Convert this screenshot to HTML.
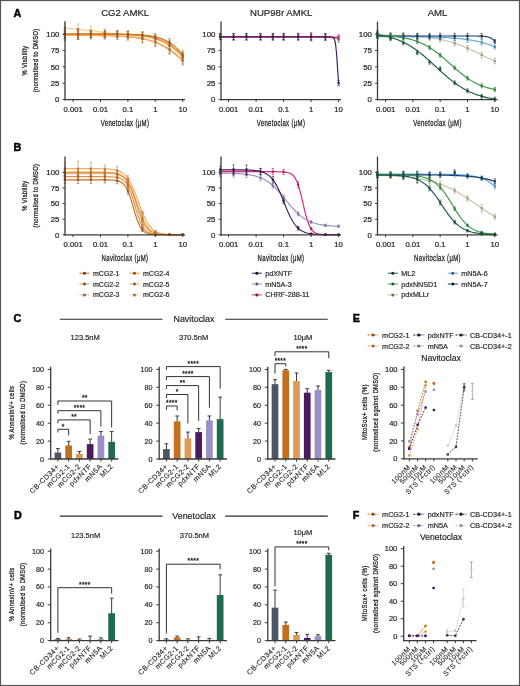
<!DOCTYPE html>
<html><head><meta charset="utf-8"><style>
html,body{margin:0;padding:0;background:#fff;}
svg{display:block;font-family:"Liberation Sans", sans-serif;will-change:transform;}
</style></head><body>
<svg width="520" height="686" viewBox="0 0 520 686">
<rect x="0.5" y="0.5" width="519" height="685" fill="#fff" stroke="#555" stroke-width="1.2"/>
<text x="13.60" y="17.00" font-size="10.8" text-anchor="start" font-weight="bold" fill="#000"  stroke="#000" stroke-width="0.45">A</text>
<text x="13.60" y="151.00" font-size="10.8" text-anchor="start" font-weight="bold" fill="#000"  stroke="#000" stroke-width="0.45">B</text>
<text x="13.60" y="322.30" font-size="10.8" text-anchor="start" font-weight="bold" fill="#000"  stroke="#000" stroke-width="0.45">C</text>
<text x="13.90" y="519.30" font-size="10.8" text-anchor="start" font-weight="bold" fill="#000"  stroke="#000" stroke-width="0.45">D</text>
<text x="352.80" y="322.30" font-size="10.8" text-anchor="start" font-weight="bold" fill="#000"  stroke="#000" stroke-width="0.45">E</text>
<text x="352.80" y="519.00" font-size="10.8" text-anchor="start" font-weight="bold" fill="#000"  stroke="#000" stroke-width="0.45">F</text>
<text x="125.20" y="16.30" font-size="9.6" text-anchor="middle" font-weight="normal" fill="#231f20" stroke="#231f20" stroke-width="0.18" >CG2 AMKL</text>
<text x="281.20" y="16.30" font-size="9.6" text-anchor="middle" font-weight="normal" fill="#231f20" stroke="#231f20" stroke-width="0.18" >NUP98r AMKL</text>
<text x="437.50" y="16.30" font-size="9.6" text-anchor="middle" font-weight="normal" fill="#231f20" stroke="#231f20" stroke-width="0.18" >AML</text>
<path d="M64.88,28.01 L65.86,28.09 L66.84,28.17 L67.83,28.25 L68.81,28.33 L69.79,28.42 L70.77,28.51 L71.75,28.60 L72.73,28.69 L73.72,28.78 L74.70,28.88 L75.68,28.98 L76.66,29.08 L77.64,29.18 L78.63,29.29 L79.61,29.40 L80.59,29.50 L81.57,29.62 L82.55,29.73 L83.53,29.84 L84.52,29.96 L85.50,30.08 L86.48,30.19 L87.46,30.31 L88.44,30.43 L89.43,30.56 L90.41,30.68 L91.39,30.80 L92.37,30.93 L93.35,31.05 L94.34,31.18 L95.32,31.30 L96.30,31.43 L97.28,31.56 L98.26,31.68 L99.24,31.81 L100.23,31.94 L101.21,32.07 L102.19,32.19 L103.17,32.32 L104.15,32.45 L105.14,32.57 L106.12,32.70 L107.10,32.82 L108.08,32.95 L109.06,33.07 L110.04,33.20 L111.03,33.32 L112.01,33.45 L112.99,33.57 L113.97,33.70 L114.95,33.82 L115.94,33.95 L116.92,34.07 L117.90,34.20 L118.88,34.33 L119.86,34.46 L120.84,34.58 L121.83,34.71 L122.81,34.85 L123.79,34.98 L124.77,35.11 L125.75,35.25 L126.74,35.39 L127.72,35.53 L128.70,35.68 L129.68,35.83 L130.66,35.98 L131.64,36.14 L132.63,36.30 L133.61,36.46 L134.59,36.63 L135.57,36.81 L136.55,36.99 L137.54,37.18 L138.52,37.37 L139.50,37.57 L140.48,37.78 L141.46,38.00 L142.44,38.23 L143.43,38.46 L144.41,38.71 L145.39,38.96 L146.37,39.23 L147.35,39.51 L148.34,39.80 L149.32,40.10 L150.30,40.41 L151.28,40.74 L152.26,41.09 L153.25,41.45 L154.23,41.82 L155.21,42.21 L156.19,42.62 L157.17,43.04 L158.15,43.49 L159.14,43.95 L160.12,44.43 L161.10,44.93 L162.08,45.44 L163.06,45.98 L164.05,46.54 L165.03,47.12 L166.01,47.72 L166.99,48.35 L167.97,48.99 L168.95,49.66 L169.94,50.34 L170.92,51.05 L171.90,51.78 L172.88,52.53 L173.86,53.30 L174.85,54.08 L175.83,54.89 L176.81,55.72 L177.79,56.56 L178.77,57.42 L179.75,58.30 L180.74,59.19 L181.72,60.09 L182.70,61.01" stroke="#f2d092" stroke-width="1.15" fill="none" />
<path d="M64.88,35.35 L65.86,35.35 L66.84,35.35 L67.83,35.35 L68.81,35.36 L69.79,35.36 L70.77,35.36 L71.75,35.36 L72.73,35.37 L73.72,35.37 L74.70,35.37 L75.68,35.38 L76.66,35.38 L77.64,35.39 L78.63,35.39 L79.61,35.40 L80.59,35.40 L81.57,35.41 L82.55,35.41 L83.53,35.42 L84.52,35.42 L85.50,35.43 L86.48,35.44 L87.46,35.45 L88.44,35.46 L89.43,35.46 L90.41,35.47 L91.39,35.48 L92.37,35.49 L93.35,35.50 L94.34,35.52 L95.32,35.53 L96.30,35.54 L97.28,35.56 L98.26,35.57 L99.24,35.59 L100.23,35.60 L101.21,35.62 L102.19,35.64 L103.17,35.66 L104.15,35.68 L105.14,35.70 L106.12,35.73 L107.10,35.75 L108.08,35.78 L109.06,35.81 L110.04,35.84 L111.03,35.87 L112.01,35.90 L112.99,35.94 L113.97,35.98 L114.95,36.02 L115.94,36.06 L116.92,36.10 L117.90,36.15 L118.88,36.20 L119.86,36.26 L120.84,36.31 L121.83,36.37 L122.81,36.44 L123.79,36.51 L124.77,36.58 L125.75,36.65 L126.74,36.73 L127.72,36.82 L128.70,36.91 L129.68,37.00 L130.66,37.10 L131.64,37.21 L132.63,37.32 L133.61,37.44 L134.59,37.57 L135.57,37.70 L136.55,37.84 L137.54,37.99 L138.52,38.15 L139.50,38.31 L140.48,38.49 L141.46,38.67 L142.44,38.87 L143.43,39.07 L144.41,39.29 L145.39,39.51 L146.37,39.75 L147.35,40.00 L148.34,40.27 L149.32,40.55 L150.30,40.84 L151.28,41.15 L152.26,41.47 L153.25,41.81 L154.23,42.17 L155.21,42.54 L156.19,42.93 L157.17,43.34 L158.15,43.76 L159.14,44.21 L160.12,44.67 L161.10,45.16 L162.08,45.67 L163.06,46.19 L164.05,46.74 L165.03,47.31 L166.01,47.90 L166.99,48.51 L167.97,49.15 L168.95,49.80 L169.94,50.48 L170.92,51.18 L171.90,51.90 L172.88,52.64 L173.86,53.40 L174.85,54.18 L175.83,54.99 L176.81,55.81 L177.79,56.64 L178.77,57.50 L179.75,58.37 L180.74,59.26 L181.72,60.16 L182.70,61.07" stroke="#e4b48c" stroke-width="1.15" fill="none" />
<path d="M64.88,35.34 L65.86,35.35 L66.84,35.35 L67.83,35.35 L68.81,35.35 L69.79,35.35 L70.77,35.36 L71.75,35.36 L72.73,35.36 L73.72,35.37 L74.70,35.37 L75.68,35.37 L76.66,35.38 L77.64,35.38 L78.63,35.38 L79.61,35.39 L80.59,35.39 L81.57,35.40 L82.55,35.40 L83.53,35.41 L84.52,35.42 L85.50,35.42 L86.48,35.43 L87.46,35.44 L88.44,35.44 L89.43,35.45 L90.41,35.46 L91.39,35.47 L92.37,35.48 L93.35,35.49 L94.34,35.50 L95.32,35.51 L96.30,35.52 L97.28,35.54 L98.26,35.55 L99.24,35.56 L100.23,35.58 L101.21,35.59 L102.19,35.61 L103.17,35.63 L104.15,35.65 L105.14,35.67 L106.12,35.69 L107.10,35.71 L108.08,35.74 L109.06,35.77 L110.04,35.79 L111.03,35.82 L112.01,35.85 L112.99,35.89 L113.97,35.92 L114.95,35.96 L115.94,36.00 L116.92,36.04 L117.90,36.08 L118.88,36.13 L119.86,36.18 L120.84,36.23 L121.83,36.29 L122.81,36.34 L123.79,36.41 L124.77,36.47 L125.75,36.54 L126.74,36.62 L127.72,36.69 L128.70,36.78 L129.68,36.86 L130.66,36.96 L131.64,37.05 L132.63,37.16 L133.61,37.27 L134.59,37.38 L135.57,37.51 L136.55,37.63 L137.54,37.77 L138.52,37.92 L139.50,38.07 L140.48,38.23 L141.46,38.40 L142.44,38.58 L143.43,38.77 L144.41,38.97 L145.39,39.18 L146.37,39.40 L147.35,39.63 L148.34,39.88 L149.32,40.14 L150.30,40.41 L151.28,40.69 L152.26,40.99 L153.25,41.31 L154.23,41.64 L155.21,41.99 L156.19,42.35 L157.17,42.73 L158.15,43.13 L159.14,43.55 L160.12,43.99 L161.10,44.44 L162.08,44.92 L163.06,45.41 L164.05,45.93 L165.03,46.46 L166.01,47.02 L166.99,47.60 L167.97,48.20 L168.95,48.83 L169.94,49.47 L170.92,50.14 L171.90,50.83 L172.88,51.54 L173.86,52.27 L174.85,53.02 L175.83,53.79 L176.81,54.59 L177.79,55.40 L178.77,56.23 L179.75,57.07 L180.74,57.94 L181.72,58.81 L182.70,59.71" stroke="#f4ac5c" stroke-width="1.15" fill="none" />
<path d="M64.88,34.01 L65.86,34.01 L66.84,34.01 L67.83,34.01 L68.81,34.01 L69.79,34.01 L70.77,34.01 L71.75,34.02 L72.73,34.02 L73.72,34.02 L74.70,34.02 L75.68,34.02 L76.66,34.02 L77.64,34.02 L78.63,34.02 L79.61,34.03 L80.59,34.03 L81.57,34.03 L82.55,34.03 L83.53,34.03 L84.52,34.04 L85.50,34.04 L86.48,34.04 L87.46,34.05 L88.44,34.05 L89.43,34.05 L90.41,34.06 L91.39,34.06 L92.37,34.06 L93.35,34.07 L94.34,34.07 L95.32,34.08 L96.30,34.08 L97.28,34.09 L98.26,34.10 L99.24,34.10 L100.23,34.11 L101.21,34.12 L102.19,34.13 L103.17,34.14 L104.15,34.14 L105.14,34.16 L106.12,34.17 L107.10,34.18 L108.08,34.19 L109.06,34.20 L110.04,34.22 L111.03,34.23 L112.01,34.25 L112.99,34.27 L113.97,34.29 L114.95,34.31 L115.94,34.33 L116.92,34.35 L117.90,34.38 L118.88,34.40 L119.86,34.43 L120.84,34.46 L121.83,34.49 L122.81,34.53 L123.79,34.57 L124.77,34.61 L125.75,34.65 L126.74,34.69 L127.72,34.74 L128.70,34.79 L129.68,34.85 L130.66,34.91 L131.64,34.97 L132.63,35.04 L133.61,35.11 L134.59,35.19 L135.57,35.27 L136.55,35.36 L137.54,35.46 L138.52,35.56 L139.50,35.66 L140.48,35.78 L141.46,35.90 L142.44,36.03 L143.43,36.17 L144.41,36.32 L145.39,36.48 L146.37,36.65 L147.35,36.83 L148.34,37.02 L149.32,37.22 L150.30,37.44 L151.28,37.67 L152.26,37.91 L153.25,38.17 L154.23,38.45 L155.21,38.74 L156.19,39.05 L157.17,39.38 L158.15,39.73 L159.14,40.09 L160.12,40.48 L161.10,40.89 L162.08,41.33 L163.06,41.79 L164.05,42.27 L165.03,42.78 L166.01,43.31 L166.99,43.87 L167.97,44.46 L168.95,45.07 L169.94,45.72 L170.92,46.39 L171.90,47.10 L172.88,47.83 L173.86,48.59 L174.85,49.38 L175.83,50.20 L176.81,51.05 L177.79,51.93 L178.77,52.84 L179.75,53.77 L180.74,54.73 L181.72,55.71 L182.70,56.72" stroke="#dc9050" stroke-width="1.15" fill="none" />
<path d="M64.88,34.00 L65.86,34.00 L66.84,34.01 L67.83,34.01 L68.81,34.01 L69.79,34.01 L70.77,34.01 L71.75,34.01 L72.73,34.01 L73.72,34.01 L74.70,34.01 L75.68,34.01 L76.66,34.01 L77.64,34.01 L78.63,34.01 L79.61,34.01 L80.59,34.02 L81.57,34.02 L82.55,34.02 L83.53,34.02 L84.52,34.02 L85.50,34.02 L86.48,34.02 L87.46,34.03 L88.44,34.03 L89.43,34.03 L90.41,34.03 L91.39,34.03 L92.37,34.04 L93.35,34.04 L94.34,34.04 L95.32,34.05 L96.30,34.05 L97.28,34.05 L98.26,34.06 L99.24,34.06 L100.23,34.07 L101.21,34.07 L102.19,34.08 L103.17,34.08 L104.15,34.09 L105.14,34.10 L106.12,34.10 L107.10,34.11 L108.08,34.12 L109.06,34.13 L110.04,34.14 L111.03,34.15 L112.01,34.16 L112.99,34.18 L113.97,34.19 L114.95,34.20 L115.94,34.22 L116.92,34.24 L117.90,34.25 L118.88,34.27 L119.86,34.30 L120.84,34.32 L121.83,34.34 L122.81,34.37 L123.79,34.40 L124.77,34.43 L125.75,34.46 L126.74,34.50 L127.72,34.53 L128.70,34.57 L129.68,34.62 L130.66,34.66 L131.64,34.72 L132.63,34.77 L133.61,34.83 L134.59,34.89 L135.57,34.96 L136.55,35.03 L137.54,35.11 L138.52,35.19 L139.50,35.28 L140.48,35.38 L141.46,35.49 L142.44,35.60 L143.43,35.72 L144.41,35.85 L145.39,35.98 L146.37,36.13 L147.35,36.29 L148.34,36.46 L149.32,36.64 L150.30,36.84 L151.28,37.05 L152.26,37.27 L153.25,37.51 L154.23,37.76 L155.21,38.03 L156.19,38.32 L157.17,38.63 L158.15,38.96 L159.14,39.32 L160.12,39.69 L161.10,40.09 L162.08,40.51 L163.06,40.96 L164.05,41.44 L165.03,41.94 L166.01,42.47 L166.99,43.04 L167.97,43.63 L168.95,44.26 L169.94,44.92 L170.92,45.61 L171.90,46.33 L172.88,47.10 L173.86,47.89 L174.85,48.72 L175.83,49.59 L176.81,50.49 L177.79,51.42 L178.77,52.39 L179.75,53.38 L180.74,54.41 L181.72,55.47 L182.70,56.56" stroke="#f0902a" stroke-width="1.15" fill="none" />
<path d="M64.88,34.00 L65.86,34.00 L66.84,34.00 L67.83,34.00 L68.81,34.00 L69.79,34.00 L70.77,34.00 L71.75,34.00 L72.73,34.00 L73.72,34.00 L74.70,34.00 L75.68,34.00 L76.66,34.00 L77.64,34.00 L78.63,34.00 L79.61,34.01 L80.59,34.01 L81.57,34.01 L82.55,34.01 L83.53,34.01 L84.52,34.01 L85.50,34.01 L86.48,34.01 L87.46,34.01 L88.44,34.01 L89.43,34.01 L90.41,34.01 L91.39,34.01 L92.37,34.02 L93.35,34.02 L94.34,34.02 L95.32,34.02 L96.30,34.02 L97.28,34.02 L98.26,34.02 L99.24,34.03 L100.23,34.03 L101.21,34.03 L102.19,34.03 L103.17,34.04 L104.15,34.04 L105.14,34.04 L106.12,34.05 L107.10,34.05 L108.08,34.06 L109.06,34.06 L110.04,34.07 L111.03,34.07 L112.01,34.08 L112.99,34.09 L113.97,34.09 L114.95,34.10 L115.94,34.11 L116.92,34.12 L117.90,34.13 L118.88,34.14 L119.86,34.15 L120.84,34.17 L121.83,34.18 L122.81,34.20 L123.79,34.21 L124.77,34.23 L125.75,34.25 L126.74,34.27 L127.72,34.30 L128.70,34.32 L129.68,34.35 L130.66,34.38 L131.64,34.41 L132.63,34.44 L133.61,34.48 L134.59,34.52 L135.57,34.57 L136.55,34.62 L137.54,34.67 L138.52,34.73 L139.50,34.79 L140.48,34.85 L141.46,34.93 L142.44,35.01 L143.43,35.09 L144.41,35.18 L145.39,35.28 L146.37,35.39 L147.35,35.51 L148.34,35.63 L149.32,35.77 L150.30,35.92 L151.28,36.08 L152.26,36.25 L153.25,36.44 L154.23,36.64 L155.21,36.86 L156.19,37.09 L157.17,37.34 L158.15,37.61 L159.14,37.91 L160.12,38.22 L161.10,38.56 L162.08,38.92 L163.06,39.31 L164.05,39.73 L165.03,40.17 L166.01,40.65 L166.99,41.16 L167.97,41.70 L168.95,42.28 L169.94,42.90 L170.92,43.55 L171.90,44.25 L172.88,44.98 L173.86,45.75 L174.85,46.57 L175.83,47.43 L176.81,48.33 L177.79,49.28 L178.77,50.27 L179.75,51.30 L180.74,52.37 L181.72,53.48 L182.70,54.63" stroke="#c8701e" stroke-width="1.15" fill="none" />
<line x1="64.88" y1="21.45" x2="64.88" y2="34.57" stroke="#c1a674" stroke-width="0.8" stroke-opacity="0.75"/>
<line x1="63.68" y1="21.45" x2="66.08" y2="21.45" stroke="#c1a674" stroke-width="0.8" stroke-opacity="0.75"/>
<line x1="63.68" y1="34.57" x2="66.08" y2="34.57" stroke="#c1a674" stroke-width="0.8" stroke-opacity="0.75"/>
<rect x="63.78" y="26.91" width="2.2" height="2.2" fill="#c1a674"/>
<line x1="78.03" y1="23.98" x2="78.03" y2="34.47" stroke="#c1a674" stroke-width="0.8" stroke-opacity="0.75"/>
<line x1="76.83" y1="23.98" x2="79.23" y2="23.98" stroke="#c1a674" stroke-width="0.8" stroke-opacity="0.75"/>
<line x1="76.83" y1="34.47" x2="79.23" y2="34.47" stroke="#c1a674" stroke-width="0.8" stroke-opacity="0.75"/>
<rect x="76.93" y="28.12" width="2.2" height="2.2" fill="#c1a674"/>
<line x1="90.91" y1="26.15" x2="90.91" y2="35.33" stroke="#c1a674" stroke-width="0.8" stroke-opacity="0.75"/>
<line x1="89.71" y1="26.15" x2="92.11" y2="26.15" stroke="#c1a674" stroke-width="0.8" stroke-opacity="0.75"/>
<line x1="89.71" y1="35.33" x2="92.11" y2="35.33" stroke="#c1a674" stroke-width="0.8" stroke-opacity="0.75"/>
<rect x="89.81" y="29.64" width="2.2" height="2.2" fill="#c1a674"/>
<line x1="104.88" y1="28.60" x2="104.88" y2="36.48" stroke="#c1a674" stroke-width="0.8" stroke-opacity="0.75"/>
<line x1="103.68" y1="28.60" x2="106.08" y2="28.60" stroke="#c1a674" stroke-width="0.8" stroke-opacity="0.75"/>
<line x1="103.68" y1="36.48" x2="106.08" y2="36.48" stroke="#c1a674" stroke-width="0.8" stroke-opacity="0.75"/>
<rect x="103.78" y="31.44" width="2.2" height="2.2" fill="#c1a674"/>
<line x1="117.21" y1="30.83" x2="117.21" y2="37.39" stroke="#c1a674" stroke-width="0.8" stroke-opacity="0.75"/>
<line x1="116.01" y1="30.83" x2="118.41" y2="30.83" stroke="#c1a674" stroke-width="0.8" stroke-opacity="0.75"/>
<line x1="116.01" y1="37.39" x2="118.41" y2="37.39" stroke="#c1a674" stroke-width="0.8" stroke-opacity="0.75"/>
<rect x="116.11" y="33.01" width="2.2" height="2.2" fill="#c1a674"/>
<line x1="127.90" y1="32.28" x2="127.90" y2="38.84" stroke="#c1a674" stroke-width="0.8" stroke-opacity="0.75"/>
<line x1="126.70" y1="32.28" x2="129.10" y2="32.28" stroke="#c1a674" stroke-width="0.8" stroke-opacity="0.75"/>
<line x1="126.70" y1="38.84" x2="129.10" y2="38.84" stroke="#c1a674" stroke-width="0.8" stroke-opacity="0.75"/>
<rect x="126.80" y="34.46" width="2.2" height="2.2" fill="#c1a674"/>
<line x1="142.42" y1="34.28" x2="142.42" y2="42.16" stroke="#c1a674" stroke-width="0.8" stroke-opacity="0.75"/>
<line x1="141.22" y1="34.28" x2="143.62" y2="34.28" stroke="#c1a674" stroke-width="0.8" stroke-opacity="0.75"/>
<line x1="141.22" y1="42.16" x2="143.62" y2="42.16" stroke="#c1a674" stroke-width="0.8" stroke-opacity="0.75"/>
<rect x="141.32" y="37.12" width="2.2" height="2.2" fill="#c1a674"/>
<line x1="155.30" y1="38.31" x2="155.30" y2="46.18" stroke="#c1a674" stroke-width="0.8" stroke-opacity="0.75"/>
<line x1="154.10" y1="38.31" x2="156.50" y2="38.31" stroke="#c1a674" stroke-width="0.8" stroke-opacity="0.75"/>
<line x1="154.10" y1="46.18" x2="156.50" y2="46.18" stroke="#c1a674" stroke-width="0.8" stroke-opacity="0.75"/>
<rect x="154.20" y="41.15" width="2.2" height="2.2" fill="#c1a674"/>
<line x1="169.55" y1="46.13" x2="169.55" y2="54.00" stroke="#c1a674" stroke-width="0.8" stroke-opacity="0.75"/>
<line x1="168.35" y1="46.13" x2="170.75" y2="46.13" stroke="#c1a674" stroke-width="0.8" stroke-opacity="0.75"/>
<line x1="168.35" y1="54.00" x2="170.75" y2="54.00" stroke="#c1a674" stroke-width="0.8" stroke-opacity="0.75"/>
<rect x="168.45" y="48.97" width="2.2" height="2.2" fill="#c1a674"/>
<line x1="182.70" y1="57.07" x2="182.70" y2="64.95" stroke="#c1a674" stroke-width="0.8" stroke-opacity="0.75"/>
<line x1="181.50" y1="57.07" x2="183.90" y2="57.07" stroke="#c1a674" stroke-width="0.8" stroke-opacity="0.75"/>
<line x1="181.50" y1="64.95" x2="183.90" y2="64.95" stroke="#c1a674" stroke-width="0.8" stroke-opacity="0.75"/>
<rect x="181.60" y="59.91" width="2.2" height="2.2" fill="#c1a674"/>
<line x1="64.88" y1="31.41" x2="64.88" y2="39.28" stroke="#b69070" stroke-width="0.8" stroke-opacity="0.75"/>
<line x1="63.68" y1="31.41" x2="66.08" y2="31.41" stroke="#b69070" stroke-width="0.8" stroke-opacity="0.75"/>
<line x1="63.68" y1="39.28" x2="66.08" y2="39.28" stroke="#b69070" stroke-width="0.8" stroke-opacity="0.75"/>
<rect x="63.78" y="34.25" width="2.2" height="2.2" fill="#b69070"/>
<line x1="78.03" y1="31.45" x2="78.03" y2="39.32" stroke="#b69070" stroke-width="0.8" stroke-opacity="0.75"/>
<line x1="76.83" y1="31.45" x2="79.23" y2="31.45" stroke="#b69070" stroke-width="0.8" stroke-opacity="0.75"/>
<line x1="76.83" y1="39.32" x2="79.23" y2="39.32" stroke="#b69070" stroke-width="0.8" stroke-opacity="0.75"/>
<rect x="76.93" y="34.29" width="2.2" height="2.2" fill="#b69070"/>
<line x1="90.91" y1="32.20" x2="90.91" y2="38.76" stroke="#b69070" stroke-width="0.8" stroke-opacity="0.75"/>
<line x1="89.71" y1="32.20" x2="92.11" y2="32.20" stroke="#b69070" stroke-width="0.8" stroke-opacity="0.75"/>
<line x1="89.71" y1="38.76" x2="92.11" y2="38.76" stroke="#b69070" stroke-width="0.8" stroke-opacity="0.75"/>
<rect x="89.81" y="34.38" width="2.2" height="2.2" fill="#b69070"/>
<line x1="104.88" y1="32.42" x2="104.88" y2="38.98" stroke="#b69070" stroke-width="0.8" stroke-opacity="0.75"/>
<line x1="103.68" y1="32.42" x2="106.08" y2="32.42" stroke="#b69070" stroke-width="0.8" stroke-opacity="0.75"/>
<line x1="103.68" y1="38.98" x2="106.08" y2="38.98" stroke="#b69070" stroke-width="0.8" stroke-opacity="0.75"/>
<rect x="103.78" y="34.60" width="2.2" height="2.2" fill="#b69070"/>
<line x1="117.21" y1="32.84" x2="117.21" y2="39.40" stroke="#b69070" stroke-width="0.8" stroke-opacity="0.75"/>
<line x1="116.01" y1="32.84" x2="118.41" y2="32.84" stroke="#b69070" stroke-width="0.8" stroke-opacity="0.75"/>
<line x1="116.01" y1="39.40" x2="118.41" y2="39.40" stroke="#b69070" stroke-width="0.8" stroke-opacity="0.75"/>
<rect x="116.11" y="35.02" width="2.2" height="2.2" fill="#b69070"/>
<line x1="127.90" y1="33.56" x2="127.90" y2="40.12" stroke="#b69070" stroke-width="0.8" stroke-opacity="0.75"/>
<line x1="126.70" y1="33.56" x2="129.10" y2="33.56" stroke="#b69070" stroke-width="0.8" stroke-opacity="0.75"/>
<line x1="126.70" y1="40.12" x2="129.10" y2="40.12" stroke="#b69070" stroke-width="0.8" stroke-opacity="0.75"/>
<rect x="126.80" y="35.74" width="2.2" height="2.2" fill="#b69070"/>
<line x1="142.42" y1="34.92" x2="142.42" y2="42.80" stroke="#b69070" stroke-width="0.8" stroke-opacity="0.75"/>
<line x1="141.22" y1="34.92" x2="143.62" y2="34.92" stroke="#b69070" stroke-width="0.8" stroke-opacity="0.75"/>
<line x1="141.22" y1="42.80" x2="143.62" y2="42.80" stroke="#b69070" stroke-width="0.8" stroke-opacity="0.75"/>
<rect x="141.32" y="37.76" width="2.2" height="2.2" fill="#b69070"/>
<line x1="155.30" y1="38.64" x2="155.30" y2="46.51" stroke="#b69070" stroke-width="0.8" stroke-opacity="0.75"/>
<line x1="154.10" y1="38.64" x2="156.50" y2="38.64" stroke="#b69070" stroke-width="0.8" stroke-opacity="0.75"/>
<line x1="154.10" y1="46.51" x2="156.50" y2="46.51" stroke="#b69070" stroke-width="0.8" stroke-opacity="0.75"/>
<rect x="154.20" y="41.47" width="2.2" height="2.2" fill="#b69070"/>
<line x1="169.55" y1="46.27" x2="169.55" y2="54.14" stroke="#b69070" stroke-width="0.8" stroke-opacity="0.75"/>
<line x1="168.35" y1="46.27" x2="170.75" y2="46.27" stroke="#b69070" stroke-width="0.8" stroke-opacity="0.75"/>
<line x1="168.35" y1="54.14" x2="170.75" y2="54.14" stroke="#b69070" stroke-width="0.8" stroke-opacity="0.75"/>
<rect x="168.45" y="49.11" width="2.2" height="2.2" fill="#b69070"/>
<line x1="182.70" y1="57.13" x2="182.70" y2="65.00" stroke="#b69070" stroke-width="0.8" stroke-opacity="0.75"/>
<line x1="181.50" y1="57.13" x2="183.90" y2="57.13" stroke="#b69070" stroke-width="0.8" stroke-opacity="0.75"/>
<line x1="181.50" y1="65.00" x2="183.90" y2="65.00" stroke="#b69070" stroke-width="0.8" stroke-opacity="0.75"/>
<rect x="181.60" y="59.97" width="2.2" height="2.2" fill="#b69070"/>
<line x1="64.88" y1="31.41" x2="64.88" y2="39.28" stroke="#c38949" stroke-width="0.8" stroke-opacity="0.75"/>
<line x1="63.68" y1="31.41" x2="66.08" y2="31.41" stroke="#c38949" stroke-width="0.8" stroke-opacity="0.75"/>
<line x1="63.68" y1="39.28" x2="66.08" y2="39.28" stroke="#c38949" stroke-width="0.8" stroke-opacity="0.75"/>
<rect x="63.78" y="34.24" width="2.2" height="2.2" fill="#c38949"/>
<line x1="78.03" y1="31.45" x2="78.03" y2="39.32" stroke="#c38949" stroke-width="0.8" stroke-opacity="0.75"/>
<line x1="76.83" y1="31.45" x2="79.23" y2="31.45" stroke="#c38949" stroke-width="0.8" stroke-opacity="0.75"/>
<line x1="76.83" y1="39.32" x2="79.23" y2="39.32" stroke="#c38949" stroke-width="0.8" stroke-opacity="0.75"/>
<rect x="76.93" y="34.28" width="2.2" height="2.2" fill="#c38949"/>
<line x1="90.91" y1="32.18" x2="90.91" y2="38.74" stroke="#c38949" stroke-width="0.8" stroke-opacity="0.75"/>
<line x1="89.71" y1="32.18" x2="92.11" y2="32.18" stroke="#c38949" stroke-width="0.8" stroke-opacity="0.75"/>
<line x1="89.71" y1="38.74" x2="92.11" y2="38.74" stroke="#c38949" stroke-width="0.8" stroke-opacity="0.75"/>
<rect x="89.81" y="34.36" width="2.2" height="2.2" fill="#c38949"/>
<line x1="104.88" y1="32.38" x2="104.88" y2="38.94" stroke="#c38949" stroke-width="0.8" stroke-opacity="0.75"/>
<line x1="103.68" y1="32.38" x2="106.08" y2="32.38" stroke="#c38949" stroke-width="0.8" stroke-opacity="0.75"/>
<line x1="103.68" y1="38.94" x2="106.08" y2="38.94" stroke="#c38949" stroke-width="0.8" stroke-opacity="0.75"/>
<rect x="103.78" y="34.56" width="2.2" height="2.2" fill="#c38949"/>
<line x1="117.21" y1="32.77" x2="117.21" y2="39.33" stroke="#c38949" stroke-width="0.8" stroke-opacity="0.75"/>
<line x1="116.01" y1="32.77" x2="118.41" y2="32.77" stroke="#c38949" stroke-width="0.8" stroke-opacity="0.75"/>
<line x1="116.01" y1="39.33" x2="118.41" y2="39.33" stroke="#c38949" stroke-width="0.8" stroke-opacity="0.75"/>
<rect x="116.11" y="34.95" width="2.2" height="2.2" fill="#c38949"/>
<line x1="127.90" y1="33.43" x2="127.90" y2="39.99" stroke="#c38949" stroke-width="0.8" stroke-opacity="0.75"/>
<line x1="126.70" y1="33.43" x2="129.10" y2="33.43" stroke="#c38949" stroke-width="0.8" stroke-opacity="0.75"/>
<line x1="126.70" y1="39.99" x2="129.10" y2="39.99" stroke="#c38949" stroke-width="0.8" stroke-opacity="0.75"/>
<rect x="126.80" y="35.61" width="2.2" height="2.2" fill="#c38949"/>
<line x1="142.42" y1="34.64" x2="142.42" y2="42.51" stroke="#c38949" stroke-width="0.8" stroke-opacity="0.75"/>
<line x1="141.22" y1="34.64" x2="143.62" y2="34.64" stroke="#c38949" stroke-width="0.8" stroke-opacity="0.75"/>
<line x1="141.22" y1="42.51" x2="143.62" y2="42.51" stroke="#c38949" stroke-width="0.8" stroke-opacity="0.75"/>
<rect x="141.32" y="37.47" width="2.2" height="2.2" fill="#c38949"/>
<line x1="155.30" y1="38.09" x2="155.30" y2="45.96" stroke="#c38949" stroke-width="0.8" stroke-opacity="0.75"/>
<line x1="154.10" y1="38.09" x2="156.50" y2="38.09" stroke="#c38949" stroke-width="0.8" stroke-opacity="0.75"/>
<line x1="154.10" y1="45.96" x2="156.50" y2="45.96" stroke="#c38949" stroke-width="0.8" stroke-opacity="0.75"/>
<rect x="154.20" y="40.92" width="2.2" height="2.2" fill="#c38949"/>
<line x1="169.55" y1="45.28" x2="169.55" y2="53.15" stroke="#c38949" stroke-width="0.8" stroke-opacity="0.75"/>
<line x1="168.35" y1="45.28" x2="170.75" y2="45.28" stroke="#c38949" stroke-width="0.8" stroke-opacity="0.75"/>
<line x1="168.35" y1="53.15" x2="170.75" y2="53.15" stroke="#c38949" stroke-width="0.8" stroke-opacity="0.75"/>
<rect x="168.45" y="48.11" width="2.2" height="2.2" fill="#c38949"/>
<line x1="182.70" y1="55.77" x2="182.70" y2="63.64" stroke="#c38949" stroke-width="0.8" stroke-opacity="0.75"/>
<line x1="181.50" y1="55.77" x2="183.90" y2="55.77" stroke="#c38949" stroke-width="0.8" stroke-opacity="0.75"/>
<line x1="181.50" y1="63.64" x2="183.90" y2="63.64" stroke="#c38949" stroke-width="0.8" stroke-opacity="0.75"/>
<rect x="181.60" y="58.61" width="2.2" height="2.2" fill="#c38949"/>
<line x1="64.88" y1="30.07" x2="64.88" y2="37.95" stroke="#b07340" stroke-width="0.8" stroke-opacity="0.75"/>
<line x1="63.68" y1="30.07" x2="66.08" y2="30.07" stroke="#b07340" stroke-width="0.8" stroke-opacity="0.75"/>
<line x1="63.68" y1="37.95" x2="66.08" y2="37.95" stroke="#b07340" stroke-width="0.8" stroke-opacity="0.75"/>
<rect x="63.78" y="32.91" width="2.2" height="2.2" fill="#b07340"/>
<line x1="78.03" y1="30.09" x2="78.03" y2="37.96" stroke="#b07340" stroke-width="0.8" stroke-opacity="0.75"/>
<line x1="76.83" y1="30.09" x2="79.23" y2="30.09" stroke="#b07340" stroke-width="0.8" stroke-opacity="0.75"/>
<line x1="76.83" y1="37.96" x2="79.23" y2="37.96" stroke="#b07340" stroke-width="0.8" stroke-opacity="0.75"/>
<rect x="76.93" y="32.92" width="2.2" height="2.2" fill="#b07340"/>
<line x1="90.91" y1="30.78" x2="90.91" y2="37.34" stroke="#b07340" stroke-width="0.8" stroke-opacity="0.75"/>
<line x1="89.71" y1="30.78" x2="92.11" y2="30.78" stroke="#b07340" stroke-width="0.8" stroke-opacity="0.75"/>
<line x1="89.71" y1="37.34" x2="92.11" y2="37.34" stroke="#b07340" stroke-width="0.8" stroke-opacity="0.75"/>
<rect x="89.81" y="32.96" width="2.2" height="2.2" fill="#b07340"/>
<line x1="104.88" y1="30.87" x2="104.88" y2="37.43" stroke="#b07340" stroke-width="0.8" stroke-opacity="0.75"/>
<line x1="103.68" y1="30.87" x2="106.08" y2="30.87" stroke="#b07340" stroke-width="0.8" stroke-opacity="0.75"/>
<line x1="103.68" y1="37.43" x2="106.08" y2="37.43" stroke="#b07340" stroke-width="0.8" stroke-opacity="0.75"/>
<rect x="103.78" y="33.05" width="2.2" height="2.2" fill="#b07340"/>
<line x1="117.21" y1="31.08" x2="117.21" y2="37.64" stroke="#b07340" stroke-width="0.8" stroke-opacity="0.75"/>
<line x1="116.01" y1="31.08" x2="118.41" y2="31.08" stroke="#b07340" stroke-width="0.8" stroke-opacity="0.75"/>
<line x1="116.01" y1="37.64" x2="118.41" y2="37.64" stroke="#b07340" stroke-width="0.8" stroke-opacity="0.75"/>
<rect x="116.11" y="33.26" width="2.2" height="2.2" fill="#b07340"/>
<line x1="127.90" y1="31.47" x2="127.90" y2="38.03" stroke="#b07340" stroke-width="0.8" stroke-opacity="0.75"/>
<line x1="126.70" y1="31.47" x2="129.10" y2="31.47" stroke="#b07340" stroke-width="0.8" stroke-opacity="0.75"/>
<line x1="126.70" y1="38.03" x2="129.10" y2="38.03" stroke="#b07340" stroke-width="0.8" stroke-opacity="0.75"/>
<rect x="126.80" y="33.65" width="2.2" height="2.2" fill="#b07340"/>
<line x1="142.42" y1="32.75" x2="142.42" y2="39.31" stroke="#b07340" stroke-width="0.8" stroke-opacity="0.75"/>
<line x1="141.22" y1="32.75" x2="143.62" y2="32.75" stroke="#b07340" stroke-width="0.8" stroke-opacity="0.75"/>
<line x1="141.22" y1="39.31" x2="143.62" y2="39.31" stroke="#b07340" stroke-width="0.8" stroke-opacity="0.75"/>
<rect x="141.32" y="34.93" width="2.2" height="2.2" fill="#b07340"/>
<line x1="155.30" y1="35.49" x2="155.30" y2="42.05" stroke="#b07340" stroke-width="0.8" stroke-opacity="0.75"/>
<line x1="154.10" y1="35.49" x2="156.50" y2="35.49" stroke="#b07340" stroke-width="0.8" stroke-opacity="0.75"/>
<line x1="154.10" y1="42.05" x2="156.50" y2="42.05" stroke="#b07340" stroke-width="0.8" stroke-opacity="0.75"/>
<rect x="154.20" y="37.67" width="2.2" height="2.2" fill="#b07340"/>
<line x1="169.55" y1="41.52" x2="169.55" y2="49.40" stroke="#b07340" stroke-width="0.8" stroke-opacity="0.75"/>
<line x1="168.35" y1="41.52" x2="170.75" y2="41.52" stroke="#b07340" stroke-width="0.8" stroke-opacity="0.75"/>
<line x1="168.35" y1="49.40" x2="170.75" y2="49.40" stroke="#b07340" stroke-width="0.8" stroke-opacity="0.75"/>
<rect x="168.45" y="44.36" width="2.2" height="2.2" fill="#b07340"/>
<line x1="182.70" y1="52.78" x2="182.70" y2="60.65" stroke="#b07340" stroke-width="0.8" stroke-opacity="0.75"/>
<line x1="181.50" y1="52.78" x2="183.90" y2="52.78" stroke="#b07340" stroke-width="0.8" stroke-opacity="0.75"/>
<line x1="181.50" y1="60.65" x2="183.90" y2="60.65" stroke="#b07340" stroke-width="0.8" stroke-opacity="0.75"/>
<rect x="181.60" y="55.62" width="2.2" height="2.2" fill="#b07340"/>
<line x1="64.88" y1="30.07" x2="64.88" y2="37.94" stroke="#c07321" stroke-width="0.8" stroke-opacity="0.75"/>
<line x1="63.68" y1="30.07" x2="66.08" y2="30.07" stroke="#c07321" stroke-width="0.8" stroke-opacity="0.75"/>
<line x1="63.68" y1="37.94" x2="66.08" y2="37.94" stroke="#c07321" stroke-width="0.8" stroke-opacity="0.75"/>
<rect x="63.78" y="32.90" width="2.2" height="2.2" fill="#c07321"/>
<line x1="78.03" y1="30.08" x2="78.03" y2="37.95" stroke="#c07321" stroke-width="0.8" stroke-opacity="0.75"/>
<line x1="76.83" y1="30.08" x2="79.23" y2="30.08" stroke="#c07321" stroke-width="0.8" stroke-opacity="0.75"/>
<line x1="76.83" y1="37.95" x2="79.23" y2="37.95" stroke="#c07321" stroke-width="0.8" stroke-opacity="0.75"/>
<rect x="76.93" y="32.91" width="2.2" height="2.2" fill="#c07321"/>
<line x1="90.91" y1="30.75" x2="90.91" y2="37.31" stroke="#c07321" stroke-width="0.8" stroke-opacity="0.75"/>
<line x1="89.71" y1="30.75" x2="92.11" y2="30.75" stroke="#c07321" stroke-width="0.8" stroke-opacity="0.75"/>
<line x1="89.71" y1="37.31" x2="92.11" y2="37.31" stroke="#c07321" stroke-width="0.8" stroke-opacity="0.75"/>
<rect x="89.81" y="32.93" width="2.2" height="2.2" fill="#c07321"/>
<line x1="104.88" y1="30.82" x2="104.88" y2="37.38" stroke="#c07321" stroke-width="0.8" stroke-opacity="0.75"/>
<line x1="103.68" y1="30.82" x2="106.08" y2="30.82" stroke="#c07321" stroke-width="0.8" stroke-opacity="0.75"/>
<line x1="103.68" y1="37.38" x2="106.08" y2="37.38" stroke="#c07321" stroke-width="0.8" stroke-opacity="0.75"/>
<rect x="103.78" y="33.00" width="2.2" height="2.2" fill="#c07321"/>
<line x1="117.21" y1="30.96" x2="117.21" y2="37.52" stroke="#c07321" stroke-width="0.8" stroke-opacity="0.75"/>
<line x1="116.01" y1="30.96" x2="118.41" y2="30.96" stroke="#c07321" stroke-width="0.8" stroke-opacity="0.75"/>
<line x1="116.01" y1="37.52" x2="118.41" y2="37.52" stroke="#c07321" stroke-width="0.8" stroke-opacity="0.75"/>
<rect x="116.11" y="33.14" width="2.2" height="2.2" fill="#c07321"/>
<line x1="127.90" y1="31.26" x2="127.90" y2="37.82" stroke="#c07321" stroke-width="0.8" stroke-opacity="0.75"/>
<line x1="126.70" y1="31.26" x2="129.10" y2="31.26" stroke="#c07321" stroke-width="0.8" stroke-opacity="0.75"/>
<line x1="126.70" y1="37.82" x2="129.10" y2="37.82" stroke="#c07321" stroke-width="0.8" stroke-opacity="0.75"/>
<rect x="126.80" y="33.44" width="2.2" height="2.2" fill="#c07321"/>
<line x1="142.42" y1="32.31" x2="142.42" y2="38.87" stroke="#c07321" stroke-width="0.8" stroke-opacity="0.75"/>
<line x1="141.22" y1="32.31" x2="143.62" y2="32.31" stroke="#c07321" stroke-width="0.8" stroke-opacity="0.75"/>
<line x1="141.22" y1="38.87" x2="143.62" y2="38.87" stroke="#c07321" stroke-width="0.8" stroke-opacity="0.75"/>
<rect x="141.32" y="34.49" width="2.2" height="2.2" fill="#c07321"/>
<line x1="155.30" y1="34.78" x2="155.30" y2="41.34" stroke="#c07321" stroke-width="0.8" stroke-opacity="0.75"/>
<line x1="154.10" y1="34.78" x2="156.50" y2="34.78" stroke="#c07321" stroke-width="0.8" stroke-opacity="0.75"/>
<line x1="154.10" y1="41.34" x2="156.50" y2="41.34" stroke="#c07321" stroke-width="0.8" stroke-opacity="0.75"/>
<rect x="154.20" y="36.96" width="2.2" height="2.2" fill="#c07321"/>
<line x1="169.55" y1="40.71" x2="169.55" y2="48.59" stroke="#c07321" stroke-width="0.8" stroke-opacity="0.75"/>
<line x1="168.35" y1="40.71" x2="170.75" y2="40.71" stroke="#c07321" stroke-width="0.8" stroke-opacity="0.75"/>
<line x1="168.35" y1="48.59" x2="170.75" y2="48.59" stroke="#c07321" stroke-width="0.8" stroke-opacity="0.75"/>
<rect x="168.45" y="43.55" width="2.2" height="2.2" fill="#c07321"/>
<line x1="182.70" y1="52.62" x2="182.70" y2="60.49" stroke="#c07321" stroke-width="0.8" stroke-opacity="0.75"/>
<line x1="181.50" y1="52.62" x2="183.90" y2="52.62" stroke="#c07321" stroke-width="0.8" stroke-opacity="0.75"/>
<line x1="181.50" y1="60.49" x2="183.90" y2="60.49" stroke="#c07321" stroke-width="0.8" stroke-opacity="0.75"/>
<rect x="181.60" y="55.46" width="2.2" height="2.2" fill="#c07321"/>
<line x1="64.88" y1="27.44" x2="64.88" y2="40.56" stroke="#a05918" stroke-width="0.8" stroke-opacity="0.75"/>
<line x1="63.68" y1="27.44" x2="66.08" y2="27.44" stroke="#a05918" stroke-width="0.8" stroke-opacity="0.75"/>
<line x1="63.68" y1="40.56" x2="66.08" y2="40.56" stroke="#a05918" stroke-width="0.8" stroke-opacity="0.75"/>
<rect x="63.78" y="32.90" width="2.2" height="2.2" fill="#a05918"/>
<line x1="78.03" y1="28.76" x2="78.03" y2="39.25" stroke="#a05918" stroke-width="0.8" stroke-opacity="0.75"/>
<line x1="76.83" y1="28.76" x2="79.23" y2="28.76" stroke="#a05918" stroke-width="0.8" stroke-opacity="0.75"/>
<line x1="76.83" y1="39.25" x2="79.23" y2="39.25" stroke="#a05918" stroke-width="0.8" stroke-opacity="0.75"/>
<rect x="76.93" y="32.90" width="2.2" height="2.2" fill="#a05918"/>
<line x1="90.91" y1="30.08" x2="90.91" y2="37.95" stroke="#a05918" stroke-width="0.8" stroke-opacity="0.75"/>
<line x1="89.71" y1="30.08" x2="92.11" y2="30.08" stroke="#a05918" stroke-width="0.8" stroke-opacity="0.75"/>
<line x1="89.71" y1="37.95" x2="92.11" y2="37.95" stroke="#a05918" stroke-width="0.8" stroke-opacity="0.75"/>
<rect x="89.81" y="32.91" width="2.2" height="2.2" fill="#a05918"/>
<line x1="104.88" y1="30.76" x2="104.88" y2="37.32" stroke="#a05918" stroke-width="0.8" stroke-opacity="0.75"/>
<line x1="103.68" y1="30.76" x2="106.08" y2="30.76" stroke="#a05918" stroke-width="0.8" stroke-opacity="0.75"/>
<line x1="103.68" y1="37.32" x2="106.08" y2="37.32" stroke="#a05918" stroke-width="0.8" stroke-opacity="0.75"/>
<rect x="103.78" y="32.94" width="2.2" height="2.2" fill="#a05918"/>
<line x1="117.21" y1="30.84" x2="117.21" y2="37.40" stroke="#a05918" stroke-width="0.8" stroke-opacity="0.75"/>
<line x1="116.01" y1="30.84" x2="118.41" y2="30.84" stroke="#a05918" stroke-width="0.8" stroke-opacity="0.75"/>
<line x1="116.01" y1="37.40" x2="118.41" y2="37.40" stroke="#a05918" stroke-width="0.8" stroke-opacity="0.75"/>
<rect x="116.11" y="33.02" width="2.2" height="2.2" fill="#a05918"/>
<line x1="127.90" y1="31.02" x2="127.90" y2="37.58" stroke="#a05918" stroke-width="0.8" stroke-opacity="0.75"/>
<line x1="126.70" y1="31.02" x2="129.10" y2="31.02" stroke="#a05918" stroke-width="0.8" stroke-opacity="0.75"/>
<line x1="126.70" y1="37.58" x2="129.10" y2="37.58" stroke="#a05918" stroke-width="0.8" stroke-opacity="0.75"/>
<rect x="126.80" y="33.20" width="2.2" height="2.2" fill="#a05918"/>
<line x1="142.42" y1="31.72" x2="142.42" y2="38.28" stroke="#a05918" stroke-width="0.8" stroke-opacity="0.75"/>
<line x1="141.22" y1="31.72" x2="143.62" y2="31.72" stroke="#a05918" stroke-width="0.8" stroke-opacity="0.75"/>
<line x1="141.22" y1="38.28" x2="143.62" y2="38.28" stroke="#a05918" stroke-width="0.8" stroke-opacity="0.75"/>
<rect x="141.32" y="33.90" width="2.2" height="2.2" fill="#a05918"/>
<line x1="155.30" y1="33.60" x2="155.30" y2="40.16" stroke="#a05918" stroke-width="0.8" stroke-opacity="0.75"/>
<line x1="154.10" y1="33.60" x2="156.50" y2="33.60" stroke="#a05918" stroke-width="0.8" stroke-opacity="0.75"/>
<line x1="154.10" y1="40.16" x2="156.50" y2="40.16" stroke="#a05918" stroke-width="0.8" stroke-opacity="0.75"/>
<rect x="154.20" y="35.78" width="2.2" height="2.2" fill="#a05918"/>
<line x1="169.55" y1="38.71" x2="169.55" y2="46.59" stroke="#a05918" stroke-width="0.8" stroke-opacity="0.75"/>
<line x1="168.35" y1="38.71" x2="170.75" y2="38.71" stroke="#a05918" stroke-width="0.8" stroke-opacity="0.75"/>
<line x1="168.35" y1="46.59" x2="170.75" y2="46.59" stroke="#a05918" stroke-width="0.8" stroke-opacity="0.75"/>
<rect x="168.45" y="41.55" width="2.2" height="2.2" fill="#a05918"/>
<line x1="182.70" y1="50.69" x2="182.70" y2="58.56" stroke="#a05918" stroke-width="0.8" stroke-opacity="0.75"/>
<line x1="181.50" y1="50.69" x2="183.90" y2="50.69" stroke="#a05918" stroke-width="0.8" stroke-opacity="0.75"/>
<line x1="181.50" y1="58.56" x2="183.90" y2="58.56" stroke="#a05918" stroke-width="0.8" stroke-opacity="0.75"/>
<rect x="181.60" y="53.53" width="2.2" height="2.2" fill="#a05918"/>
<line x1="65.00" y1="21.60" x2="65.00" y2="100.20" stroke="#3a3a3a" stroke-width="1.3" />
<line x1="64.40" y1="99.60" x2="185.00" y2="99.60" stroke="#3a3a3a" stroke-width="1.3" />
<line x1="62.60" y1="99.60" x2="65.00" y2="99.60" stroke="#3a3a3a" stroke-width="1" />
<text x="59.50" y="102.40" font-size="7.9" text-anchor="end" font-weight="normal" fill="#231f20" stroke="#231f20" stroke-width="0.22" >0</text>
<line x1="62.60" y1="83.20" x2="65.00" y2="83.20" stroke="#3a3a3a" stroke-width="1" />
<text x="59.50" y="86.00" font-size="7.9" text-anchor="end" font-weight="normal" fill="#231f20" stroke="#231f20" stroke-width="0.22" >25</text>
<line x1="62.60" y1="66.80" x2="65.00" y2="66.80" stroke="#3a3a3a" stroke-width="1" />
<text x="59.50" y="69.60" font-size="7.9" text-anchor="end" font-weight="normal" fill="#231f20" stroke="#231f20" stroke-width="0.22" >50</text>
<line x1="62.60" y1="50.40" x2="65.00" y2="50.40" stroke="#3a3a3a" stroke-width="1" />
<text x="59.50" y="53.20" font-size="7.9" text-anchor="end" font-weight="normal" fill="#231f20" stroke="#231f20" stroke-width="0.22" >75</text>
<line x1="62.60" y1="34.00" x2="65.00" y2="34.00" stroke="#3a3a3a" stroke-width="1" />
<text x="59.50" y="36.80" font-size="7.9" text-anchor="end" font-weight="normal" fill="#231f20" stroke="#231f20" stroke-width="0.22" >100</text>
<line x1="73.10" y1="99.60" x2="73.10" y2="102.00" stroke="#3a3a3a" stroke-width="1" />
<text x="73.10" y="111.80" font-size="7.7" text-anchor="middle" font-weight="normal" fill="#231f20" stroke="#231f20" stroke-width="0.22" >0.001</text>
<line x1="100.50" y1="99.60" x2="100.50" y2="102.00" stroke="#3a3a3a" stroke-width="1" />
<text x="100.50" y="111.80" font-size="7.7" text-anchor="middle" font-weight="normal" fill="#231f20" stroke="#231f20" stroke-width="0.22" >0.01</text>
<line x1="127.90" y1="99.60" x2="127.90" y2="102.00" stroke="#3a3a3a" stroke-width="1" />
<text x="127.90" y="111.80" font-size="7.7" text-anchor="middle" font-weight="normal" fill="#231f20" stroke="#231f20" stroke-width="0.22" >0.1</text>
<line x1="155.30" y1="99.60" x2="155.30" y2="102.00" stroke="#3a3a3a" stroke-width="1" />
<text x="155.30" y="111.80" font-size="7.7" text-anchor="middle" font-weight="normal" fill="#231f20" stroke="#231f20" stroke-width="0.22" >1</text>
<line x1="182.70" y1="99.60" x2="182.70" y2="102.00" stroke="#3a3a3a" stroke-width="1" />
<text x="182.70" y="111.80" font-size="7.7" text-anchor="middle" font-weight="normal" fill="#231f20" stroke="#231f20" stroke-width="0.22" >10</text>
<g transform="translate(124.80,125.90) rotate(0) scale(0.655,1)"><text x="0.25" y="0" font-size="9.2" text-anchor="middle" fill="#231f20" stroke="#231f20" stroke-width="0.3" letter-spacing="0.5">Venetoclax (μM)</text></g>
<path d="M220.35,36.62 L221.34,36.62 L222.32,36.62 L223.31,36.62 L224.29,36.62 L225.28,36.62 L226.26,36.62 L227.25,36.62 L228.23,36.62 L229.22,36.62 L230.20,36.62 L231.19,36.62 L232.17,36.62 L233.16,36.62 L234.15,36.62 L235.13,36.62 L236.12,36.62 L237.10,36.62 L238.09,36.62 L239.07,36.62 L240.06,36.62 L241.04,36.62 L242.03,36.62 L243.01,36.62 L244.00,36.62 L244.99,36.62 L245.97,36.62 L246.96,36.62 L247.94,36.62 L248.93,36.62 L249.91,36.62 L250.90,36.62 L251.88,36.62 L252.87,36.62 L253.85,36.62 L254.84,36.62 L255.82,36.62 L256.81,36.62 L257.80,36.62 L258.78,36.62 L259.77,36.62 L260.75,36.62 L261.74,36.62 L262.72,36.62 L263.71,36.62 L264.69,36.62 L265.68,36.62 L266.66,36.62 L267.65,36.62 L268.64,36.62 L269.62,36.62 L270.61,36.62 L271.59,36.62 L272.58,36.62 L273.56,36.62 L274.55,36.62 L275.53,36.63 L276.52,36.63 L277.50,36.63 L278.49,36.63 L279.48,36.63 L280.46,36.63 L281.45,36.63 L282.43,36.63 L283.42,36.63 L284.40,36.63 L285.39,36.63 L286.37,36.63 L287.36,36.63 L288.34,36.63 L289.33,36.63 L290.31,36.63 L291.30,36.63 L292.29,36.63 L293.27,36.63 L294.26,36.63 L295.24,36.64 L296.23,36.64 L297.21,36.64 L298.20,36.64 L299.18,36.64 L300.17,36.65 L301.15,36.65 L302.14,36.65 L303.12,36.66 L304.11,36.66 L305.10,36.67 L306.08,36.67 L307.07,36.68 L308.05,36.68 L309.04,36.69 L310.02,36.70 L311.01,36.71 L311.99,36.72 L312.98,36.74 L313.96,36.75 L314.95,36.77 L315.94,36.79 L316.92,36.81 L317.91,36.83 L318.89,36.86 L319.88,36.89 L320.86,36.92 L321.85,36.96 L322.83,37.01 L323.82,37.06 L324.80,37.11 L325.79,37.18 L326.77,37.25 L327.76,37.33 L328.75,37.42 L329.73,37.52 L330.72,37.64 L331.70,37.77 L332.69,37.92 L333.67,38.09 L334.66,38.28 L335.64,38.49 L336.63,38.72 L337.61,38.99 L338.60,39.29" stroke="#9a8ec6" stroke-width="1.15" fill="none" />
<path d="M220.35,36.82 L221.34,36.82 L222.32,36.82 L223.31,36.82 L224.29,36.82 L225.28,36.82 L226.26,36.82 L227.25,36.82 L228.23,36.82 L229.22,36.82 L230.20,36.82 L231.19,36.82 L232.17,36.82 L233.16,36.82 L234.15,36.82 L235.13,36.82 L236.12,36.82 L237.10,36.82 L238.09,36.82 L239.07,36.82 L240.06,36.82 L241.04,36.82 L242.03,36.82 L243.01,36.82 L244.00,36.82 L244.99,36.82 L245.97,36.82 L246.96,36.82 L247.94,36.82 L248.93,36.82 L249.91,36.82 L250.90,36.82 L251.88,36.82 L252.87,36.82 L253.85,36.82 L254.84,36.82 L255.82,36.82 L256.81,36.82 L257.80,36.82 L258.78,36.82 L259.77,36.82 L260.75,36.82 L261.74,36.82 L262.72,36.82 L263.71,36.82 L264.69,36.82 L265.68,36.82 L266.66,36.82 L267.65,36.82 L268.64,36.82 L269.62,36.82 L270.61,36.82 L271.59,36.82 L272.58,36.82 L273.56,36.82 L274.55,36.82 L275.53,36.82 L276.52,36.82 L277.50,36.82 L278.49,36.82 L279.48,36.83 L280.46,36.83 L281.45,36.83 L282.43,36.83 L283.42,36.83 L284.40,36.83 L285.39,36.83 L286.37,36.83 L287.36,36.83 L288.34,36.83 L289.33,36.83 L290.31,36.83 L291.30,36.83 L292.29,36.83 L293.27,36.83 L294.26,36.84 L295.24,36.84 L296.23,36.84 L297.21,36.84 L298.20,36.84 L299.18,36.84 L300.17,36.85 L301.15,36.85 L302.14,36.85 L303.12,36.85 L304.11,36.86 L305.10,36.86 L306.08,36.86 L307.07,36.87 L308.05,36.87 L309.04,36.87 L310.02,36.88 L311.01,36.88 L311.99,36.89 L312.98,36.89 L313.96,36.90 L314.95,36.91 L315.94,36.91 L316.92,36.92 L317.91,36.93 L318.89,36.94 L319.88,36.95 L320.86,36.96 L321.85,36.97 L322.83,36.99 L323.82,37.00 L324.80,37.02 L325.79,37.03 L326.77,37.05 L327.76,37.07 L328.75,37.09 L329.73,37.12 L330.72,37.14 L331.70,37.17 L332.69,37.20 L333.67,37.23 L334.66,37.27 L335.64,37.31 L336.63,37.35 L337.61,37.39 L338.60,37.44" stroke="#df2a7c" stroke-width="1.3" fill="none" />
<path d="M220.35,36.82 L221.34,36.82 L222.32,36.82 L223.31,36.82 L224.29,36.82 L225.28,36.82 L226.26,36.82 L227.25,36.82 L228.23,36.82 L229.22,36.82 L230.20,36.82 L231.19,36.82 L232.17,36.82 L233.16,36.82 L234.15,36.82 L235.13,36.82 L236.12,36.82 L237.10,36.82 L238.09,36.82 L239.07,36.82 L240.06,36.82 L241.04,36.82 L242.03,36.82 L243.01,36.82 L244.00,36.82 L244.99,36.82 L245.97,36.82 L246.96,36.82 L247.94,36.82 L248.93,36.82 L249.91,36.82 L250.90,36.82 L251.88,36.82 L252.87,36.82 L253.85,36.82 L254.84,36.82 L255.82,36.82 L256.81,36.82 L257.80,36.82 L258.78,36.82 L259.77,36.82 L260.75,36.82 L261.74,36.82 L262.72,36.82 L263.71,36.82 L264.69,36.82 L265.68,36.82 L266.66,36.82 L267.65,36.82 L268.64,36.82 L269.62,36.82 L270.61,36.82 L271.59,36.82 L272.58,36.82 L273.56,36.82 L274.55,36.82 L275.53,36.82 L276.52,36.82 L277.50,36.82 L278.49,36.82 L279.48,36.82 L280.46,36.82 L281.45,36.82 L282.43,36.82 L283.42,36.82 L284.40,36.82 L285.39,36.82 L286.37,36.82 L287.36,36.82 L288.34,36.82 L289.33,36.82 L290.31,36.82 L291.30,36.82 L292.29,36.82 L293.27,36.82 L294.26,36.82 L295.24,36.82 L296.23,36.82 L297.21,36.82 L298.20,36.82 L299.18,36.82 L300.17,36.82 L301.15,36.82 L302.14,36.82 L303.12,36.82 L304.11,36.82 L305.10,36.82 L306.08,36.82 L307.07,36.82 L308.05,36.82 L309.04,36.82 L310.02,36.82 L311.01,36.82 L311.99,36.82 L312.98,36.82 L313.96,36.82 L314.95,36.82 L315.94,36.82 L316.92,36.82 L317.91,36.82 L318.89,36.82 L319.88,36.82 L320.86,36.82 L321.85,36.82 L322.83,36.82 L323.82,36.82 L324.80,36.82 L325.79,36.82 L326.77,36.82 L327.76,36.82 L328.75,36.83 L329.73,36.84 L330.72,36.89 L331.70,36.99 L332.69,37.28 L333.67,38.05 L334.66,40.03 L335.64,44.77 L336.63,54.45 L337.61,68.99 L338.60,83.20" stroke="#3f1a5c" stroke-width="1.15" fill="none" />
<line x1="220.35" y1="33.34" x2="220.35" y2="39.90" stroke="#7b719e" stroke-width="0.8" stroke-opacity="0.75"/>
<line x1="219.15" y1="33.34" x2="221.55" y2="33.34" stroke="#7b719e" stroke-width="0.8" stroke-opacity="0.75"/>
<line x1="219.15" y1="39.90" x2="221.55" y2="39.90" stroke="#7b719e" stroke-width="0.8" stroke-opacity="0.75"/>
<rect x="219.25" y="35.52" width="2.2" height="2.2" fill="#7b719e"/>
<line x1="233.55" y1="33.34" x2="233.55" y2="39.90" stroke="#7b719e" stroke-width="0.8" stroke-opacity="0.75"/>
<line x1="232.35" y1="33.34" x2="234.75" y2="33.34" stroke="#7b719e" stroke-width="0.8" stroke-opacity="0.75"/>
<line x1="232.35" y1="39.90" x2="234.75" y2="39.90" stroke="#7b719e" stroke-width="0.8" stroke-opacity="0.75"/>
<rect x="232.45" y="35.52" width="2.2" height="2.2" fill="#7b719e"/>
<line x1="246.47" y1="33.34" x2="246.47" y2="39.90" stroke="#7b719e" stroke-width="0.8" stroke-opacity="0.75"/>
<line x1="245.28" y1="33.34" x2="247.67" y2="33.34" stroke="#7b719e" stroke-width="0.8" stroke-opacity="0.75"/>
<line x1="245.28" y1="39.90" x2="247.67" y2="39.90" stroke="#7b719e" stroke-width="0.8" stroke-opacity="0.75"/>
<rect x="245.38" y="35.52" width="2.2" height="2.2" fill="#7b719e"/>
<line x1="260.50" y1="33.34" x2="260.50" y2="39.90" stroke="#7b719e" stroke-width="0.8" stroke-opacity="0.75"/>
<line x1="259.30" y1="33.34" x2="261.70" y2="33.34" stroke="#7b719e" stroke-width="0.8" stroke-opacity="0.75"/>
<line x1="259.30" y1="39.90" x2="261.70" y2="39.90" stroke="#7b719e" stroke-width="0.8" stroke-opacity="0.75"/>
<rect x="259.40" y="35.52" width="2.2" height="2.2" fill="#7b719e"/>
<line x1="272.88" y1="33.34" x2="272.88" y2="39.90" stroke="#7b719e" stroke-width="0.8" stroke-opacity="0.75"/>
<line x1="271.68" y1="33.34" x2="274.07" y2="33.34" stroke="#7b719e" stroke-width="0.8" stroke-opacity="0.75"/>
<line x1="271.68" y1="39.90" x2="274.07" y2="39.90" stroke="#7b719e" stroke-width="0.8" stroke-opacity="0.75"/>
<rect x="271.77" y="35.52" width="2.2" height="2.2" fill="#7b719e"/>
<line x1="283.60" y1="33.35" x2="283.60" y2="39.91" stroke="#7b719e" stroke-width="0.8" stroke-opacity="0.75"/>
<line x1="282.40" y1="33.35" x2="284.80" y2="33.35" stroke="#7b719e" stroke-width="0.8" stroke-opacity="0.75"/>
<line x1="282.40" y1="39.91" x2="284.80" y2="39.91" stroke="#7b719e" stroke-width="0.8" stroke-opacity="0.75"/>
<rect x="282.50" y="35.53" width="2.2" height="2.2" fill="#7b719e"/>
<line x1="298.18" y1="33.36" x2="298.18" y2="39.92" stroke="#7b719e" stroke-width="0.8" stroke-opacity="0.75"/>
<line x1="296.98" y1="33.36" x2="299.38" y2="33.36" stroke="#7b719e" stroke-width="0.8" stroke-opacity="0.75"/>
<line x1="296.98" y1="39.92" x2="299.38" y2="39.92" stroke="#7b719e" stroke-width="0.8" stroke-opacity="0.75"/>
<rect x="297.07" y="35.54" width="2.2" height="2.2" fill="#7b719e"/>
<line x1="311.10" y1="33.43" x2="311.10" y2="39.99" stroke="#7b719e" stroke-width="0.8" stroke-opacity="0.75"/>
<line x1="309.90" y1="33.43" x2="312.30" y2="33.43" stroke="#7b719e" stroke-width="0.8" stroke-opacity="0.75"/>
<line x1="309.90" y1="39.99" x2="312.30" y2="39.99" stroke="#7b719e" stroke-width="0.8" stroke-opacity="0.75"/>
<rect x="310.00" y="35.61" width="2.2" height="2.2" fill="#7b719e"/>
<line x1="325.40" y1="33.87" x2="325.40" y2="40.43" stroke="#7b719e" stroke-width="0.8" stroke-opacity="0.75"/>
<line x1="324.20" y1="33.87" x2="326.60" y2="33.87" stroke="#7b719e" stroke-width="0.8" stroke-opacity="0.75"/>
<line x1="324.20" y1="40.43" x2="326.60" y2="40.43" stroke="#7b719e" stroke-width="0.8" stroke-opacity="0.75"/>
<rect x="324.30" y="36.05" width="2.2" height="2.2" fill="#7b719e"/>
<line x1="338.60" y1="36.01" x2="338.60" y2="42.57" stroke="#7b719e" stroke-width="0.8" stroke-opacity="0.75"/>
<line x1="337.40" y1="36.01" x2="339.80" y2="36.01" stroke="#7b719e" stroke-width="0.8" stroke-opacity="0.75"/>
<line x1="337.40" y1="42.57" x2="339.80" y2="42.57" stroke="#7b719e" stroke-width="0.8" stroke-opacity="0.75"/>
<rect x="337.50" y="38.19" width="2.2" height="2.2" fill="#7b719e"/>
<line x1="220.35" y1="34.20" x2="220.35" y2="39.44" stroke="#b22163" stroke-width="0.8" stroke-opacity="0.75"/>
<line x1="219.15" y1="34.20" x2="221.55" y2="34.20" stroke="#b22163" stroke-width="0.8" stroke-opacity="0.75"/>
<line x1="219.15" y1="39.44" x2="221.55" y2="39.44" stroke="#b22163" stroke-width="0.8" stroke-opacity="0.75"/>
<rect x="219.25" y="35.72" width="2.2" height="2.2" fill="#b22163"/>
<line x1="233.55" y1="34.20" x2="233.55" y2="39.44" stroke="#b22163" stroke-width="0.8" stroke-opacity="0.75"/>
<line x1="232.35" y1="34.20" x2="234.75" y2="34.20" stroke="#b22163" stroke-width="0.8" stroke-opacity="0.75"/>
<line x1="232.35" y1="39.44" x2="234.75" y2="39.44" stroke="#b22163" stroke-width="0.8" stroke-opacity="0.75"/>
<rect x="232.45" y="35.72" width="2.2" height="2.2" fill="#b22163"/>
<line x1="246.47" y1="34.20" x2="246.47" y2="39.45" stroke="#b22163" stroke-width="0.8" stroke-opacity="0.75"/>
<line x1="245.28" y1="34.20" x2="247.67" y2="34.20" stroke="#b22163" stroke-width="0.8" stroke-opacity="0.75"/>
<line x1="245.28" y1="39.45" x2="247.67" y2="39.45" stroke="#b22163" stroke-width="0.8" stroke-opacity="0.75"/>
<rect x="245.38" y="35.72" width="2.2" height="2.2" fill="#b22163"/>
<line x1="260.50" y1="34.20" x2="260.50" y2="39.45" stroke="#b22163" stroke-width="0.8" stroke-opacity="0.75"/>
<line x1="259.30" y1="34.20" x2="261.70" y2="34.20" stroke="#b22163" stroke-width="0.8" stroke-opacity="0.75"/>
<line x1="259.30" y1="39.45" x2="261.70" y2="39.45" stroke="#b22163" stroke-width="0.8" stroke-opacity="0.75"/>
<rect x="259.40" y="35.72" width="2.2" height="2.2" fill="#b22163"/>
<line x1="272.88" y1="34.20" x2="272.88" y2="39.45" stroke="#b22163" stroke-width="0.8" stroke-opacity="0.75"/>
<line x1="271.68" y1="34.20" x2="274.07" y2="34.20" stroke="#b22163" stroke-width="0.8" stroke-opacity="0.75"/>
<line x1="271.68" y1="39.45" x2="274.07" y2="39.45" stroke="#b22163" stroke-width="0.8" stroke-opacity="0.75"/>
<rect x="271.77" y="35.72" width="2.2" height="2.2" fill="#b22163"/>
<line x1="283.60" y1="34.20" x2="283.60" y2="39.45" stroke="#b22163" stroke-width="0.8" stroke-opacity="0.75"/>
<line x1="282.40" y1="34.20" x2="284.80" y2="34.20" stroke="#b22163" stroke-width="0.8" stroke-opacity="0.75"/>
<line x1="282.40" y1="39.45" x2="284.80" y2="39.45" stroke="#b22163" stroke-width="0.8" stroke-opacity="0.75"/>
<rect x="282.50" y="35.73" width="2.2" height="2.2" fill="#b22163"/>
<line x1="298.18" y1="34.22" x2="298.18" y2="39.47" stroke="#b22163" stroke-width="0.8" stroke-opacity="0.75"/>
<line x1="296.98" y1="34.22" x2="299.38" y2="34.22" stroke="#b22163" stroke-width="0.8" stroke-opacity="0.75"/>
<line x1="296.98" y1="39.47" x2="299.38" y2="39.47" stroke="#b22163" stroke-width="0.8" stroke-opacity="0.75"/>
<rect x="297.07" y="35.74" width="2.2" height="2.2" fill="#b22163"/>
<line x1="311.10" y1="34.26" x2="311.10" y2="39.51" stroke="#b22163" stroke-width="0.8" stroke-opacity="0.75"/>
<line x1="309.90" y1="34.26" x2="312.30" y2="34.26" stroke="#b22163" stroke-width="0.8" stroke-opacity="0.75"/>
<line x1="309.90" y1="39.51" x2="312.30" y2="39.51" stroke="#b22163" stroke-width="0.8" stroke-opacity="0.75"/>
<rect x="310.00" y="35.78" width="2.2" height="2.2" fill="#b22163"/>
<line x1="325.40" y1="34.40" x2="325.40" y2="39.65" stroke="#b22163" stroke-width="0.8" stroke-opacity="0.75"/>
<line x1="324.20" y1="34.40" x2="326.60" y2="34.40" stroke="#b22163" stroke-width="0.8" stroke-opacity="0.75"/>
<line x1="324.20" y1="39.65" x2="326.60" y2="39.65" stroke="#b22163" stroke-width="0.8" stroke-opacity="0.75"/>
<rect x="324.30" y="35.93" width="2.2" height="2.2" fill="#b22163"/>
<line x1="338.60" y1="34.82" x2="338.60" y2="40.07" stroke="#b22163" stroke-width="0.8" stroke-opacity="0.75"/>
<line x1="337.40" y1="34.82" x2="339.80" y2="34.82" stroke="#b22163" stroke-width="0.8" stroke-opacity="0.75"/>
<line x1="337.40" y1="40.07" x2="339.80" y2="40.07" stroke="#b22163" stroke-width="0.8" stroke-opacity="0.75"/>
<rect x="337.50" y="36.34" width="2.2" height="2.2" fill="#b22163"/>
<line x1="220.35" y1="34.20" x2="220.35" y2="39.44" stroke="#321449" stroke-width="0.8" stroke-opacity="0.75"/>
<line x1="219.15" y1="34.20" x2="221.55" y2="34.20" stroke="#321449" stroke-width="0.8" stroke-opacity="0.75"/>
<line x1="219.15" y1="39.44" x2="221.55" y2="39.44" stroke="#321449" stroke-width="0.8" stroke-opacity="0.75"/>
<rect x="219.25" y="35.72" width="2.2" height="2.2" fill="#321449"/>
<line x1="233.55" y1="33.54" x2="233.55" y2="40.10" stroke="#321449" stroke-width="0.8" stroke-opacity="0.75"/>
<line x1="232.35" y1="33.54" x2="234.75" y2="33.54" stroke="#321449" stroke-width="0.8" stroke-opacity="0.75"/>
<line x1="232.35" y1="40.10" x2="234.75" y2="40.10" stroke="#321449" stroke-width="0.8" stroke-opacity="0.75"/>
<rect x="232.45" y="35.72" width="2.2" height="2.2" fill="#321449"/>
<line x1="246.47" y1="33.54" x2="246.47" y2="40.10" stroke="#321449" stroke-width="0.8" stroke-opacity="0.75"/>
<line x1="245.28" y1="33.54" x2="247.67" y2="33.54" stroke="#321449" stroke-width="0.8" stroke-opacity="0.75"/>
<line x1="245.28" y1="40.10" x2="247.67" y2="40.10" stroke="#321449" stroke-width="0.8" stroke-opacity="0.75"/>
<rect x="245.38" y="35.72" width="2.2" height="2.2" fill="#321449"/>
<line x1="260.50" y1="33.54" x2="260.50" y2="40.10" stroke="#321449" stroke-width="0.8" stroke-opacity="0.75"/>
<line x1="259.30" y1="33.54" x2="261.70" y2="33.54" stroke="#321449" stroke-width="0.8" stroke-opacity="0.75"/>
<line x1="259.30" y1="40.10" x2="261.70" y2="40.10" stroke="#321449" stroke-width="0.8" stroke-opacity="0.75"/>
<rect x="259.40" y="35.72" width="2.2" height="2.2" fill="#321449"/>
<line x1="272.88" y1="33.54" x2="272.88" y2="40.10" stroke="#321449" stroke-width="0.8" stroke-opacity="0.75"/>
<line x1="271.68" y1="33.54" x2="274.07" y2="33.54" stroke="#321449" stroke-width="0.8" stroke-opacity="0.75"/>
<line x1="271.68" y1="40.10" x2="274.07" y2="40.10" stroke="#321449" stroke-width="0.8" stroke-opacity="0.75"/>
<rect x="271.77" y="35.72" width="2.2" height="2.2" fill="#321449"/>
<line x1="283.60" y1="33.54" x2="283.60" y2="40.10" stroke="#321449" stroke-width="0.8" stroke-opacity="0.75"/>
<line x1="282.40" y1="33.54" x2="284.80" y2="33.54" stroke="#321449" stroke-width="0.8" stroke-opacity="0.75"/>
<line x1="282.40" y1="40.10" x2="284.80" y2="40.10" stroke="#321449" stroke-width="0.8" stroke-opacity="0.75"/>
<rect x="282.50" y="35.72" width="2.2" height="2.2" fill="#321449"/>
<line x1="298.18" y1="33.54" x2="298.18" y2="40.10" stroke="#321449" stroke-width="0.8" stroke-opacity="0.75"/>
<line x1="296.98" y1="33.54" x2="299.38" y2="33.54" stroke="#321449" stroke-width="0.8" stroke-opacity="0.75"/>
<line x1="296.98" y1="40.10" x2="299.38" y2="40.10" stroke="#321449" stroke-width="0.8" stroke-opacity="0.75"/>
<rect x="297.07" y="35.72" width="2.2" height="2.2" fill="#321449"/>
<line x1="311.10" y1="32.88" x2="311.10" y2="40.76" stroke="#321449" stroke-width="0.8" stroke-opacity="0.75"/>
<line x1="309.90" y1="32.88" x2="312.30" y2="32.88" stroke="#321449" stroke-width="0.8" stroke-opacity="0.75"/>
<line x1="309.90" y1="40.76" x2="312.30" y2="40.76" stroke="#321449" stroke-width="0.8" stroke-opacity="0.75"/>
<rect x="310.00" y="35.72" width="2.2" height="2.2" fill="#321449"/>
<line x1="325.40" y1="33.54" x2="325.40" y2="40.10" stroke="#321449" stroke-width="0.8" stroke-opacity="0.75"/>
<line x1="324.20" y1="33.54" x2="326.60" y2="33.54" stroke="#321449" stroke-width="0.8" stroke-opacity="0.75"/>
<line x1="324.20" y1="40.10" x2="326.60" y2="40.10" stroke="#321449" stroke-width="0.8" stroke-opacity="0.75"/>
<rect x="324.30" y="35.72" width="2.2" height="2.2" fill="#321449"/>
<line x1="338.60" y1="80.58" x2="338.60" y2="85.83" stroke="#321449" stroke-width="0.8" stroke-opacity="0.75"/>
<line x1="337.40" y1="80.58" x2="339.80" y2="80.58" stroke="#321449" stroke-width="0.8" stroke-opacity="0.75"/>
<line x1="337.40" y1="85.83" x2="339.80" y2="85.83" stroke="#321449" stroke-width="0.8" stroke-opacity="0.75"/>
<rect x="337.50" y="82.10" width="2.2" height="2.2" fill="#321449"/>
<line x1="221.00" y1="21.60" x2="221.00" y2="100.20" stroke="#3a3a3a" stroke-width="1.3" />
<line x1="220.40" y1="99.60" x2="341.00" y2="99.60" stroke="#3a3a3a" stroke-width="1.3" />
<line x1="218.60" y1="99.60" x2="221.00" y2="99.60" stroke="#3a3a3a" stroke-width="1" />
<text x="215.50" y="102.40" font-size="7.9" text-anchor="end" font-weight="normal" fill="#231f20" stroke="#231f20" stroke-width="0.22" >0</text>
<line x1="218.60" y1="83.20" x2="221.00" y2="83.20" stroke="#3a3a3a" stroke-width="1" />
<text x="215.50" y="86.00" font-size="7.9" text-anchor="end" font-weight="normal" fill="#231f20" stroke="#231f20" stroke-width="0.22" >25</text>
<line x1="218.60" y1="66.80" x2="221.00" y2="66.80" stroke="#3a3a3a" stroke-width="1" />
<text x="215.50" y="69.60" font-size="7.9" text-anchor="end" font-weight="normal" fill="#231f20" stroke="#231f20" stroke-width="0.22" >50</text>
<line x1="218.60" y1="50.40" x2="221.00" y2="50.40" stroke="#3a3a3a" stroke-width="1" />
<text x="215.50" y="53.20" font-size="7.9" text-anchor="end" font-weight="normal" fill="#231f20" stroke="#231f20" stroke-width="0.22" >75</text>
<line x1="218.60" y1="34.00" x2="221.00" y2="34.00" stroke="#3a3a3a" stroke-width="1" />
<text x="215.50" y="36.80" font-size="7.9" text-anchor="end" font-weight="normal" fill="#231f20" stroke="#231f20" stroke-width="0.22" >100</text>
<line x1="228.60" y1="99.60" x2="228.60" y2="102.00" stroke="#3a3a3a" stroke-width="1" />
<text x="228.60" y="111.80" font-size="7.7" text-anchor="middle" font-weight="normal" fill="#231f20" stroke="#231f20" stroke-width="0.22" >0.001</text>
<line x1="256.10" y1="99.60" x2="256.10" y2="102.00" stroke="#3a3a3a" stroke-width="1" />
<text x="256.10" y="111.80" font-size="7.7" text-anchor="middle" font-weight="normal" fill="#231f20" stroke="#231f20" stroke-width="0.22" >0.01</text>
<line x1="283.60" y1="99.60" x2="283.60" y2="102.00" stroke="#3a3a3a" stroke-width="1" />
<text x="283.60" y="111.80" font-size="7.7" text-anchor="middle" font-weight="normal" fill="#231f20" stroke="#231f20" stroke-width="0.22" >0.1</text>
<line x1="311.10" y1="99.60" x2="311.10" y2="102.00" stroke="#3a3a3a" stroke-width="1" />
<text x="311.10" y="111.80" font-size="7.7" text-anchor="middle" font-weight="normal" fill="#231f20" stroke="#231f20" stroke-width="0.22" >1</text>
<line x1="338.60" y1="99.60" x2="338.60" y2="102.00" stroke="#3a3a3a" stroke-width="1" />
<text x="338.60" y="111.80" font-size="7.7" text-anchor="middle" font-weight="normal" fill="#231f20" stroke="#231f20" stroke-width="0.22" >10</text>
<g transform="translate(280.80,125.90) rotate(0) scale(0.655,1)"><text x="0.25" y="0" font-size="9.2" text-anchor="middle" fill="#231f20" stroke="#231f20" stroke-width="0.3" letter-spacing="0.5">Venetoclax (μM)</text></g>
<path d="M377.41,34.90 L378.39,34.92 L379.37,34.93 L380.34,34.94 L381.32,34.96 L382.30,34.97 L383.28,34.99 L384.26,35.00 L385.24,35.02 L386.21,35.04 L387.19,35.06 L388.17,35.08 L389.15,35.10 L390.13,35.12 L391.11,35.14 L392.08,35.16 L393.06,35.19 L394.04,35.21 L395.02,35.24 L396.00,35.27 L396.98,35.30 L397.95,35.33 L398.93,35.36 L399.91,35.39 L400.89,35.43 L401.87,35.47 L402.84,35.51 L403.82,35.55 L404.80,35.59 L405.78,35.63 L406.76,35.68 L407.74,35.73 L408.71,35.78 L409.69,35.83 L410.67,35.89 L411.65,35.95 L412.63,36.01 L413.61,36.07 L414.58,36.14 L415.56,36.21 L416.54,36.28 L417.52,36.36 L418.50,36.44 L419.47,36.52 L420.45,36.61 L421.43,36.70 L422.41,36.80 L423.39,36.90 L424.37,37.00 L425.34,37.11 L426.32,37.22 L427.30,37.34 L428.28,37.46 L429.26,37.59 L430.24,37.72 L431.21,37.86 L432.19,38.00 L433.17,38.15 L434.15,38.31 L435.13,38.47 L436.11,38.64 L437.08,38.81 L438.06,38.99 L439.04,39.18 L440.02,39.38 L441.00,39.58 L441.97,39.79 L442.95,40.01 L443.93,40.23 L444.91,40.47 L445.89,40.71 L446.87,40.96 L447.84,41.22 L448.82,41.48 L449.80,41.76 L450.78,42.04 L451.76,42.34 L452.74,42.64 L453.71,42.95 L454.69,43.27 L455.67,43.59 L456.65,43.93 L457.63,44.28 L458.60,44.63 L459.58,44.99 L460.56,45.36 L461.54,45.74 L462.52,46.13 L463.50,46.53 L464.47,46.93 L465.45,47.34 L466.43,47.76 L467.41,48.19 L468.39,48.62 L469.37,49.06 L470.34,49.50 L471.32,49.95 L472.30,50.40 L473.28,50.86 L474.26,51.33 L475.24,51.79 L476.21,52.26 L477.19,52.74 L478.17,53.21 L479.15,53.69 L480.13,54.17 L481.10,54.65 L482.08,55.12 L483.06,55.60 L484.04,56.08 L485.02,56.56 L486.00,57.03 L486.97,57.50 L487.95,57.97 L488.93,58.43 L489.91,58.89 L490.89,59.35 L491.87,59.79 L492.84,60.24 L493.82,60.68 L494.80,61.11" stroke="#c4c4a0" stroke-width="1.15" fill="none" />
<path d="M377.41,36.66 L378.39,36.66 L379.37,36.66 L380.34,36.66 L381.32,36.66 L382.30,36.67 L383.28,36.67 L384.26,36.67 L385.24,36.67 L386.21,36.67 L387.19,36.68 L388.17,36.68 L389.15,36.68 L390.13,36.69 L391.11,36.69 L392.08,36.69 L393.06,36.70 L394.04,36.70 L395.02,36.70 L396.00,36.71 L396.98,36.71 L397.95,36.72 L398.93,36.72 L399.91,36.73 L400.89,36.73 L401.87,36.74 L402.84,36.74 L403.82,36.75 L404.80,36.75 L405.78,36.76 L406.76,36.77 L407.74,36.78 L408.71,36.78 L409.69,36.79 L410.67,36.80 L411.65,36.81 L412.63,36.82 L413.61,36.83 L414.58,36.84 L415.56,36.85 L416.54,36.86 L417.52,36.87 L418.50,36.88 L419.47,36.90 L420.45,36.91 L421.43,36.93 L422.41,36.94 L423.39,36.96 L424.37,36.97 L425.34,36.99 L426.32,37.01 L427.30,37.03 L428.28,37.05 L429.26,37.07 L430.24,37.09 L431.21,37.12 L432.19,37.14 L433.17,37.17 L434.15,37.19 L435.13,37.22 L436.11,37.25 L437.08,37.29 L438.06,37.32 L439.04,37.35 L440.02,37.39 L441.00,37.43 L441.97,37.47 L442.95,37.51 L443.93,37.56 L444.91,37.60 L445.89,37.65 L446.87,37.70 L447.84,37.76 L448.82,37.81 L449.80,37.87 L450.78,37.93 L451.76,38.00 L452.74,38.07 L453.71,38.14 L454.69,38.21 L455.67,38.29 L456.65,38.37 L457.63,38.46 L458.60,38.55 L459.58,38.64 L460.56,38.74 L461.54,38.85 L462.52,38.96 L463.50,39.07 L464.47,39.19 L465.45,39.31 L466.43,39.44 L467.41,39.58 L468.39,39.72 L469.37,39.87 L470.34,40.03 L471.32,40.19 L472.30,40.36 L473.28,40.54 L474.26,40.72 L475.24,40.92 L476.21,41.12 L477.19,41.33 L478.17,41.55 L479.15,41.78 L480.13,42.02 L481.10,42.27 L482.08,42.53 L483.06,42.80 L484.04,43.08 L485.02,43.37 L486.00,43.68 L486.97,43.99 L487.95,44.32 L488.93,44.66 L489.91,45.02 L490.89,45.38 L491.87,45.76 L492.84,46.16 L493.82,46.56 L494.80,46.99" stroke="#58acdc" stroke-width="1.15" fill="none" />
<path d="M377.41,35.97 L378.39,35.97 L379.37,35.97 L380.34,35.97 L381.32,35.97 L382.30,35.97 L383.28,35.97 L384.26,35.97 L385.24,35.97 L386.21,35.97 L387.19,35.97 L388.17,35.97 L389.15,35.97 L390.13,35.97 L391.11,35.97 L392.08,35.97 L393.06,35.97 L394.04,35.97 L395.02,35.97 L396.00,35.97 L396.98,35.97 L397.95,35.97 L398.93,35.97 L399.91,35.97 L400.89,35.97 L401.87,35.97 L402.84,35.97 L403.82,35.97 L404.80,35.97 L405.78,35.97 L406.76,35.97 L407.74,35.97 L408.71,35.97 L409.69,35.97 L410.67,35.97 L411.65,35.97 L412.63,35.97 L413.61,35.97 L414.58,35.97 L415.56,35.97 L416.54,35.97 L417.52,35.97 L418.50,35.97 L419.47,35.97 L420.45,35.97 L421.43,35.97 L422.41,35.97 L423.39,35.97 L424.37,35.97 L425.34,35.97 L426.32,35.97 L427.30,35.97 L428.28,35.97 L429.26,35.97 L430.24,35.97 L431.21,35.97 L432.19,35.97 L433.17,35.97 L434.15,35.97 L435.13,35.97 L436.11,35.97 L437.08,35.97 L438.06,35.97 L439.04,35.97 L440.02,35.97 L441.00,35.97 L441.97,35.97 L442.95,35.97 L443.93,35.97 L444.91,35.97 L445.89,35.97 L446.87,35.97 L447.84,35.97 L448.82,35.97 L449.80,35.97 L450.78,35.97 L451.76,35.97 L452.74,35.97 L453.71,35.97 L454.69,35.97 L455.67,35.97 L456.65,35.97 L457.63,35.97 L458.60,35.97 L459.58,35.97 L460.56,35.97 L461.54,35.97 L462.52,35.97 L463.50,35.97 L464.47,35.97 L465.45,35.97 L466.43,35.97 L467.41,35.97 L468.39,35.98 L469.37,35.98 L470.34,35.98 L471.32,35.98 L472.30,35.99 L473.28,35.99 L474.26,36.00 L475.24,36.01 L476.21,36.02 L477.19,36.04 L478.17,36.06 L479.15,36.08 L480.13,36.11 L481.10,36.15 L482.08,36.21 L483.06,36.27 L484.04,36.36 L485.02,36.47 L486.00,36.61 L486.97,36.78 L487.95,37.01 L488.93,37.29 L489.91,37.66 L490.89,38.11 L491.87,38.69 L492.84,39.41 L493.82,40.31 L494.80,41.43" stroke="#1d3a62" stroke-width="1.15" fill="none" />
<path d="M377.41,35.31 L378.39,35.35 L379.37,35.40 L380.34,35.44 L381.32,35.49 L382.30,35.54 L383.28,35.60 L384.26,35.65 L385.24,35.71 L386.21,35.78 L387.19,35.85 L388.17,35.92 L389.15,36.00 L390.13,36.08 L391.11,36.16 L392.08,36.25 L393.06,36.35 L394.04,36.45 L395.02,36.56 L396.00,36.67 L396.98,36.79 L397.95,36.92 L398.93,37.06 L399.91,37.20 L400.89,37.35 L401.87,37.51 L402.84,37.68 L403.82,37.86 L404.80,38.04 L405.78,38.24 L406.76,38.45 L407.74,38.67 L408.71,38.90 L409.69,39.14 L410.67,39.40 L411.65,39.67 L412.63,39.95 L413.61,40.25 L414.58,40.56 L415.56,40.88 L416.54,41.23 L417.52,41.59 L418.50,41.96 L419.47,42.36 L420.45,42.77 L421.43,43.20 L422.41,43.65 L423.39,44.12 L424.37,44.60 L425.34,45.11 L426.32,45.64 L427.30,46.18 L428.28,46.75 L429.26,47.34 L430.24,47.95 L431.21,48.58 L432.19,49.22 L433.17,49.89 L434.15,50.58 L435.13,51.29 L436.11,52.01 L437.08,52.76 L438.06,53.52 L439.04,54.30 L440.02,55.09 L441.00,55.89 L441.97,56.72 L442.95,57.55 L443.93,58.39 L444.91,59.24 L445.89,60.11 L446.87,60.97 L447.84,61.85 L448.82,62.72 L449.80,63.60 L450.78,64.48 L451.76,65.36 L452.74,66.23 L453.71,67.10 L454.69,67.97 L455.67,68.83 L456.65,69.68 L457.63,70.51 L458.60,71.34 L459.58,72.16 L460.56,72.96 L461.54,73.74 L462.52,74.51 L463.50,75.27 L464.47,76.00 L465.45,76.72 L466.43,77.42 L467.41,78.10 L468.39,78.76 L469.37,79.40 L470.34,80.02 L471.32,80.62 L472.30,81.20 L473.28,81.75 L474.26,82.29 L475.24,82.81 L476.21,83.31 L477.19,83.79 L478.17,84.25 L479.15,84.69 L480.13,85.11 L481.10,85.51 L482.08,85.90 L483.06,86.27 L484.04,86.62 L485.02,86.96 L486.00,87.28 L486.97,87.58 L487.95,87.87 L488.93,88.15 L489.91,88.41 L490.89,88.66 L491.87,88.90 L492.84,89.13 L493.82,89.34 L494.80,89.54" stroke="#3d9a48" stroke-width="1.15" fill="none" />
<path d="M377.41,34.54 L378.39,34.70 L379.37,34.87 L380.34,35.04 L381.32,35.22 L382.30,35.41 L383.28,35.61 L384.26,35.82 L385.24,36.04 L386.21,36.27 L387.19,36.50 L388.17,36.75 L389.15,37.01 L390.13,37.28 L391.11,37.57 L392.08,37.86 L393.06,38.17 L394.04,38.49 L395.02,38.82 L396.00,39.17 L396.98,39.53 L397.95,39.91 L398.93,40.30 L399.91,40.71 L400.89,41.13 L401.87,41.57 L402.84,42.02 L403.82,42.50 L404.80,42.98 L405.78,43.49 L406.76,44.01 L407.74,44.55 L408.71,45.11 L409.69,45.68 L410.67,46.28 L411.65,46.89 L412.63,47.52 L413.61,48.16 L414.58,48.83 L415.56,49.51 L416.54,50.21 L417.52,50.92 L418.50,51.65 L419.47,52.40 L420.45,53.17 L421.43,53.95 L422.41,54.74 L423.39,55.55 L424.37,56.37 L425.34,57.20 L426.32,58.05 L427.30,58.90 L428.28,59.77 L429.26,60.64 L430.24,61.53 L431.21,62.42 L432.19,63.31 L433.17,64.21 L434.15,65.11 L435.13,66.02 L436.11,66.92 L437.08,67.83 L438.06,68.73 L439.04,69.64 L440.02,70.53 L441.00,71.43 L441.97,72.32 L442.95,73.20 L443.93,74.07 L444.91,74.93 L445.89,75.78 L446.87,76.63 L447.84,77.46 L448.82,78.27 L449.80,79.08 L450.78,79.87 L451.76,80.64 L452.74,81.40 L453.71,82.15 L454.69,82.88 L455.67,83.59 L456.65,84.28 L457.63,84.96 L458.60,85.62 L459.58,86.26 L460.56,86.88 L461.54,87.49 L462.52,88.08 L463.50,88.65 L464.47,89.20 L465.45,89.73 L466.43,90.25 L467.41,90.75 L468.39,91.24 L469.37,91.70 L470.34,92.15 L471.32,92.59 L472.30,93.00 L473.28,93.41 L474.26,93.79 L475.24,94.17 L476.21,94.52 L477.19,94.87 L478.17,95.20 L479.15,95.52 L480.13,95.82 L481.10,96.11 L482.08,96.39 L483.06,96.66 L484.04,96.92 L485.02,97.16 L486.00,97.40 L486.97,97.62 L487.95,97.84 L488.93,98.04 L489.91,98.24 L490.89,98.43 L491.87,98.61 L492.84,98.78 L493.82,98.94 L494.80,99.10" stroke="#1c5a48" stroke-width="1.15" fill="none" />
<line x1="377.41" y1="32.28" x2="377.41" y2="37.53" stroke="#9c9c80" stroke-width="0.8" stroke-opacity="0.75"/>
<line x1="376.21" y1="32.28" x2="378.61" y2="32.28" stroke="#9c9c80" stroke-width="0.8" stroke-opacity="0.75"/>
<line x1="376.21" y1="37.53" x2="378.61" y2="37.53" stroke="#9c9c80" stroke-width="0.8" stroke-opacity="0.75"/>
<rect x="376.31" y="33.80" width="2.2" height="2.2" fill="#9c9c80"/>
<line x1="390.51" y1="32.50" x2="390.51" y2="37.75" stroke="#9c9c80" stroke-width="0.8" stroke-opacity="0.75"/>
<line x1="389.31" y1="32.50" x2="391.71" y2="32.50" stroke="#9c9c80" stroke-width="0.8" stroke-opacity="0.75"/>
<line x1="389.31" y1="37.75" x2="391.71" y2="37.75" stroke="#9c9c80" stroke-width="0.8" stroke-opacity="0.75"/>
<rect x="389.41" y="34.03" width="2.2" height="2.2" fill="#9c9c80"/>
<line x1="403.35" y1="32.90" x2="403.35" y2="38.15" stroke="#9c9c80" stroke-width="0.8" stroke-opacity="0.75"/>
<line x1="402.15" y1="32.90" x2="404.55" y2="32.90" stroke="#9c9c80" stroke-width="0.8" stroke-opacity="0.75"/>
<line x1="402.15" y1="38.15" x2="404.55" y2="38.15" stroke="#9c9c80" stroke-width="0.8" stroke-opacity="0.75"/>
<rect x="402.25" y="34.43" width="2.2" height="2.2" fill="#9c9c80"/>
<line x1="417.27" y1="33.72" x2="417.27" y2="38.96" stroke="#9c9c80" stroke-width="0.8" stroke-opacity="0.75"/>
<line x1="416.07" y1="33.72" x2="418.47" y2="33.72" stroke="#9c9c80" stroke-width="0.8" stroke-opacity="0.75"/>
<line x1="416.07" y1="38.96" x2="418.47" y2="38.96" stroke="#9c9c80" stroke-width="0.8" stroke-opacity="0.75"/>
<rect x="416.17" y="35.24" width="2.2" height="2.2" fill="#9c9c80"/>
<line x1="429.55" y1="35.00" x2="429.55" y2="40.25" stroke="#9c9c80" stroke-width="0.8" stroke-opacity="0.75"/>
<line x1="428.35" y1="35.00" x2="430.75" y2="35.00" stroke="#9c9c80" stroke-width="0.8" stroke-opacity="0.75"/>
<line x1="428.35" y1="40.25" x2="430.75" y2="40.25" stroke="#9c9c80" stroke-width="0.8" stroke-opacity="0.75"/>
<rect x="428.45" y="36.53" width="2.2" height="2.2" fill="#9c9c80"/>
<line x1="440.20" y1="36.79" x2="440.20" y2="42.04" stroke="#9c9c80" stroke-width="0.8" stroke-opacity="0.75"/>
<line x1="439.00" y1="36.79" x2="441.40" y2="36.79" stroke="#9c9c80" stroke-width="0.8" stroke-opacity="0.75"/>
<line x1="439.00" y1="42.04" x2="441.40" y2="42.04" stroke="#9c9c80" stroke-width="0.8" stroke-opacity="0.75"/>
<rect x="439.10" y="38.31" width="2.2" height="2.2" fill="#9c9c80"/>
<line x1="454.67" y1="40.64" x2="454.67" y2="45.88" stroke="#9c9c80" stroke-width="0.8" stroke-opacity="0.75"/>
<line x1="453.47" y1="40.64" x2="455.87" y2="40.64" stroke="#9c9c80" stroke-width="0.8" stroke-opacity="0.75"/>
<line x1="453.47" y1="45.88" x2="455.87" y2="45.88" stroke="#9c9c80" stroke-width="0.8" stroke-opacity="0.75"/>
<rect x="453.57" y="42.16" width="2.2" height="2.2" fill="#9c9c80"/>
<line x1="467.50" y1="45.60" x2="467.50" y2="50.85" stroke="#9c9c80" stroke-width="0.8" stroke-opacity="0.75"/>
<line x1="466.30" y1="45.60" x2="468.70" y2="45.60" stroke="#9c9c80" stroke-width="0.8" stroke-opacity="0.75"/>
<line x1="466.30" y1="50.85" x2="468.70" y2="50.85" stroke="#9c9c80" stroke-width="0.8" stroke-opacity="0.75"/>
<rect x="466.40" y="47.13" width="2.2" height="2.2" fill="#9c9c80"/>
<line x1="481.70" y1="52.31" x2="481.70" y2="57.56" stroke="#9c9c80" stroke-width="0.8" stroke-opacity="0.75"/>
<line x1="480.50" y1="52.31" x2="482.90" y2="52.31" stroke="#9c9c80" stroke-width="0.8" stroke-opacity="0.75"/>
<line x1="480.50" y1="57.56" x2="482.90" y2="57.56" stroke="#9c9c80" stroke-width="0.8" stroke-opacity="0.75"/>
<rect x="480.60" y="53.84" width="2.2" height="2.2" fill="#9c9c80"/>
<line x1="494.80" y1="58.49" x2="494.80" y2="63.73" stroke="#9c9c80" stroke-width="0.8" stroke-opacity="0.75"/>
<line x1="493.60" y1="58.49" x2="496.00" y2="58.49" stroke="#9c9c80" stroke-width="0.8" stroke-opacity="0.75"/>
<line x1="493.60" y1="63.73" x2="496.00" y2="63.73" stroke="#9c9c80" stroke-width="0.8" stroke-opacity="0.75"/>
<rect x="493.70" y="60.01" width="2.2" height="2.2" fill="#9c9c80"/>
<line x1="377.41" y1="34.69" x2="377.41" y2="38.62" stroke="#4689b0" stroke-width="0.8" stroke-opacity="0.75"/>
<line x1="376.21" y1="34.69" x2="378.61" y2="34.69" stroke="#4689b0" stroke-width="0.8" stroke-opacity="0.75"/>
<line x1="376.21" y1="38.62" x2="378.61" y2="38.62" stroke="#4689b0" stroke-width="0.8" stroke-opacity="0.75"/>
<rect x="376.31" y="35.56" width="2.2" height="2.2" fill="#4689b0"/>
<line x1="390.51" y1="34.06" x2="390.51" y2="39.31" stroke="#4689b0" stroke-width="0.8" stroke-opacity="0.75"/>
<line x1="389.31" y1="34.06" x2="391.71" y2="34.06" stroke="#4689b0" stroke-width="0.8" stroke-opacity="0.75"/>
<line x1="389.31" y1="39.31" x2="391.71" y2="39.31" stroke="#4689b0" stroke-width="0.8" stroke-opacity="0.75"/>
<rect x="389.41" y="35.59" width="2.2" height="2.2" fill="#4689b0"/>
<line x1="403.35" y1="34.12" x2="403.35" y2="39.37" stroke="#4689b0" stroke-width="0.8" stroke-opacity="0.75"/>
<line x1="402.15" y1="34.12" x2="404.55" y2="34.12" stroke="#4689b0" stroke-width="0.8" stroke-opacity="0.75"/>
<line x1="402.15" y1="39.37" x2="404.55" y2="39.37" stroke="#4689b0" stroke-width="0.8" stroke-opacity="0.75"/>
<rect x="402.25" y="35.64" width="2.2" height="2.2" fill="#4689b0"/>
<line x1="417.27" y1="34.24" x2="417.27" y2="39.49" stroke="#4689b0" stroke-width="0.8" stroke-opacity="0.75"/>
<line x1="416.07" y1="34.24" x2="418.47" y2="34.24" stroke="#4689b0" stroke-width="0.8" stroke-opacity="0.75"/>
<line x1="416.07" y1="39.49" x2="418.47" y2="39.49" stroke="#4689b0" stroke-width="0.8" stroke-opacity="0.75"/>
<rect x="416.17" y="35.77" width="2.2" height="2.2" fill="#4689b0"/>
<line x1="429.55" y1="34.45" x2="429.55" y2="39.70" stroke="#4689b0" stroke-width="0.8" stroke-opacity="0.75"/>
<line x1="428.35" y1="34.45" x2="430.75" y2="34.45" stroke="#4689b0" stroke-width="0.8" stroke-opacity="0.75"/>
<line x1="428.35" y1="39.70" x2="430.75" y2="39.70" stroke="#4689b0" stroke-width="0.8" stroke-opacity="0.75"/>
<rect x="428.45" y="35.98" width="2.2" height="2.2" fill="#4689b0"/>
<line x1="440.20" y1="34.77" x2="440.20" y2="40.02" stroke="#4689b0" stroke-width="0.8" stroke-opacity="0.75"/>
<line x1="439.00" y1="34.77" x2="441.40" y2="34.77" stroke="#4689b0" stroke-width="0.8" stroke-opacity="0.75"/>
<line x1="439.00" y1="40.02" x2="441.40" y2="40.02" stroke="#4689b0" stroke-width="0.8" stroke-opacity="0.75"/>
<rect x="439.10" y="36.30" width="2.2" height="2.2" fill="#4689b0"/>
<line x1="454.67" y1="35.59" x2="454.67" y2="40.83" stroke="#4689b0" stroke-width="0.8" stroke-opacity="0.75"/>
<line x1="453.47" y1="35.59" x2="455.87" y2="35.59" stroke="#4689b0" stroke-width="0.8" stroke-opacity="0.75"/>
<line x1="453.47" y1="40.83" x2="455.87" y2="40.83" stroke="#4689b0" stroke-width="0.8" stroke-opacity="0.75"/>
<rect x="453.57" y="37.11" width="2.2" height="2.2" fill="#4689b0"/>
<line x1="467.50" y1="36.97" x2="467.50" y2="42.22" stroke="#4689b0" stroke-width="0.8" stroke-opacity="0.75"/>
<line x1="466.30" y1="36.97" x2="468.70" y2="36.97" stroke="#4689b0" stroke-width="0.8" stroke-opacity="0.75"/>
<line x1="466.30" y1="42.22" x2="468.70" y2="42.22" stroke="#4689b0" stroke-width="0.8" stroke-opacity="0.75"/>
<rect x="466.40" y="38.49" width="2.2" height="2.2" fill="#4689b0"/>
<line x1="481.70" y1="39.80" x2="481.70" y2="45.05" stroke="#4689b0" stroke-width="0.8" stroke-opacity="0.75"/>
<line x1="480.50" y1="39.80" x2="482.90" y2="39.80" stroke="#4689b0" stroke-width="0.8" stroke-opacity="0.75"/>
<line x1="480.50" y1="45.05" x2="482.90" y2="45.05" stroke="#4689b0" stroke-width="0.8" stroke-opacity="0.75"/>
<rect x="480.60" y="41.33" width="2.2" height="2.2" fill="#4689b0"/>
<line x1="494.80" y1="45.02" x2="494.80" y2="48.95" stroke="#4689b0" stroke-width="0.8" stroke-opacity="0.75"/>
<line x1="493.60" y1="45.02" x2="496.00" y2="45.02" stroke="#4689b0" stroke-width="0.8" stroke-opacity="0.75"/>
<line x1="493.60" y1="48.95" x2="496.00" y2="48.95" stroke="#4689b0" stroke-width="0.8" stroke-opacity="0.75"/>
<rect x="493.70" y="45.89" width="2.2" height="2.2" fill="#4689b0"/>
<line x1="377.41" y1="34.00" x2="377.41" y2="37.94" stroke="#172e4e" stroke-width="0.8" stroke-opacity="0.75"/>
<line x1="376.21" y1="34.00" x2="378.61" y2="34.00" stroke="#172e4e" stroke-width="0.8" stroke-opacity="0.75"/>
<line x1="376.21" y1="37.94" x2="378.61" y2="37.94" stroke="#172e4e" stroke-width="0.8" stroke-opacity="0.75"/>
<rect x="376.31" y="34.87" width="2.2" height="2.2" fill="#172e4e"/>
<line x1="390.51" y1="33.34" x2="390.51" y2="38.59" stroke="#172e4e" stroke-width="0.8" stroke-opacity="0.75"/>
<line x1="389.31" y1="33.34" x2="391.71" y2="33.34" stroke="#172e4e" stroke-width="0.8" stroke-opacity="0.75"/>
<line x1="389.31" y1="38.59" x2="391.71" y2="38.59" stroke="#172e4e" stroke-width="0.8" stroke-opacity="0.75"/>
<rect x="389.41" y="34.87" width="2.2" height="2.2" fill="#172e4e"/>
<line x1="403.35" y1="33.34" x2="403.35" y2="38.59" stroke="#172e4e" stroke-width="0.8" stroke-opacity="0.75"/>
<line x1="402.15" y1="33.34" x2="404.55" y2="33.34" stroke="#172e4e" stroke-width="0.8" stroke-opacity="0.75"/>
<line x1="402.15" y1="38.59" x2="404.55" y2="38.59" stroke="#172e4e" stroke-width="0.8" stroke-opacity="0.75"/>
<rect x="402.25" y="34.87" width="2.2" height="2.2" fill="#172e4e"/>
<line x1="417.27" y1="33.34" x2="417.27" y2="38.59" stroke="#172e4e" stroke-width="0.8" stroke-opacity="0.75"/>
<line x1="416.07" y1="33.34" x2="418.47" y2="33.34" stroke="#172e4e" stroke-width="0.8" stroke-opacity="0.75"/>
<line x1="416.07" y1="38.59" x2="418.47" y2="38.59" stroke="#172e4e" stroke-width="0.8" stroke-opacity="0.75"/>
<rect x="416.17" y="34.87" width="2.2" height="2.2" fill="#172e4e"/>
<line x1="429.55" y1="33.34" x2="429.55" y2="38.59" stroke="#172e4e" stroke-width="0.8" stroke-opacity="0.75"/>
<line x1="428.35" y1="33.34" x2="430.75" y2="33.34" stroke="#172e4e" stroke-width="0.8" stroke-opacity="0.75"/>
<line x1="428.35" y1="38.59" x2="430.75" y2="38.59" stroke="#172e4e" stroke-width="0.8" stroke-opacity="0.75"/>
<rect x="428.45" y="34.87" width="2.2" height="2.2" fill="#172e4e"/>
<line x1="440.20" y1="33.34" x2="440.20" y2="38.59" stroke="#172e4e" stroke-width="0.8" stroke-opacity="0.75"/>
<line x1="439.00" y1="33.34" x2="441.40" y2="33.34" stroke="#172e4e" stroke-width="0.8" stroke-opacity="0.75"/>
<line x1="439.00" y1="38.59" x2="441.40" y2="38.59" stroke="#172e4e" stroke-width="0.8" stroke-opacity="0.75"/>
<rect x="439.10" y="34.87" width="2.2" height="2.2" fill="#172e4e"/>
<line x1="454.67" y1="33.34" x2="454.67" y2="38.59" stroke="#172e4e" stroke-width="0.8" stroke-opacity="0.75"/>
<line x1="453.47" y1="33.34" x2="455.87" y2="33.34" stroke="#172e4e" stroke-width="0.8" stroke-opacity="0.75"/>
<line x1="453.47" y1="38.59" x2="455.87" y2="38.59" stroke="#172e4e" stroke-width="0.8" stroke-opacity="0.75"/>
<rect x="453.57" y="34.87" width="2.2" height="2.2" fill="#172e4e"/>
<line x1="467.50" y1="33.35" x2="467.50" y2="38.60" stroke="#172e4e" stroke-width="0.8" stroke-opacity="0.75"/>
<line x1="466.30" y1="33.35" x2="468.70" y2="33.35" stroke="#172e4e" stroke-width="0.8" stroke-opacity="0.75"/>
<line x1="466.30" y1="38.60" x2="468.70" y2="38.60" stroke="#172e4e" stroke-width="0.8" stroke-opacity="0.75"/>
<rect x="466.40" y="34.87" width="2.2" height="2.2" fill="#172e4e"/>
<line x1="481.70" y1="33.56" x2="481.70" y2="38.81" stroke="#172e4e" stroke-width="0.8" stroke-opacity="0.75"/>
<line x1="480.50" y1="33.56" x2="482.90" y2="33.56" stroke="#172e4e" stroke-width="0.8" stroke-opacity="0.75"/>
<line x1="480.50" y1="38.81" x2="482.90" y2="38.81" stroke="#172e4e" stroke-width="0.8" stroke-opacity="0.75"/>
<rect x="480.60" y="35.08" width="2.2" height="2.2" fill="#172e4e"/>
<line x1="494.80" y1="39.46" x2="494.80" y2="43.40" stroke="#172e4e" stroke-width="0.8" stroke-opacity="0.75"/>
<line x1="493.60" y1="39.46" x2="496.00" y2="39.46" stroke="#172e4e" stroke-width="0.8" stroke-opacity="0.75"/>
<line x1="493.60" y1="43.40" x2="496.00" y2="43.40" stroke="#172e4e" stroke-width="0.8" stroke-opacity="0.75"/>
<rect x="493.70" y="40.33" width="2.2" height="2.2" fill="#172e4e"/>
<line x1="377.41" y1="33.35" x2="377.41" y2="37.28" stroke="#307b39" stroke-width="0.8" stroke-opacity="0.75"/>
<line x1="376.21" y1="33.35" x2="378.61" y2="33.35" stroke="#307b39" stroke-width="0.8" stroke-opacity="0.75"/>
<line x1="376.21" y1="37.28" x2="378.61" y2="37.28" stroke="#307b39" stroke-width="0.8" stroke-opacity="0.75"/>
<rect x="376.31" y="34.21" width="2.2" height="2.2" fill="#307b39"/>
<line x1="390.51" y1="34.14" x2="390.51" y2="38.08" stroke="#307b39" stroke-width="0.8" stroke-opacity="0.75"/>
<line x1="389.31" y1="34.14" x2="391.71" y2="34.14" stroke="#307b39" stroke-width="0.8" stroke-opacity="0.75"/>
<line x1="389.31" y1="38.08" x2="391.71" y2="38.08" stroke="#307b39" stroke-width="0.8" stroke-opacity="0.75"/>
<rect x="389.41" y="35.01" width="2.2" height="2.2" fill="#307b39"/>
<line x1="403.35" y1="35.80" x2="403.35" y2="39.74" stroke="#307b39" stroke-width="0.8" stroke-opacity="0.75"/>
<line x1="402.15" y1="35.80" x2="404.55" y2="35.80" stroke="#307b39" stroke-width="0.8" stroke-opacity="0.75"/>
<line x1="402.15" y1="39.74" x2="404.55" y2="39.74" stroke="#307b39" stroke-width="0.8" stroke-opacity="0.75"/>
<rect x="402.25" y="36.67" width="2.2" height="2.2" fill="#307b39"/>
<line x1="417.27" y1="39.53" x2="417.27" y2="43.46" stroke="#307b39" stroke-width="0.8" stroke-opacity="0.75"/>
<line x1="416.07" y1="39.53" x2="418.47" y2="39.53" stroke="#307b39" stroke-width="0.8" stroke-opacity="0.75"/>
<line x1="416.07" y1="43.46" x2="418.47" y2="43.46" stroke="#307b39" stroke-width="0.8" stroke-opacity="0.75"/>
<rect x="416.17" y="40.39" width="2.2" height="2.2" fill="#307b39"/>
<line x1="429.55" y1="45.55" x2="429.55" y2="49.49" stroke="#307b39" stroke-width="0.8" stroke-opacity="0.75"/>
<line x1="428.35" y1="45.55" x2="430.75" y2="45.55" stroke="#307b39" stroke-width="0.8" stroke-opacity="0.75"/>
<line x1="428.35" y1="49.49" x2="430.75" y2="49.49" stroke="#307b39" stroke-width="0.8" stroke-opacity="0.75"/>
<rect x="428.45" y="46.42" width="2.2" height="2.2" fill="#307b39"/>
<line x1="440.20" y1="53.27" x2="440.20" y2="57.20" stroke="#307b39" stroke-width="0.8" stroke-opacity="0.75"/>
<line x1="439.00" y1="53.27" x2="441.40" y2="53.27" stroke="#307b39" stroke-width="0.8" stroke-opacity="0.75"/>
<line x1="439.00" y1="57.20" x2="441.40" y2="57.20" stroke="#307b39" stroke-width="0.8" stroke-opacity="0.75"/>
<rect x="439.10" y="54.14" width="2.2" height="2.2" fill="#307b39"/>
<line x1="454.67" y1="65.98" x2="454.67" y2="69.92" stroke="#307b39" stroke-width="0.8" stroke-opacity="0.75"/>
<line x1="453.47" y1="65.98" x2="455.87" y2="65.98" stroke="#307b39" stroke-width="0.8" stroke-opacity="0.75"/>
<line x1="453.47" y1="69.92" x2="455.87" y2="69.92" stroke="#307b39" stroke-width="0.8" stroke-opacity="0.75"/>
<rect x="453.57" y="66.85" width="2.2" height="2.2" fill="#307b39"/>
<line x1="467.50" y1="76.19" x2="467.50" y2="80.13" stroke="#307b39" stroke-width="0.8" stroke-opacity="0.75"/>
<line x1="466.30" y1="76.19" x2="468.70" y2="76.19" stroke="#307b39" stroke-width="0.8" stroke-opacity="0.75"/>
<line x1="466.30" y1="80.13" x2="468.70" y2="80.13" stroke="#307b39" stroke-width="0.8" stroke-opacity="0.75"/>
<rect x="466.40" y="77.06" width="2.2" height="2.2" fill="#307b39"/>
<line x1="481.70" y1="83.78" x2="481.70" y2="87.72" stroke="#307b39" stroke-width="0.8" stroke-opacity="0.75"/>
<line x1="480.50" y1="83.78" x2="482.90" y2="83.78" stroke="#307b39" stroke-width="0.8" stroke-opacity="0.75"/>
<line x1="480.50" y1="87.72" x2="482.90" y2="87.72" stroke="#307b39" stroke-width="0.8" stroke-opacity="0.75"/>
<rect x="480.60" y="84.65" width="2.2" height="2.2" fill="#307b39"/>
<line x1="494.80" y1="87.58" x2="494.80" y2="91.51" stroke="#307b39" stroke-width="0.8" stroke-opacity="0.75"/>
<line x1="493.60" y1="87.58" x2="496.00" y2="87.58" stroke="#307b39" stroke-width="0.8" stroke-opacity="0.75"/>
<line x1="493.60" y1="91.51" x2="496.00" y2="91.51" stroke="#307b39" stroke-width="0.8" stroke-opacity="0.75"/>
<rect x="493.70" y="88.44" width="2.2" height="2.2" fill="#307b39"/>
<line x1="377.41" y1="30.61" x2="377.41" y2="34.54" stroke="#164839" stroke-width="0.8" stroke-opacity="0.75"/>
<line x1="376.21" y1="30.61" x2="378.61" y2="30.61" stroke="#164839" stroke-width="0.8" stroke-opacity="0.75"/>
<line x1="376.21" y1="34.54" x2="378.61" y2="34.54" stroke="#164839" stroke-width="0.8" stroke-opacity="0.75"/>
<rect x="376.31" y="31.47" width="2.2" height="2.2" fill="#164839"/>
<line x1="390.51" y1="36.74" x2="390.51" y2="40.67" stroke="#164839" stroke-width="0.8" stroke-opacity="0.75"/>
<line x1="389.31" y1="36.74" x2="391.71" y2="36.74" stroke="#164839" stroke-width="0.8" stroke-opacity="0.75"/>
<line x1="389.31" y1="40.67" x2="391.71" y2="40.67" stroke="#164839" stroke-width="0.8" stroke-opacity="0.75"/>
<rect x="389.41" y="37.61" width="2.2" height="2.2" fill="#164839"/>
<line x1="403.35" y1="40.95" x2="403.35" y2="44.89" stroke="#164839" stroke-width="0.8" stroke-opacity="0.75"/>
<line x1="402.15" y1="40.95" x2="404.55" y2="40.95" stroke="#164839" stroke-width="0.8" stroke-opacity="0.75"/>
<line x1="402.15" y1="44.89" x2="404.55" y2="44.89" stroke="#164839" stroke-width="0.8" stroke-opacity="0.75"/>
<rect x="402.25" y="41.82" width="2.2" height="2.2" fill="#164839"/>
<line x1="417.27" y1="50.74" x2="417.27" y2="54.67" stroke="#164839" stroke-width="0.8" stroke-opacity="0.75"/>
<line x1="416.07" y1="50.74" x2="418.47" y2="50.74" stroke="#164839" stroke-width="0.8" stroke-opacity="0.75"/>
<line x1="416.07" y1="54.67" x2="418.47" y2="54.67" stroke="#164839" stroke-width="0.8" stroke-opacity="0.75"/>
<rect x="416.17" y="51.61" width="2.2" height="2.2" fill="#164839"/>
<line x1="429.55" y1="60.25" x2="429.55" y2="64.19" stroke="#164839" stroke-width="0.8" stroke-opacity="0.75"/>
<line x1="428.35" y1="60.25" x2="430.75" y2="60.25" stroke="#164839" stroke-width="0.8" stroke-opacity="0.75"/>
<line x1="428.35" y1="64.19" x2="430.75" y2="64.19" stroke="#164839" stroke-width="0.8" stroke-opacity="0.75"/>
<rect x="428.45" y="61.12" width="2.2" height="2.2" fill="#164839"/>
<line x1="440.20" y1="66.76" x2="440.20" y2="70.70" stroke="#164839" stroke-width="0.8" stroke-opacity="0.75"/>
<line x1="439.00" y1="66.76" x2="441.40" y2="66.76" stroke="#164839" stroke-width="0.8" stroke-opacity="0.75"/>
<line x1="439.00" y1="70.70" x2="441.40" y2="70.70" stroke="#164839" stroke-width="0.8" stroke-opacity="0.75"/>
<rect x="439.10" y="67.63" width="2.2" height="2.2" fill="#164839"/>
<line x1="454.67" y1="80.89" x2="454.67" y2="84.83" stroke="#164839" stroke-width="0.8" stroke-opacity="0.75"/>
<line x1="453.47" y1="80.89" x2="455.87" y2="80.89" stroke="#164839" stroke-width="0.8" stroke-opacity="0.75"/>
<line x1="453.47" y1="84.83" x2="455.87" y2="84.83" stroke="#164839" stroke-width="0.8" stroke-opacity="0.75"/>
<rect x="453.57" y="81.76" width="2.2" height="2.2" fill="#164839"/>
<line x1="467.50" y1="88.83" x2="467.50" y2="92.77" stroke="#164839" stroke-width="0.8" stroke-opacity="0.75"/>
<line x1="466.30" y1="88.83" x2="468.70" y2="88.83" stroke="#164839" stroke-width="0.8" stroke-opacity="0.75"/>
<line x1="466.30" y1="92.77" x2="468.70" y2="92.77" stroke="#164839" stroke-width="0.8" stroke-opacity="0.75"/>
<rect x="466.40" y="89.70" width="2.2" height="2.2" fill="#164839"/>
<line x1="481.70" y1="94.32" x2="481.70" y2="98.25" stroke="#164839" stroke-width="0.8" stroke-opacity="0.75"/>
<line x1="480.50" y1="94.32" x2="482.90" y2="94.32" stroke="#164839" stroke-width="0.8" stroke-opacity="0.75"/>
<line x1="480.50" y1="98.25" x2="482.90" y2="98.25" stroke="#164839" stroke-width="0.8" stroke-opacity="0.75"/>
<rect x="480.60" y="95.18" width="2.2" height="2.2" fill="#164839"/>
<line x1="494.80" y1="97.13" x2="494.80" y2="101.07" stroke="#164839" stroke-width="0.8" stroke-opacity="0.75"/>
<line x1="493.60" y1="97.13" x2="496.00" y2="97.13" stroke="#164839" stroke-width="0.8" stroke-opacity="0.75"/>
<line x1="493.60" y1="101.07" x2="496.00" y2="101.07" stroke="#164839" stroke-width="0.8" stroke-opacity="0.75"/>
<rect x="493.70" y="98.00" width="2.2" height="2.2" fill="#164839"/>
<line x1="377.50" y1="21.60" x2="377.50" y2="100.20" stroke="#3a3a3a" stroke-width="1.3" />
<line x1="376.90" y1="99.60" x2="497.50" y2="99.60" stroke="#3a3a3a" stroke-width="1.3" />
<line x1="375.10" y1="99.60" x2="377.50" y2="99.60" stroke="#3a3a3a" stroke-width="1" />
<text x="372.00" y="102.40" font-size="7.9" text-anchor="end" font-weight="normal" fill="#231f20" stroke="#231f20" stroke-width="0.22" >0</text>
<line x1="375.10" y1="83.20" x2="377.50" y2="83.20" stroke="#3a3a3a" stroke-width="1" />
<text x="372.00" y="86.00" font-size="7.9" text-anchor="end" font-weight="normal" fill="#231f20" stroke="#231f20" stroke-width="0.22" >25</text>
<line x1="375.10" y1="66.80" x2="377.50" y2="66.80" stroke="#3a3a3a" stroke-width="1" />
<text x="372.00" y="69.60" font-size="7.9" text-anchor="end" font-weight="normal" fill="#231f20" stroke="#231f20" stroke-width="0.22" >50</text>
<line x1="375.10" y1="50.40" x2="377.50" y2="50.40" stroke="#3a3a3a" stroke-width="1" />
<text x="372.00" y="53.20" font-size="7.9" text-anchor="end" font-weight="normal" fill="#231f20" stroke="#231f20" stroke-width="0.22" >75</text>
<line x1="375.10" y1="34.00" x2="377.50" y2="34.00" stroke="#3a3a3a" stroke-width="1" />
<text x="372.00" y="36.80" font-size="7.9" text-anchor="end" font-weight="normal" fill="#231f20" stroke="#231f20" stroke-width="0.22" >100</text>
<line x1="385.60" y1="99.60" x2="385.60" y2="102.00" stroke="#3a3a3a" stroke-width="1" />
<text x="385.60" y="111.80" font-size="7.7" text-anchor="middle" font-weight="normal" fill="#231f20" stroke="#231f20" stroke-width="0.22" >0.001</text>
<line x1="412.90" y1="99.60" x2="412.90" y2="102.00" stroke="#3a3a3a" stroke-width="1" />
<text x="412.90" y="111.80" font-size="7.7" text-anchor="middle" font-weight="normal" fill="#231f20" stroke="#231f20" stroke-width="0.22" >0.01</text>
<line x1="440.20" y1="99.60" x2="440.20" y2="102.00" stroke="#3a3a3a" stroke-width="1" />
<text x="440.20" y="111.80" font-size="7.7" text-anchor="middle" font-weight="normal" fill="#231f20" stroke="#231f20" stroke-width="0.22" >0.1</text>
<line x1="467.50" y1="99.60" x2="467.50" y2="102.00" stroke="#3a3a3a" stroke-width="1" />
<text x="467.50" y="111.80" font-size="7.7" text-anchor="middle" font-weight="normal" fill="#231f20" stroke="#231f20" stroke-width="0.22" >1</text>
<line x1="494.80" y1="99.60" x2="494.80" y2="102.00" stroke="#3a3a3a" stroke-width="1" />
<text x="494.80" y="111.80" font-size="7.7" text-anchor="middle" font-weight="normal" fill="#231f20" stroke="#231f20" stroke-width="0.22" >10</text>
<g transform="translate(437.30,125.90) rotate(0) scale(0.655,1)"><text x="0.25" y="0" font-size="9.2" text-anchor="middle" fill="#231f20" stroke="#231f20" stroke-width="0.3" letter-spacing="0.5">Venetoclax (μM)</text></g>
<g transform="translate(26.90,60.60) rotate(-90) scale(0.72,1)"><text x="0.23" y="0" font-size="8.0" text-anchor="middle" fill="#231f20" stroke="#231f20" stroke-width="0.3" letter-spacing="0.45">% Viability</text></g>
<g transform="translate(38.10,60.60) rotate(-90) scale(0.72,1)"><text x="0.23" y="0" font-size="8.0" text-anchor="middle" fill="#231f20" stroke="#231f20" stroke-width="0.3" letter-spacing="0.45">(normalised to DMSO)</text></g>
<g transform="translate(26.90,195.80) rotate(-90) scale(0.72,1)"><text x="0.23" y="0" font-size="8.0" text-anchor="middle" fill="#231f20" stroke="#231f20" stroke-width="0.3" letter-spacing="0.45">% Viability</text></g>
<g transform="translate(38.10,195.80) rotate(-90) scale(0.72,1)"><text x="0.23" y="0" font-size="8.0" text-anchor="middle" fill="#231f20" stroke="#231f20" stroke-width="0.3" letter-spacing="0.45">(normalised to DMSO)</text></g>
<path d="M64.88,172.30 L65.86,172.30 L66.84,172.30 L67.83,172.30 L68.81,172.30 L69.79,172.30 L70.77,172.30 L71.75,172.30 L72.73,172.30 L73.72,172.30 L74.70,172.30 L75.68,172.30 L76.66,172.30 L77.64,172.30 L78.63,172.30 L79.61,172.30 L80.59,172.30 L81.57,172.30 L82.55,172.30 L83.53,172.30 L84.52,172.30 L85.50,172.30 L86.48,172.31 L87.46,172.31 L88.44,172.31 L89.43,172.31 L90.41,172.31 L91.39,172.31 L92.37,172.32 L93.35,172.32 L94.34,172.32 L95.32,172.33 L96.30,172.33 L97.28,172.34 L98.26,172.35 L99.24,172.36 L100.23,172.37 L101.21,172.38 L102.19,172.39 L103.17,172.41 L104.15,172.44 L105.14,172.46 L106.12,172.50 L107.10,172.53 L108.08,172.58 L109.06,172.64 L110.04,172.70 L111.03,172.78 L112.01,172.88 L112.99,172.99 L113.97,173.13 L114.95,173.29 L115.94,173.48 L116.92,173.72 L117.90,173.99 L118.88,174.31 L119.86,174.70 L120.84,175.16 L121.83,175.69 L122.81,176.33 L123.79,177.07 L124.77,177.93 L125.75,178.93 L126.74,180.09 L127.72,181.41 L128.70,182.91 L129.68,184.61 L130.66,186.50 L131.64,188.59 L132.63,190.87 L133.61,193.33 L134.59,195.93 L135.57,198.65 L136.55,201.45 L137.54,204.28 L138.52,207.10 L139.50,209.87 L140.48,212.53 L141.46,215.06 L142.44,217.43 L143.43,219.61 L144.41,221.60 L145.39,223.39 L146.37,224.99 L147.35,226.40 L148.34,227.63 L149.32,228.70 L150.30,229.63 L151.28,230.43 L152.26,231.11 L153.25,231.69 L154.23,232.19 L155.21,232.61 L156.19,232.96 L157.17,233.26 L158.15,233.51 L159.14,233.72 L160.12,233.90 L161.10,234.04 L162.08,234.17 L163.06,234.27 L164.05,234.36 L165.03,234.43 L166.01,234.49 L166.99,234.54 L167.97,234.59 L168.95,234.62 L169.94,234.65 L170.92,234.68 L171.90,234.70 L172.88,234.71 L173.86,234.73 L174.85,234.74 L175.83,234.75 L176.81,234.76 L177.79,234.77 L178.77,234.77 L179.75,234.78 L180.74,234.78 L181.72,234.78 L182.70,234.79" stroke="#f2d092" stroke-width="1.15" fill="none" />
<path d="M64.88,173.55 L65.86,173.55 L66.84,173.55 L67.83,173.55 L68.81,173.55 L69.79,173.55 L70.77,173.55 L71.75,173.55 L72.73,173.55 L73.72,173.55 L74.70,173.55 L75.68,173.55 L76.66,173.55 L77.64,173.55 L78.63,173.55 L79.61,173.55 L80.59,173.55 L81.57,173.55 L82.55,173.55 L83.53,173.55 L84.52,173.55 L85.50,173.55 L86.48,173.55 L87.46,173.55 L88.44,173.55 L89.43,173.55 L90.41,173.55 L91.39,173.56 L92.37,173.56 L93.35,173.56 L94.34,173.56 L95.32,173.56 L96.30,173.56 L97.28,173.57 L98.26,173.57 L99.24,173.58 L100.23,173.58 L101.21,173.59 L102.19,173.60 L103.17,173.61 L104.15,173.62 L105.14,173.64 L106.12,173.66 L107.10,173.69 L108.08,173.72 L109.06,173.76 L110.04,173.80 L111.03,173.86 L112.01,173.93 L112.99,174.02 L113.97,174.12 L114.95,174.26 L115.94,174.41 L116.92,174.61 L117.90,174.85 L118.88,175.14 L119.86,175.49 L120.84,175.91 L121.83,176.43 L122.81,177.05 L123.79,177.80 L124.77,178.69 L125.75,179.75 L126.74,181.00 L127.72,182.45 L128.70,184.14 L129.68,186.07 L130.66,188.25 L131.64,190.68 L132.63,193.34 L133.61,196.19 L134.59,199.21 L135.57,202.32 L136.55,205.48 L137.54,208.61 L138.52,211.64 L139.50,214.53 L140.48,217.23 L141.46,219.69 L142.44,221.92 L143.43,223.89 L144.41,225.62 L145.39,227.12 L146.37,228.40 L147.35,229.49 L148.34,230.41 L149.32,231.18 L150.30,231.82 L151.28,232.35 L152.26,232.79 L153.25,233.16 L154.23,233.46 L155.21,233.70 L156.19,233.90 L157.17,234.07 L158.15,234.20 L159.14,234.31 L160.12,234.40 L161.10,234.48 L162.08,234.54 L163.06,234.59 L164.05,234.63 L165.03,234.66 L166.01,234.68 L166.99,234.71 L167.97,234.72 L168.95,234.74 L169.94,234.75 L170.92,234.76 L171.90,234.77 L172.88,234.77 L173.86,234.78 L174.85,234.78 L175.83,234.79 L176.81,234.79 L177.79,234.79 L178.77,234.79 L179.75,234.79 L180.74,234.79 L181.72,234.80 L182.70,234.80" stroke="#e4b48c" stroke-width="1.15" fill="none" />
<path d="M64.88,168.55 L65.86,168.55 L66.84,168.55 L67.83,168.55 L68.81,168.55 L69.79,168.55 L70.77,168.55 L71.75,168.55 L72.73,168.55 L73.72,168.55 L74.70,168.55 L75.68,168.55 L76.66,168.55 L77.64,168.55 L78.63,168.55 L79.61,168.55 L80.59,168.55 L81.57,168.55 L82.55,168.56 L83.53,168.56 L84.52,168.56 L85.50,168.56 L86.48,168.56 L87.46,168.56 L88.44,168.57 L89.43,168.57 L90.41,168.57 L91.39,168.57 L92.37,168.58 L93.35,168.58 L94.34,168.59 L95.32,168.60 L96.30,168.61 L97.28,168.62 L98.26,168.63 L99.24,168.64 L100.23,168.66 L101.21,168.68 L102.19,168.70 L103.17,168.73 L104.15,168.76 L105.14,168.80 L106.12,168.84 L107.10,168.90 L108.08,168.96 L109.06,169.03 L110.04,169.12 L111.03,169.22 L112.01,169.34 L112.99,169.48 L113.97,169.64 L114.95,169.83 L115.94,170.05 L116.92,170.32 L117.90,170.62 L118.88,170.98 L119.86,171.40 L120.84,171.89 L121.83,172.45 L122.81,173.10 L123.79,173.85 L124.77,174.72 L125.75,175.70 L126.74,176.83 L127.72,178.10 L128.70,179.53 L129.68,181.12 L130.66,182.89 L131.64,184.83 L132.63,186.94 L133.61,189.21 L134.59,191.63 L135.57,194.16 L136.55,196.80 L137.54,199.50 L138.52,202.23 L139.50,204.95 L140.48,207.63 L141.46,210.23 L142.44,212.72 L143.43,215.08 L144.41,217.29 L145.39,219.33 L146.37,221.20 L147.35,222.90 L148.34,224.43 L149.32,225.79 L150.30,227.00 L151.28,228.06 L152.26,229.00 L153.25,229.82 L154.23,230.52 L155.21,231.14 L156.19,231.67 L157.17,232.13 L158.15,232.52 L159.14,232.86 L160.12,233.14 L161.10,233.39 L162.08,233.60 L163.06,233.78 L164.05,233.93 L165.03,234.06 L166.01,234.18 L166.99,234.27 L167.97,234.35 L168.95,234.42 L169.94,234.48 L170.92,234.52 L171.90,234.57 L172.88,234.60 L173.86,234.63 L174.85,234.66 L175.83,234.68 L176.81,234.70 L177.79,234.71 L178.77,234.73 L179.75,234.74 L180.74,234.75 L181.72,234.76 L182.70,234.76" stroke="#f4ac5c" stroke-width="1.15" fill="none" />
<path d="M64.88,176.68 L65.86,176.68 L66.84,176.68 L67.83,176.68 L68.81,176.68 L69.79,176.68 L70.77,176.68 L71.75,176.68 L72.73,176.68 L73.72,176.68 L74.70,176.68 L75.68,176.68 L76.66,176.68 L77.64,176.68 L78.63,176.68 L79.61,176.68 L80.59,176.68 L81.57,176.68 L82.55,176.68 L83.53,176.68 L84.52,176.68 L85.50,176.68 L86.48,176.68 L87.46,176.68 L88.44,176.68 L89.43,176.68 L90.41,176.68 L91.39,176.68 L92.37,176.68 L93.35,176.68 L94.34,176.68 L95.32,176.68 L96.30,176.68 L97.28,176.68 L98.26,176.69 L99.24,176.69 L100.23,176.69 L101.21,176.70 L102.19,176.70 L103.17,176.71 L104.15,176.72 L105.14,176.73 L106.12,176.74 L107.10,176.76 L108.08,176.78 L109.06,176.81 L110.04,176.84 L111.03,176.89 L112.01,176.94 L112.99,177.01 L113.97,177.09 L114.95,177.20 L115.94,177.34 L116.92,177.51 L117.90,177.72 L118.88,177.99 L119.86,178.32 L120.84,178.73 L121.83,179.24 L122.81,179.87 L123.79,180.65 L124.77,181.59 L125.75,182.73 L126.74,184.11 L127.72,185.74 L128.70,187.65 L129.68,189.86 L130.66,192.36 L131.64,195.14 L132.63,198.16 L133.61,201.37 L134.59,204.70 L135.57,208.05 L136.55,211.34 L137.54,214.49 L138.52,217.43 L139.50,220.10 L140.48,222.49 L141.46,224.59 L142.44,226.39 L143.43,227.92 L144.41,229.20 L145.39,230.27 L146.37,231.14 L147.35,231.86 L148.34,232.44 L149.32,232.91 L150.30,233.29 L151.28,233.60 L152.26,233.84 L153.25,234.04 L154.23,234.19 L155.21,234.32 L156.19,234.42 L157.17,234.49 L158.15,234.56 L159.14,234.61 L160.12,234.65 L161.10,234.68 L162.08,234.70 L163.06,234.72 L164.05,234.74 L165.03,234.75 L166.01,234.76 L166.99,234.77 L167.97,234.78 L168.95,234.78 L169.94,234.78 L170.92,234.79 L171.90,234.79 L172.88,234.79 L173.86,234.79 L174.85,234.80 L175.83,234.80 L176.81,234.80 L177.79,234.80 L178.77,234.80 L179.75,234.80 L180.74,234.80 L181.72,234.80 L182.70,234.80" stroke="#dc9050" stroke-width="1.15" fill="none" />
<path d="M64.88,172.30 L65.86,172.30 L66.84,172.30 L67.83,172.30 L68.81,172.30 L69.79,172.30 L70.77,172.30 L71.75,172.30 L72.73,172.30 L73.72,172.30 L74.70,172.30 L75.68,172.30 L76.66,172.30 L77.64,172.30 L78.63,172.30 L79.61,172.30 L80.59,172.30 L81.57,172.30 L82.55,172.30 L83.53,172.30 L84.52,172.30 L85.50,172.30 L86.48,172.30 L87.46,172.30 L88.44,172.31 L89.43,172.31 L90.41,172.31 L91.39,172.31 L92.37,172.31 L93.35,172.31 L94.34,172.32 L95.32,172.32 L96.30,172.33 L97.28,172.33 L98.26,172.34 L99.24,172.34 L100.23,172.35 L101.21,172.37 L102.19,172.38 L103.17,172.40 L104.15,172.41 L105.14,172.44 L106.12,172.47 L107.10,172.50 L108.08,172.55 L109.06,172.60 L110.04,172.66 L111.03,172.73 L112.01,172.82 L112.99,172.93 L113.97,173.06 L114.95,173.22 L115.94,173.40 L116.92,173.63 L117.90,173.90 L118.88,174.22 L119.86,174.61 L120.84,175.07 L121.83,175.62 L122.81,176.27 L123.79,177.04 L124.77,177.94 L125.75,178.99 L126.74,180.21 L127.72,181.62 L128.70,183.22 L129.68,185.04 L130.66,187.08 L131.64,189.32 L132.63,191.77 L133.61,194.40 L134.59,197.18 L135.57,200.07 L136.55,203.02 L137.54,205.98 L138.52,208.90 L139.50,211.72 L140.48,214.41 L141.46,216.93 L142.44,219.25 L143.43,221.36 L144.41,223.25 L145.39,224.93 L146.37,226.41 L147.35,227.69 L148.34,228.81 L149.32,229.76 L150.30,230.57 L151.28,231.26 L152.26,231.84 L153.25,232.33 L154.23,232.75 L155.21,233.09 L156.19,233.38 L157.17,233.62 L158.15,233.82 L159.14,233.99 L160.12,234.13 L161.10,234.24 L162.08,234.34 L163.06,234.42 L164.05,234.48 L165.03,234.54 L166.01,234.58 L166.99,234.62 L167.97,234.65 L168.95,234.68 L169.94,234.70 L170.92,234.72 L171.90,234.73 L172.88,234.74 L173.86,234.75 L174.85,234.76 L175.83,234.77 L176.81,234.77 L177.79,234.78 L178.77,234.78 L179.75,234.78 L180.74,234.79 L181.72,234.79 L182.70,234.79" stroke="#f0902a" stroke-width="1.15" fill="none" />
<path d="M64.88,179.80 L65.86,179.80 L66.84,179.80 L67.83,179.80 L68.81,179.80 L69.79,179.80 L70.77,179.80 L71.75,179.80 L72.73,179.80 L73.72,179.80 L74.70,179.80 L75.68,179.80 L76.66,179.80 L77.64,179.80 L78.63,179.80 L79.61,179.80 L80.59,179.80 L81.57,179.80 L82.55,179.80 L83.53,179.80 L84.52,179.80 L85.50,179.80 L86.48,179.80 L87.46,179.80 L88.44,179.80 L89.43,179.80 L90.41,179.80 L91.39,179.80 L92.37,179.80 L93.35,179.80 L94.34,179.80 L95.32,179.80 L96.30,179.80 L97.28,179.81 L98.26,179.81 L99.24,179.81 L100.23,179.81 L101.21,179.82 L102.19,179.82 L103.17,179.83 L104.15,179.84 L105.14,179.85 L106.12,179.86 L107.10,179.87 L108.08,179.90 L109.06,179.92 L110.04,179.96 L111.03,180.00 L112.01,180.06 L112.99,180.13 L113.97,180.22 L114.95,180.34 L115.94,180.49 L116.92,180.68 L117.90,180.92 L118.88,181.22 L119.86,181.61 L120.84,182.10 L121.83,182.71 L122.81,183.47 L123.79,184.42 L124.77,185.58 L125.75,186.99 L126.74,188.68 L127.72,190.69 L128.70,193.01 L129.68,195.65 L130.66,198.58 L131.64,201.75 L132.63,205.08 L133.61,208.48 L134.59,211.84 L135.57,215.07 L136.55,218.08 L137.54,220.82 L138.52,223.24 L139.50,225.34 L140.48,227.12 L141.46,228.62 L142.44,229.85 L143.43,230.86 L144.41,231.67 L145.39,232.33 L146.37,232.85 L147.35,233.27 L148.34,233.60 L149.32,233.85 L150.30,234.06 L151.28,234.22 L152.26,234.35 L153.25,234.44 L154.23,234.52 L155.21,234.58 L156.19,234.63 L157.17,234.67 L158.15,234.70 L159.14,234.72 L160.12,234.74 L161.10,234.75 L162.08,234.76 L163.06,234.77 L164.05,234.78 L165.03,234.78 L166.01,234.79 L166.99,234.79 L167.97,234.79 L168.95,234.79 L169.94,234.79 L170.92,234.80 L171.90,234.80 L172.88,234.80 L173.86,234.80 L174.85,234.80 L175.83,234.80 L176.81,234.80 L177.79,234.80 L178.77,234.80 L179.75,234.80 L180.74,234.80 L181.72,234.80 L182.70,234.80" stroke="#c8701e" stroke-width="1.15" fill="none" />
<line x1="64.88" y1="169.18" x2="64.88" y2="175.43" stroke="#c1a674" stroke-width="0.8" stroke-opacity="0.75"/>
<line x1="63.68" y1="169.18" x2="66.08" y2="169.18" stroke="#c1a674" stroke-width="0.8" stroke-opacity="0.75"/>
<line x1="63.68" y1="175.43" x2="66.08" y2="175.43" stroke="#c1a674" stroke-width="0.8" stroke-opacity="0.75"/>
<rect x="63.78" y="171.20" width="2.2" height="2.2" fill="#c1a674"/>
<line x1="78.03" y1="169.18" x2="78.03" y2="175.43" stroke="#c1a674" stroke-width="0.8" stroke-opacity="0.75"/>
<line x1="76.83" y1="169.18" x2="79.23" y2="169.18" stroke="#c1a674" stroke-width="0.8" stroke-opacity="0.75"/>
<line x1="76.83" y1="175.43" x2="79.23" y2="175.43" stroke="#c1a674" stroke-width="0.8" stroke-opacity="0.75"/>
<rect x="76.93" y="171.20" width="2.2" height="2.2" fill="#c1a674"/>
<line x1="90.91" y1="169.19" x2="90.91" y2="175.44" stroke="#c1a674" stroke-width="0.8" stroke-opacity="0.75"/>
<line x1="89.71" y1="169.19" x2="92.11" y2="169.19" stroke="#c1a674" stroke-width="0.8" stroke-opacity="0.75"/>
<line x1="89.71" y1="175.44" x2="92.11" y2="175.44" stroke="#c1a674" stroke-width="0.8" stroke-opacity="0.75"/>
<rect x="89.81" y="171.21" width="2.2" height="2.2" fill="#c1a674"/>
<line x1="104.88" y1="169.33" x2="104.88" y2="175.58" stroke="#c1a674" stroke-width="0.8" stroke-opacity="0.75"/>
<line x1="103.68" y1="169.33" x2="106.08" y2="169.33" stroke="#c1a674" stroke-width="0.8" stroke-opacity="0.75"/>
<line x1="103.68" y1="175.58" x2="106.08" y2="175.58" stroke="#c1a674" stroke-width="0.8" stroke-opacity="0.75"/>
<rect x="103.78" y="171.36" width="2.2" height="2.2" fill="#c1a674"/>
<line x1="117.21" y1="170.67" x2="117.21" y2="176.92" stroke="#c1a674" stroke-width="0.8" stroke-opacity="0.75"/>
<line x1="116.01" y1="170.67" x2="118.41" y2="170.67" stroke="#c1a674" stroke-width="0.8" stroke-opacity="0.75"/>
<line x1="116.01" y1="176.92" x2="118.41" y2="176.92" stroke="#c1a674" stroke-width="0.8" stroke-opacity="0.75"/>
<rect x="116.11" y="172.69" width="2.2" height="2.2" fill="#c1a674"/>
<line x1="127.90" y1="178.55" x2="127.90" y2="184.80" stroke="#c1a674" stroke-width="0.8" stroke-opacity="0.75"/>
<line x1="126.70" y1="178.55" x2="129.10" y2="178.55" stroke="#c1a674" stroke-width="0.8" stroke-opacity="0.75"/>
<line x1="126.70" y1="184.80" x2="129.10" y2="184.80" stroke="#c1a674" stroke-width="0.8" stroke-opacity="0.75"/>
<rect x="126.80" y="180.57" width="2.2" height="2.2" fill="#c1a674"/>
<line x1="142.42" y1="215.50" x2="142.42" y2="219.25" stroke="#c1a674" stroke-width="0.8" stroke-opacity="0.75"/>
<line x1="141.22" y1="215.50" x2="143.62" y2="215.50" stroke="#c1a674" stroke-width="0.8" stroke-opacity="0.75"/>
<line x1="141.22" y1="219.25" x2="143.62" y2="219.25" stroke="#c1a674" stroke-width="0.8" stroke-opacity="0.75"/>
<rect x="141.32" y="216.27" width="2.2" height="2.2" fill="#c1a674"/>
<line x1="155.30" y1="232.02" x2="155.30" y2="233.27" stroke="#c1a674" stroke-width="0.8" stroke-opacity="0.75"/>
<line x1="154.10" y1="232.02" x2="156.50" y2="232.02" stroke="#c1a674" stroke-width="0.8" stroke-opacity="0.75"/>
<line x1="154.10" y1="233.27" x2="156.50" y2="233.27" stroke="#c1a674" stroke-width="0.8" stroke-opacity="0.75"/>
<rect x="154.20" y="231.54" width="2.2" height="2.2" fill="#c1a674"/>
<line x1="169.55" y1="234.02" x2="169.55" y2="235.27" stroke="#c1a674" stroke-width="0.8" stroke-opacity="0.75"/>
<line x1="168.35" y1="234.02" x2="170.75" y2="234.02" stroke="#c1a674" stroke-width="0.8" stroke-opacity="0.75"/>
<line x1="168.35" y1="235.27" x2="170.75" y2="235.27" stroke="#c1a674" stroke-width="0.8" stroke-opacity="0.75"/>
<rect x="168.45" y="233.54" width="2.2" height="2.2" fill="#c1a674"/>
<line x1="182.70" y1="234.16" x2="182.70" y2="235.41" stroke="#c1a674" stroke-width="0.8" stroke-opacity="0.75"/>
<line x1="181.50" y1="234.16" x2="183.90" y2="234.16" stroke="#c1a674" stroke-width="0.8" stroke-opacity="0.75"/>
<line x1="181.50" y1="235.41" x2="183.90" y2="235.41" stroke="#c1a674" stroke-width="0.8" stroke-opacity="0.75"/>
<rect x="181.60" y="233.69" width="2.2" height="2.2" fill="#c1a674"/>
<line x1="64.88" y1="169.80" x2="64.88" y2="177.30" stroke="#b69070" stroke-width="0.8" stroke-opacity="0.75"/>
<line x1="63.68" y1="169.80" x2="66.08" y2="169.80" stroke="#b69070" stroke-width="0.8" stroke-opacity="0.75"/>
<line x1="63.68" y1="177.30" x2="66.08" y2="177.30" stroke="#b69070" stroke-width="0.8" stroke-opacity="0.75"/>
<rect x="63.78" y="172.45" width="2.2" height="2.2" fill="#b69070"/>
<line x1="78.03" y1="169.80" x2="78.03" y2="177.30" stroke="#b69070" stroke-width="0.8" stroke-opacity="0.75"/>
<line x1="76.83" y1="169.80" x2="79.23" y2="169.80" stroke="#b69070" stroke-width="0.8" stroke-opacity="0.75"/>
<line x1="76.83" y1="177.30" x2="79.23" y2="177.30" stroke="#b69070" stroke-width="0.8" stroke-opacity="0.75"/>
<rect x="76.93" y="172.45" width="2.2" height="2.2" fill="#b69070"/>
<line x1="90.91" y1="169.80" x2="90.91" y2="177.30" stroke="#b69070" stroke-width="0.8" stroke-opacity="0.75"/>
<line x1="89.71" y1="169.80" x2="92.11" y2="169.80" stroke="#b69070" stroke-width="0.8" stroke-opacity="0.75"/>
<line x1="89.71" y1="177.30" x2="92.11" y2="177.30" stroke="#b69070" stroke-width="0.8" stroke-opacity="0.75"/>
<rect x="89.81" y="172.45" width="2.2" height="2.2" fill="#b69070"/>
<line x1="104.88" y1="170.51" x2="104.88" y2="176.76" stroke="#b69070" stroke-width="0.8" stroke-opacity="0.75"/>
<line x1="103.68" y1="170.51" x2="106.08" y2="170.51" stroke="#b69070" stroke-width="0.8" stroke-opacity="0.75"/>
<line x1="103.68" y1="176.76" x2="106.08" y2="176.76" stroke="#b69070" stroke-width="0.8" stroke-opacity="0.75"/>
<rect x="103.78" y="172.54" width="2.2" height="2.2" fill="#b69070"/>
<line x1="117.21" y1="171.55" x2="117.21" y2="177.80" stroke="#b69070" stroke-width="0.8" stroke-opacity="0.75"/>
<line x1="116.01" y1="171.55" x2="118.41" y2="171.55" stroke="#b69070" stroke-width="0.8" stroke-opacity="0.75"/>
<line x1="116.01" y1="177.80" x2="118.41" y2="177.80" stroke="#b69070" stroke-width="0.8" stroke-opacity="0.75"/>
<rect x="116.11" y="173.58" width="2.2" height="2.2" fill="#b69070"/>
<line x1="127.90" y1="179.63" x2="127.90" y2="185.88" stroke="#b69070" stroke-width="0.8" stroke-opacity="0.75"/>
<line x1="126.70" y1="179.63" x2="129.10" y2="179.63" stroke="#b69070" stroke-width="0.8" stroke-opacity="0.75"/>
<line x1="126.70" y1="185.88" x2="129.10" y2="185.88" stroke="#b69070" stroke-width="0.8" stroke-opacity="0.75"/>
<rect x="126.80" y="181.65" width="2.2" height="2.2" fill="#b69070"/>
<line x1="142.42" y1="219.99" x2="142.42" y2="223.74" stroke="#b69070" stroke-width="0.8" stroke-opacity="0.75"/>
<line x1="141.22" y1="219.99" x2="143.62" y2="219.99" stroke="#b69070" stroke-width="0.8" stroke-opacity="0.75"/>
<line x1="141.22" y1="223.74" x2="143.62" y2="223.74" stroke="#b69070" stroke-width="0.8" stroke-opacity="0.75"/>
<rect x="141.32" y="220.77" width="2.2" height="2.2" fill="#b69070"/>
<line x1="155.30" y1="233.10" x2="155.30" y2="234.35" stroke="#b69070" stroke-width="0.8" stroke-opacity="0.75"/>
<line x1="154.10" y1="233.10" x2="156.50" y2="233.10" stroke="#b69070" stroke-width="0.8" stroke-opacity="0.75"/>
<line x1="154.10" y1="234.35" x2="156.50" y2="234.35" stroke="#b69070" stroke-width="0.8" stroke-opacity="0.75"/>
<rect x="154.20" y="232.62" width="2.2" height="2.2" fill="#b69070"/>
<line x1="169.55" y1="234.12" x2="169.55" y2="235.37" stroke="#b69070" stroke-width="0.8" stroke-opacity="0.75"/>
<line x1="168.35" y1="234.12" x2="170.75" y2="234.12" stroke="#b69070" stroke-width="0.8" stroke-opacity="0.75"/>
<line x1="168.35" y1="235.37" x2="170.75" y2="235.37" stroke="#b69070" stroke-width="0.8" stroke-opacity="0.75"/>
<rect x="168.45" y="233.65" width="2.2" height="2.2" fill="#b69070"/>
<line x1="182.70" y1="234.17" x2="182.70" y2="235.42" stroke="#b69070" stroke-width="0.8" stroke-opacity="0.75"/>
<line x1="181.50" y1="234.17" x2="183.90" y2="234.17" stroke="#b69070" stroke-width="0.8" stroke-opacity="0.75"/>
<line x1="181.50" y1="235.42" x2="183.90" y2="235.42" stroke="#b69070" stroke-width="0.8" stroke-opacity="0.75"/>
<rect x="181.60" y="233.70" width="2.2" height="2.2" fill="#b69070"/>
<line x1="64.88" y1="162.30" x2="64.88" y2="174.80" stroke="#c38949" stroke-width="0.8" stroke-opacity="0.75"/>
<line x1="63.68" y1="162.30" x2="66.08" y2="162.30" stroke="#c38949" stroke-width="0.8" stroke-opacity="0.75"/>
<line x1="63.68" y1="174.80" x2="66.08" y2="174.80" stroke="#c38949" stroke-width="0.8" stroke-opacity="0.75"/>
<rect x="63.78" y="167.45" width="2.2" height="2.2" fill="#c38949"/>
<line x1="78.03" y1="161.05" x2="78.03" y2="176.05" stroke="#c38949" stroke-width="0.8" stroke-opacity="0.75"/>
<line x1="76.83" y1="161.05" x2="79.23" y2="161.05" stroke="#c38949" stroke-width="0.8" stroke-opacity="0.75"/>
<line x1="76.83" y1="176.05" x2="79.23" y2="176.05" stroke="#c38949" stroke-width="0.8" stroke-opacity="0.75"/>
<rect x="76.93" y="167.45" width="2.2" height="2.2" fill="#c38949"/>
<line x1="90.91" y1="162.32" x2="90.91" y2="174.82" stroke="#c38949" stroke-width="0.8" stroke-opacity="0.75"/>
<line x1="89.71" y1="162.32" x2="92.11" y2="162.32" stroke="#c38949" stroke-width="0.8" stroke-opacity="0.75"/>
<line x1="89.71" y1="174.82" x2="92.11" y2="174.82" stroke="#c38949" stroke-width="0.8" stroke-opacity="0.75"/>
<rect x="89.81" y="167.47" width="2.2" height="2.2" fill="#c38949"/>
<line x1="104.88" y1="165.04" x2="104.88" y2="172.54" stroke="#c38949" stroke-width="0.8" stroke-opacity="0.75"/>
<line x1="103.68" y1="165.04" x2="106.08" y2="165.04" stroke="#c38949" stroke-width="0.8" stroke-opacity="0.75"/>
<line x1="103.68" y1="172.54" x2="106.08" y2="172.54" stroke="#c38949" stroke-width="0.8" stroke-opacity="0.75"/>
<rect x="103.78" y="167.69" width="2.2" height="2.2" fill="#c38949"/>
<line x1="117.21" y1="166.66" x2="117.21" y2="174.16" stroke="#c38949" stroke-width="0.8" stroke-opacity="0.75"/>
<line x1="116.01" y1="166.66" x2="118.41" y2="166.66" stroke="#c38949" stroke-width="0.8" stroke-opacity="0.75"/>
<line x1="116.01" y1="174.16" x2="118.41" y2="174.16" stroke="#c38949" stroke-width="0.8" stroke-opacity="0.75"/>
<rect x="116.11" y="169.31" width="2.2" height="2.2" fill="#c38949"/>
<line x1="127.90" y1="175.23" x2="127.90" y2="181.48" stroke="#c38949" stroke-width="0.8" stroke-opacity="0.75"/>
<line x1="126.70" y1="175.23" x2="129.10" y2="175.23" stroke="#c38949" stroke-width="0.8" stroke-opacity="0.75"/>
<line x1="126.70" y1="181.48" x2="129.10" y2="181.48" stroke="#c38949" stroke-width="0.8" stroke-opacity="0.75"/>
<rect x="126.80" y="177.25" width="2.2" height="2.2" fill="#c38949"/>
<line x1="142.42" y1="210.79" x2="142.42" y2="214.54" stroke="#c38949" stroke-width="0.8" stroke-opacity="0.75"/>
<line x1="141.22" y1="210.79" x2="143.62" y2="210.79" stroke="#c38949" stroke-width="0.8" stroke-opacity="0.75"/>
<line x1="141.22" y1="214.54" x2="143.62" y2="214.54" stroke="#c38949" stroke-width="0.8" stroke-opacity="0.75"/>
<rect x="141.32" y="211.57" width="2.2" height="2.2" fill="#c38949"/>
<line x1="155.30" y1="230.57" x2="155.30" y2="231.82" stroke="#c38949" stroke-width="0.8" stroke-opacity="0.75"/>
<line x1="154.10" y1="230.57" x2="156.50" y2="230.57" stroke="#c38949" stroke-width="0.8" stroke-opacity="0.75"/>
<line x1="154.10" y1="231.82" x2="156.50" y2="231.82" stroke="#c38949" stroke-width="0.8" stroke-opacity="0.75"/>
<rect x="154.20" y="230.09" width="2.2" height="2.2" fill="#c38949"/>
<line x1="169.55" y1="233.83" x2="169.55" y2="235.08" stroke="#c38949" stroke-width="0.8" stroke-opacity="0.75"/>
<line x1="168.35" y1="233.83" x2="170.75" y2="233.83" stroke="#c38949" stroke-width="0.8" stroke-opacity="0.75"/>
<line x1="168.35" y1="235.08" x2="170.75" y2="235.08" stroke="#c38949" stroke-width="0.8" stroke-opacity="0.75"/>
<rect x="168.45" y="233.35" width="2.2" height="2.2" fill="#c38949"/>
<line x1="182.70" y1="234.14" x2="182.70" y2="235.39" stroke="#c38949" stroke-width="0.8" stroke-opacity="0.75"/>
<line x1="181.50" y1="234.14" x2="183.90" y2="234.14" stroke="#c38949" stroke-width="0.8" stroke-opacity="0.75"/>
<line x1="181.50" y1="235.39" x2="183.90" y2="235.39" stroke="#c38949" stroke-width="0.8" stroke-opacity="0.75"/>
<rect x="181.60" y="233.66" width="2.2" height="2.2" fill="#c38949"/>
<line x1="64.88" y1="172.93" x2="64.88" y2="180.43" stroke="#b07340" stroke-width="0.8" stroke-opacity="0.75"/>
<line x1="63.68" y1="172.93" x2="66.08" y2="172.93" stroke="#b07340" stroke-width="0.8" stroke-opacity="0.75"/>
<line x1="63.68" y1="180.43" x2="66.08" y2="180.43" stroke="#b07340" stroke-width="0.8" stroke-opacity="0.75"/>
<rect x="63.78" y="175.58" width="2.2" height="2.2" fill="#b07340"/>
<line x1="78.03" y1="172.93" x2="78.03" y2="180.43" stroke="#b07340" stroke-width="0.8" stroke-opacity="0.75"/>
<line x1="76.83" y1="172.93" x2="79.23" y2="172.93" stroke="#b07340" stroke-width="0.8" stroke-opacity="0.75"/>
<line x1="76.83" y1="180.43" x2="79.23" y2="180.43" stroke="#b07340" stroke-width="0.8" stroke-opacity="0.75"/>
<rect x="76.93" y="175.58" width="2.2" height="2.2" fill="#b07340"/>
<line x1="90.91" y1="172.93" x2="90.91" y2="180.43" stroke="#b07340" stroke-width="0.8" stroke-opacity="0.75"/>
<line x1="89.71" y1="172.93" x2="92.11" y2="172.93" stroke="#b07340" stroke-width="0.8" stroke-opacity="0.75"/>
<line x1="89.71" y1="180.43" x2="92.11" y2="180.43" stroke="#b07340" stroke-width="0.8" stroke-opacity="0.75"/>
<rect x="89.81" y="175.58" width="2.2" height="2.2" fill="#b07340"/>
<line x1="104.88" y1="173.60" x2="104.88" y2="179.85" stroke="#b07340" stroke-width="0.8" stroke-opacity="0.75"/>
<line x1="103.68" y1="173.60" x2="106.08" y2="173.60" stroke="#b07340" stroke-width="0.8" stroke-opacity="0.75"/>
<line x1="103.68" y1="179.85" x2="106.08" y2="179.85" stroke="#b07340" stroke-width="0.8" stroke-opacity="0.75"/>
<rect x="103.78" y="175.62" width="2.2" height="2.2" fill="#b07340"/>
<line x1="117.21" y1="174.44" x2="117.21" y2="180.69" stroke="#b07340" stroke-width="0.8" stroke-opacity="0.75"/>
<line x1="116.01" y1="174.44" x2="118.41" y2="174.44" stroke="#b07340" stroke-width="0.8" stroke-opacity="0.75"/>
<line x1="116.01" y1="180.69" x2="118.41" y2="180.69" stroke="#b07340" stroke-width="0.8" stroke-opacity="0.75"/>
<rect x="116.11" y="176.47" width="2.2" height="2.2" fill="#b07340"/>
<line x1="127.90" y1="182.95" x2="127.90" y2="189.20" stroke="#b07340" stroke-width="0.8" stroke-opacity="0.75"/>
<line x1="126.70" y1="182.95" x2="129.10" y2="182.95" stroke="#b07340" stroke-width="0.8" stroke-opacity="0.75"/>
<line x1="126.70" y1="189.20" x2="129.10" y2="189.20" stroke="#b07340" stroke-width="0.8" stroke-opacity="0.75"/>
<rect x="126.80" y="184.97" width="2.2" height="2.2" fill="#b07340"/>
<line x1="142.42" y1="224.47" x2="142.42" y2="228.22" stroke="#b07340" stroke-width="0.8" stroke-opacity="0.75"/>
<line x1="141.22" y1="224.47" x2="143.62" y2="224.47" stroke="#b07340" stroke-width="0.8" stroke-opacity="0.75"/>
<line x1="141.22" y1="228.22" x2="143.62" y2="228.22" stroke="#b07340" stroke-width="0.8" stroke-opacity="0.75"/>
<rect x="141.32" y="225.25" width="2.2" height="2.2" fill="#b07340"/>
<line x1="155.30" y1="233.70" x2="155.30" y2="234.95" stroke="#b07340" stroke-width="0.8" stroke-opacity="0.75"/>
<line x1="154.10" y1="233.70" x2="156.50" y2="233.70" stroke="#b07340" stroke-width="0.8" stroke-opacity="0.75"/>
<line x1="154.10" y1="234.95" x2="156.50" y2="234.95" stroke="#b07340" stroke-width="0.8" stroke-opacity="0.75"/>
<rect x="154.20" y="233.23" width="2.2" height="2.2" fill="#b07340"/>
<line x1="169.55" y1="234.16" x2="169.55" y2="235.41" stroke="#b07340" stroke-width="0.8" stroke-opacity="0.75"/>
<line x1="168.35" y1="234.16" x2="170.75" y2="234.16" stroke="#b07340" stroke-width="0.8" stroke-opacity="0.75"/>
<line x1="168.35" y1="235.41" x2="170.75" y2="235.41" stroke="#b07340" stroke-width="0.8" stroke-opacity="0.75"/>
<rect x="168.45" y="233.68" width="2.2" height="2.2" fill="#b07340"/>
<line x1="182.70" y1="234.17" x2="182.70" y2="235.42" stroke="#b07340" stroke-width="0.8" stroke-opacity="0.75"/>
<line x1="181.50" y1="234.17" x2="183.90" y2="234.17" stroke="#b07340" stroke-width="0.8" stroke-opacity="0.75"/>
<line x1="181.50" y1="235.42" x2="183.90" y2="235.42" stroke="#b07340" stroke-width="0.8" stroke-opacity="0.75"/>
<rect x="181.60" y="233.70" width="2.2" height="2.2" fill="#b07340"/>
<line x1="64.88" y1="168.55" x2="64.88" y2="176.05" stroke="#c07321" stroke-width="0.8" stroke-opacity="0.75"/>
<line x1="63.68" y1="168.55" x2="66.08" y2="168.55" stroke="#c07321" stroke-width="0.8" stroke-opacity="0.75"/>
<line x1="63.68" y1="176.05" x2="66.08" y2="176.05" stroke="#c07321" stroke-width="0.8" stroke-opacity="0.75"/>
<rect x="63.78" y="171.20" width="2.2" height="2.2" fill="#c07321"/>
<line x1="78.03" y1="168.55" x2="78.03" y2="176.05" stroke="#c07321" stroke-width="0.8" stroke-opacity="0.75"/>
<line x1="76.83" y1="168.55" x2="79.23" y2="168.55" stroke="#c07321" stroke-width="0.8" stroke-opacity="0.75"/>
<line x1="76.83" y1="176.05" x2="79.23" y2="176.05" stroke="#c07321" stroke-width="0.8" stroke-opacity="0.75"/>
<rect x="76.93" y="171.20" width="2.2" height="2.2" fill="#c07321"/>
<line x1="90.91" y1="168.56" x2="90.91" y2="176.06" stroke="#c07321" stroke-width="0.8" stroke-opacity="0.75"/>
<line x1="89.71" y1="168.56" x2="92.11" y2="168.56" stroke="#c07321" stroke-width="0.8" stroke-opacity="0.75"/>
<line x1="89.71" y1="176.06" x2="92.11" y2="176.06" stroke="#c07321" stroke-width="0.8" stroke-opacity="0.75"/>
<rect x="89.81" y="171.21" width="2.2" height="2.2" fill="#c07321"/>
<line x1="104.88" y1="169.31" x2="104.88" y2="175.56" stroke="#c07321" stroke-width="0.8" stroke-opacity="0.75"/>
<line x1="103.68" y1="169.31" x2="106.08" y2="169.31" stroke="#c07321" stroke-width="0.8" stroke-opacity="0.75"/>
<line x1="103.68" y1="175.56" x2="106.08" y2="175.56" stroke="#c07321" stroke-width="0.8" stroke-opacity="0.75"/>
<rect x="103.78" y="171.33" width="2.2" height="2.2" fill="#c07321"/>
<line x1="117.21" y1="170.58" x2="117.21" y2="176.83" stroke="#c07321" stroke-width="0.8" stroke-opacity="0.75"/>
<line x1="116.01" y1="170.58" x2="118.41" y2="170.58" stroke="#c07321" stroke-width="0.8" stroke-opacity="0.75"/>
<line x1="116.01" y1="176.83" x2="118.41" y2="176.83" stroke="#c07321" stroke-width="0.8" stroke-opacity="0.75"/>
<rect x="116.11" y="172.61" width="2.2" height="2.2" fill="#c07321"/>
<line x1="127.90" y1="178.78" x2="127.90" y2="185.03" stroke="#c07321" stroke-width="0.8" stroke-opacity="0.75"/>
<line x1="126.70" y1="178.78" x2="129.10" y2="178.78" stroke="#c07321" stroke-width="0.8" stroke-opacity="0.75"/>
<line x1="126.70" y1="185.03" x2="129.10" y2="185.03" stroke="#c07321" stroke-width="0.8" stroke-opacity="0.75"/>
<rect x="126.80" y="180.80" width="2.2" height="2.2" fill="#c07321"/>
<line x1="142.42" y1="217.32" x2="142.42" y2="221.07" stroke="#c07321" stroke-width="0.8" stroke-opacity="0.75"/>
<line x1="141.22" y1="217.32" x2="143.62" y2="217.32" stroke="#c07321" stroke-width="0.8" stroke-opacity="0.75"/>
<line x1="141.22" y1="221.07" x2="143.62" y2="221.07" stroke="#c07321" stroke-width="0.8" stroke-opacity="0.75"/>
<rect x="141.32" y="218.10" width="2.2" height="2.2" fill="#c07321"/>
<line x1="155.30" y1="232.50" x2="155.30" y2="233.75" stroke="#c07321" stroke-width="0.8" stroke-opacity="0.75"/>
<line x1="154.10" y1="232.50" x2="156.50" y2="232.50" stroke="#c07321" stroke-width="0.8" stroke-opacity="0.75"/>
<line x1="154.10" y1="233.75" x2="156.50" y2="233.75" stroke="#c07321" stroke-width="0.8" stroke-opacity="0.75"/>
<rect x="154.20" y="232.02" width="2.2" height="2.2" fill="#c07321"/>
<line x1="169.55" y1="234.07" x2="169.55" y2="235.32" stroke="#c07321" stroke-width="0.8" stroke-opacity="0.75"/>
<line x1="168.35" y1="234.07" x2="170.75" y2="234.07" stroke="#c07321" stroke-width="0.8" stroke-opacity="0.75"/>
<line x1="168.35" y1="235.32" x2="170.75" y2="235.32" stroke="#c07321" stroke-width="0.8" stroke-opacity="0.75"/>
<rect x="168.45" y="233.59" width="2.2" height="2.2" fill="#c07321"/>
<line x1="182.70" y1="234.17" x2="182.70" y2="235.42" stroke="#c07321" stroke-width="0.8" stroke-opacity="0.75"/>
<line x1="181.50" y1="234.17" x2="183.90" y2="234.17" stroke="#c07321" stroke-width="0.8" stroke-opacity="0.75"/>
<line x1="181.50" y1="235.42" x2="183.90" y2="235.42" stroke="#c07321" stroke-width="0.8" stroke-opacity="0.75"/>
<rect x="181.60" y="233.69" width="2.2" height="2.2" fill="#c07321"/>
<line x1="64.88" y1="176.05" x2="64.88" y2="183.55" stroke="#a05918" stroke-width="0.8" stroke-opacity="0.75"/>
<line x1="63.68" y1="176.05" x2="66.08" y2="176.05" stroke="#a05918" stroke-width="0.8" stroke-opacity="0.75"/>
<line x1="63.68" y1="183.55" x2="66.08" y2="183.55" stroke="#a05918" stroke-width="0.8" stroke-opacity="0.75"/>
<rect x="63.78" y="178.70" width="2.2" height="2.2" fill="#a05918"/>
<line x1="78.03" y1="176.05" x2="78.03" y2="183.55" stroke="#a05918" stroke-width="0.8" stroke-opacity="0.75"/>
<line x1="76.83" y1="176.05" x2="79.23" y2="176.05" stroke="#a05918" stroke-width="0.8" stroke-opacity="0.75"/>
<line x1="76.83" y1="183.55" x2="79.23" y2="183.55" stroke="#a05918" stroke-width="0.8" stroke-opacity="0.75"/>
<rect x="76.93" y="178.70" width="2.2" height="2.2" fill="#a05918"/>
<line x1="90.91" y1="176.05" x2="90.91" y2="183.55" stroke="#a05918" stroke-width="0.8" stroke-opacity="0.75"/>
<line x1="89.71" y1="176.05" x2="92.11" y2="176.05" stroke="#a05918" stroke-width="0.8" stroke-opacity="0.75"/>
<line x1="89.71" y1="183.55" x2="92.11" y2="183.55" stroke="#a05918" stroke-width="0.8" stroke-opacity="0.75"/>
<rect x="89.81" y="178.70" width="2.2" height="2.2" fill="#a05918"/>
<line x1="104.88" y1="176.72" x2="104.88" y2="182.97" stroke="#a05918" stroke-width="0.8" stroke-opacity="0.75"/>
<line x1="103.68" y1="176.72" x2="106.08" y2="176.72" stroke="#a05918" stroke-width="0.8" stroke-opacity="0.75"/>
<line x1="103.68" y1="182.97" x2="106.08" y2="182.97" stroke="#a05918" stroke-width="0.8" stroke-opacity="0.75"/>
<rect x="103.78" y="178.74" width="2.2" height="2.2" fill="#a05918"/>
<line x1="117.21" y1="177.62" x2="117.21" y2="183.87" stroke="#a05918" stroke-width="0.8" stroke-opacity="0.75"/>
<line x1="116.01" y1="177.62" x2="118.41" y2="177.62" stroke="#a05918" stroke-width="0.8" stroke-opacity="0.75"/>
<line x1="116.01" y1="183.87" x2="118.41" y2="183.87" stroke="#a05918" stroke-width="0.8" stroke-opacity="0.75"/>
<rect x="116.11" y="179.64" width="2.2" height="2.2" fill="#a05918"/>
<line x1="127.90" y1="187.97" x2="127.90" y2="194.22" stroke="#a05918" stroke-width="0.8" stroke-opacity="0.75"/>
<line x1="126.70" y1="187.97" x2="129.10" y2="187.97" stroke="#a05918" stroke-width="0.8" stroke-opacity="0.75"/>
<line x1="126.70" y1="194.22" x2="129.10" y2="194.22" stroke="#a05918" stroke-width="0.8" stroke-opacity="0.75"/>
<rect x="126.80" y="189.99" width="2.2" height="2.2" fill="#a05918"/>
<line x1="142.42" y1="227.95" x2="142.42" y2="231.70" stroke="#a05918" stroke-width="0.8" stroke-opacity="0.75"/>
<line x1="141.22" y1="227.95" x2="143.62" y2="227.95" stroke="#a05918" stroke-width="0.8" stroke-opacity="0.75"/>
<line x1="141.22" y1="231.70" x2="143.62" y2="231.70" stroke="#a05918" stroke-width="0.8" stroke-opacity="0.75"/>
<rect x="141.32" y="228.72" width="2.2" height="2.2" fill="#a05918"/>
<line x1="155.30" y1="233.96" x2="155.30" y2="235.21" stroke="#a05918" stroke-width="0.8" stroke-opacity="0.75"/>
<line x1="154.10" y1="233.96" x2="156.50" y2="233.96" stroke="#a05918" stroke-width="0.8" stroke-opacity="0.75"/>
<line x1="154.10" y1="235.21" x2="156.50" y2="235.21" stroke="#a05918" stroke-width="0.8" stroke-opacity="0.75"/>
<rect x="154.20" y="233.49" width="2.2" height="2.2" fill="#a05918"/>
<line x1="169.55" y1="234.17" x2="169.55" y2="235.42" stroke="#a05918" stroke-width="0.8" stroke-opacity="0.75"/>
<line x1="168.35" y1="234.17" x2="170.75" y2="234.17" stroke="#a05918" stroke-width="0.8" stroke-opacity="0.75"/>
<line x1="168.35" y1="235.42" x2="170.75" y2="235.42" stroke="#a05918" stroke-width="0.8" stroke-opacity="0.75"/>
<rect x="168.45" y="233.69" width="2.2" height="2.2" fill="#a05918"/>
<line x1="182.70" y1="234.17" x2="182.70" y2="235.42" stroke="#a05918" stroke-width="0.8" stroke-opacity="0.75"/>
<line x1="181.50" y1="234.17" x2="183.90" y2="234.17" stroke="#a05918" stroke-width="0.8" stroke-opacity="0.75"/>
<line x1="181.50" y1="235.42" x2="183.90" y2="235.42" stroke="#a05918" stroke-width="0.8" stroke-opacity="0.75"/>
<rect x="181.60" y="233.70" width="2.2" height="2.2" fill="#a05918"/>
<line x1="65.00" y1="156.60" x2="65.00" y2="235.40" stroke="#3a3a3a" stroke-width="1.3" />
<line x1="64.40" y1="234.80" x2="185.00" y2="234.80" stroke="#3a3a3a" stroke-width="1.3" />
<line x1="62.60" y1="234.80" x2="65.00" y2="234.80" stroke="#3a3a3a" stroke-width="1" />
<text x="59.50" y="237.60" font-size="7.9" text-anchor="end" font-weight="normal" fill="#231f20" stroke="#231f20" stroke-width="0.22" >0</text>
<line x1="62.60" y1="219.18" x2="65.00" y2="219.18" stroke="#3a3a3a" stroke-width="1" />
<text x="59.50" y="221.98" font-size="7.9" text-anchor="end" font-weight="normal" fill="#231f20" stroke="#231f20" stroke-width="0.22" >25</text>
<line x1="62.60" y1="203.55" x2="65.00" y2="203.55" stroke="#3a3a3a" stroke-width="1" />
<text x="59.50" y="206.35" font-size="7.9" text-anchor="end" font-weight="normal" fill="#231f20" stroke="#231f20" stroke-width="0.22" >50</text>
<line x1="62.60" y1="187.93" x2="65.00" y2="187.93" stroke="#3a3a3a" stroke-width="1" />
<text x="59.50" y="190.73" font-size="7.9" text-anchor="end" font-weight="normal" fill="#231f20" stroke="#231f20" stroke-width="0.22" >75</text>
<line x1="62.60" y1="172.30" x2="65.00" y2="172.30" stroke="#3a3a3a" stroke-width="1" />
<text x="59.50" y="175.10" font-size="7.9" text-anchor="end" font-weight="normal" fill="#231f20" stroke="#231f20" stroke-width="0.22" >100</text>
<line x1="73.10" y1="234.80" x2="73.10" y2="237.20" stroke="#3a3a3a" stroke-width="1" />
<text x="73.10" y="247.00" font-size="7.7" text-anchor="middle" font-weight="normal" fill="#231f20" stroke="#231f20" stroke-width="0.22" >0.001</text>
<line x1="100.50" y1="234.80" x2="100.50" y2="237.20" stroke="#3a3a3a" stroke-width="1" />
<text x="100.50" y="247.00" font-size="7.7" text-anchor="middle" font-weight="normal" fill="#231f20" stroke="#231f20" stroke-width="0.22" >0.01</text>
<line x1="127.90" y1="234.80" x2="127.90" y2="237.20" stroke="#3a3a3a" stroke-width="1" />
<text x="127.90" y="247.00" font-size="7.7" text-anchor="middle" font-weight="normal" fill="#231f20" stroke="#231f20" stroke-width="0.22" >0.1</text>
<line x1="155.30" y1="234.80" x2="155.30" y2="237.20" stroke="#3a3a3a" stroke-width="1" />
<text x="155.30" y="247.00" font-size="7.7" text-anchor="middle" font-weight="normal" fill="#231f20" stroke="#231f20" stroke-width="0.22" >1</text>
<line x1="182.70" y1="234.80" x2="182.70" y2="237.20" stroke="#3a3a3a" stroke-width="1" />
<text x="182.70" y="247.00" font-size="7.7" text-anchor="middle" font-weight="normal" fill="#231f20" stroke="#231f20" stroke-width="0.22" >10</text>
<g transform="translate(124.80,261.30) rotate(0) scale(0.655,1)"><text x="0.25" y="0" font-size="9.2" text-anchor="middle" fill="#231f20" stroke="#231f20" stroke-width="0.3" letter-spacing="0.5">Navitoclax (μM)</text></g>
<path d="M220.35,173.06 L221.34,173.07 L222.32,173.08 L223.31,173.10 L224.29,173.11 L225.28,173.13 L226.26,173.15 L227.25,173.17 L228.23,173.20 L229.22,173.22 L230.20,173.25 L231.19,173.28 L232.17,173.32 L233.16,173.35 L234.15,173.39 L235.13,173.44 L236.12,173.48 L237.10,173.54 L238.09,173.59 L239.07,173.66 L240.06,173.73 L241.04,173.80 L242.03,173.88 L243.01,173.97 L244.00,174.07 L244.99,174.17 L245.97,174.29 L246.96,174.42 L247.94,174.55 L248.93,174.70 L249.91,174.87 L250.90,175.04 L251.88,175.23 L252.87,175.44 L253.85,175.67 L254.84,175.92 L255.82,176.18 L256.81,176.47 L257.80,176.79 L258.78,177.12 L259.77,177.49 L260.75,177.88 L261.74,178.31 L262.72,178.76 L263.71,179.25 L264.69,179.78 L265.68,180.34 L266.66,180.94 L267.65,181.58 L268.64,182.26 L269.62,182.98 L270.61,183.74 L271.59,184.54 L272.58,185.39 L273.56,186.28 L274.55,187.21 L275.53,188.19 L276.52,189.20 L277.50,190.25 L278.49,191.33 L279.48,192.44 L280.46,193.58 L281.45,194.75 L282.43,195.93 L283.42,197.14 L284.40,198.35 L285.39,199.57 L286.37,200.78 L287.36,202.00 L288.34,203.21 L289.33,204.40 L290.31,205.57 L291.30,206.72 L292.29,207.85 L293.27,208.94 L294.26,210.00 L295.24,211.03 L296.23,212.02 L297.21,212.96 L298.20,213.87 L299.18,214.73 L300.17,215.56 L301.15,216.34 L302.14,217.07 L303.12,217.77 L304.11,218.42 L305.10,219.04 L306.08,219.61 L307.07,220.15 L308.05,220.65 L309.04,221.12 L310.02,221.56 L311.01,221.96 L311.99,222.34 L312.98,222.69 L313.96,223.01 L314.95,223.31 L315.94,223.58 L316.92,223.84 L317.91,224.07 L318.89,224.29 L319.88,224.49 L320.86,224.67 L321.85,224.84 L322.83,224.99 L323.82,225.13 L324.80,225.26 L325.79,225.38 L326.77,225.49 L327.76,225.59 L328.75,225.69 L329.73,225.77 L330.72,225.85 L331.70,225.92 L332.69,225.98 L333.67,226.04 L334.66,226.10 L335.64,226.15 L336.63,226.19 L337.61,226.23 L338.60,226.27" stroke="#9a8ec6" stroke-width="1.15" fill="none" />
<path d="M220.35,171.68 L221.34,171.68 L222.32,171.68 L223.31,171.68 L224.29,171.68 L225.28,171.68 L226.26,171.68 L227.25,171.68 L228.23,171.68 L229.22,171.68 L230.20,171.68 L231.19,171.68 L232.17,171.68 L233.16,171.68 L234.15,171.68 L235.13,171.68 L236.12,171.68 L237.10,171.68 L238.09,171.68 L239.07,171.68 L240.06,171.68 L241.04,171.68 L242.03,171.68 L243.01,171.68 L244.00,171.68 L244.99,171.68 L245.97,171.68 L246.96,171.68 L247.94,171.68 L248.93,171.68 L249.91,171.68 L250.90,171.68 L251.88,171.68 L252.87,171.68 L253.85,171.68 L254.84,171.68 L255.82,171.68 L256.81,171.68 L257.80,171.68 L258.78,171.68 L259.77,171.68 L260.75,171.68 L261.74,171.68 L262.72,171.68 L263.71,171.68 L264.69,171.68 L265.68,171.68 L266.66,171.68 L267.65,171.68 L268.64,171.68 L269.62,171.68 L270.61,171.68 L271.59,171.69 L272.58,171.69 L273.56,171.69 L274.55,171.70 L275.53,171.71 L276.52,171.72 L277.50,171.73 L278.49,171.75 L279.48,171.77 L280.46,171.80 L281.45,171.84 L282.43,171.89 L283.42,171.96 L284.40,172.04 L285.39,172.16 L286.37,172.31 L287.36,172.50 L288.34,172.76 L289.33,173.09 L290.31,173.52 L291.30,174.08 L292.29,174.79 L293.27,175.71 L294.26,176.86 L295.24,178.32 L296.23,180.12 L297.21,182.32 L298.20,184.95 L299.18,188.02 L300.17,191.53 L301.15,195.41 L302.14,199.56 L303.12,203.84 L304.11,208.09 L305.10,212.18 L306.08,215.96 L307.07,219.35 L308.05,222.31 L309.04,224.81 L310.02,226.90 L311.01,228.59 L311.99,229.96 L312.98,231.05 L313.96,231.90 L314.95,232.57 L315.94,233.08 L316.92,233.48 L317.91,233.79 L318.89,234.03 L319.88,234.21 L320.86,234.35 L321.85,234.46 L322.83,234.54 L323.82,234.60 L324.80,234.65 L325.79,234.68 L326.77,234.71 L327.76,234.73 L328.75,234.75 L329.73,234.76 L330.72,234.77 L331.70,234.78 L332.69,234.78 L333.67,234.79 L334.66,234.79 L335.64,234.79 L336.63,234.79 L337.61,234.80 L338.60,234.80" stroke="#df2a7c" stroke-width="1.2" fill="none" />
<path d="M220.35,169.80 L221.34,169.80 L222.32,169.80 L223.31,169.81 L224.29,169.81 L225.28,169.81 L226.26,169.81 L227.25,169.81 L228.23,169.81 L229.22,169.81 L230.20,169.82 L231.19,169.82 L232.17,169.82 L233.16,169.83 L234.15,169.83 L235.13,169.83 L236.12,169.84 L237.10,169.85 L238.09,169.85 L239.07,169.86 L240.06,169.87 L241.04,169.89 L242.03,169.90 L243.01,169.92 L244.00,169.94 L244.99,169.96 L245.97,169.98 L246.96,170.01 L247.94,170.05 L248.93,170.09 L249.91,170.14 L250.90,170.19 L251.88,170.26 L252.87,170.33 L253.85,170.42 L254.84,170.52 L255.82,170.63 L256.81,170.77 L257.80,170.92 L258.78,171.10 L259.77,171.31 L260.75,171.55 L261.74,171.83 L262.72,172.15 L263.71,172.52 L264.69,172.95 L265.68,173.44 L266.66,173.99 L267.65,174.63 L268.64,175.35 L269.62,176.18 L270.61,177.10 L271.59,178.15 L272.58,179.31 L273.56,180.61 L274.55,182.05 L275.53,183.63 L276.52,185.36 L277.50,187.23 L278.49,189.23 L279.48,191.36 L280.46,193.60 L281.45,195.93 L282.43,198.34 L283.42,200.78 L284.40,203.25 L285.39,205.71 L286.37,208.12 L287.36,210.47 L288.34,212.74 L289.33,214.89 L290.31,216.92 L291.30,218.82 L292.29,220.58 L293.27,222.20 L294.26,223.67 L295.24,225.00 L296.23,226.20 L297.21,227.27 L298.20,228.22 L299.18,229.07 L300.17,229.81 L301.15,230.47 L302.14,231.04 L303.12,231.55 L304.11,231.98 L305.10,232.37 L306.08,232.70 L307.07,232.99 L308.05,233.23 L309.04,233.45 L310.02,233.64 L311.01,233.80 L311.99,233.94 L312.98,234.06 L313.96,234.16 L314.95,234.25 L315.94,234.33 L316.92,234.39 L317.91,234.45 L318.89,234.50 L319.88,234.54 L320.86,234.58 L321.85,234.61 L322.83,234.64 L323.82,234.66 L324.80,234.68 L325.79,234.70 L326.77,234.71 L327.76,234.72 L328.75,234.73 L329.73,234.74 L330.72,234.75 L331.70,234.76 L332.69,234.76 L333.67,234.77 L334.66,234.77 L335.64,234.78 L336.63,234.78 L337.61,234.78 L338.60,234.79" stroke="#3f1a5c" stroke-width="1.15" fill="none" />
<line x1="220.35" y1="169.31" x2="220.35" y2="176.81" stroke="#7b719e" stroke-width="0.8" stroke-opacity="0.75"/>
<line x1="219.15" y1="169.31" x2="221.55" y2="169.31" stroke="#7b719e" stroke-width="0.8" stroke-opacity="0.75"/>
<line x1="219.15" y1="176.81" x2="221.55" y2="176.81" stroke="#7b719e" stroke-width="0.8" stroke-opacity="0.75"/>
<rect x="219.25" y="171.96" width="2.2" height="2.2" fill="#7b719e"/>
<line x1="233.55" y1="169.62" x2="233.55" y2="177.12" stroke="#7b719e" stroke-width="0.8" stroke-opacity="0.75"/>
<line x1="232.35" y1="169.62" x2="234.75" y2="169.62" stroke="#7b719e" stroke-width="0.8" stroke-opacity="0.75"/>
<line x1="232.35" y1="177.12" x2="234.75" y2="177.12" stroke="#7b719e" stroke-width="0.8" stroke-opacity="0.75"/>
<rect x="232.45" y="172.27" width="2.2" height="2.2" fill="#7b719e"/>
<line x1="246.47" y1="171.23" x2="246.47" y2="177.48" stroke="#7b719e" stroke-width="0.8" stroke-opacity="0.75"/>
<line x1="245.28" y1="171.23" x2="247.67" y2="171.23" stroke="#7b719e" stroke-width="0.8" stroke-opacity="0.75"/>
<line x1="245.28" y1="177.48" x2="247.67" y2="177.48" stroke="#7b719e" stroke-width="0.8" stroke-opacity="0.75"/>
<rect x="245.38" y="173.25" width="2.2" height="2.2" fill="#7b719e"/>
<line x1="260.50" y1="174.66" x2="260.50" y2="180.91" stroke="#7b719e" stroke-width="0.8" stroke-opacity="0.75"/>
<line x1="259.30" y1="174.66" x2="261.70" y2="174.66" stroke="#7b719e" stroke-width="0.8" stroke-opacity="0.75"/>
<line x1="259.30" y1="180.91" x2="261.70" y2="180.91" stroke="#7b719e" stroke-width="0.8" stroke-opacity="0.75"/>
<rect x="259.40" y="176.68" width="2.2" height="2.2" fill="#7b719e"/>
<line x1="272.88" y1="183.16" x2="272.88" y2="188.16" stroke="#7b719e" stroke-width="0.8" stroke-opacity="0.75"/>
<line x1="271.68" y1="183.16" x2="274.07" y2="183.16" stroke="#7b719e" stroke-width="0.8" stroke-opacity="0.75"/>
<line x1="271.68" y1="188.16" x2="274.07" y2="188.16" stroke="#7b719e" stroke-width="0.8" stroke-opacity="0.75"/>
<rect x="271.77" y="184.56" width="2.2" height="2.2" fill="#7b719e"/>
<line x1="283.60" y1="194.86" x2="283.60" y2="199.86" stroke="#7b719e" stroke-width="0.8" stroke-opacity="0.75"/>
<line x1="282.40" y1="194.86" x2="284.80" y2="194.86" stroke="#7b719e" stroke-width="0.8" stroke-opacity="0.75"/>
<line x1="282.40" y1="199.86" x2="284.80" y2="199.86" stroke="#7b719e" stroke-width="0.8" stroke-opacity="0.75"/>
<rect x="282.50" y="196.26" width="2.2" height="2.2" fill="#7b719e"/>
<line x1="298.18" y1="211.97" x2="298.18" y2="215.72" stroke="#7b719e" stroke-width="0.8" stroke-opacity="0.75"/>
<line x1="296.98" y1="211.97" x2="299.38" y2="211.97" stroke="#7b719e" stroke-width="0.8" stroke-opacity="0.75"/>
<line x1="296.98" y1="215.72" x2="299.38" y2="215.72" stroke="#7b719e" stroke-width="0.8" stroke-opacity="0.75"/>
<rect x="297.07" y="212.75" width="2.2" height="2.2" fill="#7b719e"/>
<line x1="311.10" y1="220.75" x2="311.10" y2="223.25" stroke="#7b719e" stroke-width="0.8" stroke-opacity="0.75"/>
<line x1="309.90" y1="220.75" x2="312.30" y2="220.75" stroke="#7b719e" stroke-width="0.8" stroke-opacity="0.75"/>
<line x1="309.90" y1="223.25" x2="312.30" y2="223.25" stroke="#7b719e" stroke-width="0.8" stroke-opacity="0.75"/>
<rect x="310.00" y="220.90" width="2.2" height="2.2" fill="#7b719e"/>
<line x1="325.40" y1="224.09" x2="325.40" y2="226.59" stroke="#7b719e" stroke-width="0.8" stroke-opacity="0.75"/>
<line x1="324.20" y1="224.09" x2="326.60" y2="224.09" stroke="#7b719e" stroke-width="0.8" stroke-opacity="0.75"/>
<line x1="324.20" y1="226.59" x2="326.60" y2="226.59" stroke="#7b719e" stroke-width="0.8" stroke-opacity="0.75"/>
<rect x="324.30" y="224.24" width="2.2" height="2.2" fill="#7b719e"/>
<line x1="338.60" y1="225.02" x2="338.60" y2="227.52" stroke="#7b719e" stroke-width="0.8" stroke-opacity="0.75"/>
<line x1="337.40" y1="225.02" x2="339.80" y2="225.02" stroke="#7b719e" stroke-width="0.8" stroke-opacity="0.75"/>
<line x1="337.40" y1="227.52" x2="339.80" y2="227.52" stroke="#7b719e" stroke-width="0.8" stroke-opacity="0.75"/>
<rect x="337.50" y="225.17" width="2.2" height="2.2" fill="#7b719e"/>
<line x1="220.35" y1="168.55" x2="220.35" y2="174.80" stroke="#b22163" stroke-width="0.8" stroke-opacity="0.75"/>
<line x1="219.15" y1="168.55" x2="221.55" y2="168.55" stroke="#b22163" stroke-width="0.8" stroke-opacity="0.75"/>
<line x1="219.15" y1="174.80" x2="221.55" y2="174.80" stroke="#b22163" stroke-width="0.8" stroke-opacity="0.75"/>
<rect x="219.25" y="170.58" width="2.2" height="2.2" fill="#b22163"/>
<line x1="233.55" y1="168.55" x2="233.55" y2="174.80" stroke="#b22163" stroke-width="0.8" stroke-opacity="0.75"/>
<line x1="232.35" y1="168.55" x2="234.75" y2="168.55" stroke="#b22163" stroke-width="0.8" stroke-opacity="0.75"/>
<line x1="232.35" y1="174.80" x2="234.75" y2="174.80" stroke="#b22163" stroke-width="0.8" stroke-opacity="0.75"/>
<rect x="232.45" y="170.58" width="2.2" height="2.2" fill="#b22163"/>
<line x1="246.47" y1="168.55" x2="246.47" y2="174.80" stroke="#b22163" stroke-width="0.8" stroke-opacity="0.75"/>
<line x1="245.28" y1="168.55" x2="247.67" y2="168.55" stroke="#b22163" stroke-width="0.8" stroke-opacity="0.75"/>
<line x1="245.28" y1="174.80" x2="247.67" y2="174.80" stroke="#b22163" stroke-width="0.8" stroke-opacity="0.75"/>
<rect x="245.38" y="170.58" width="2.2" height="2.2" fill="#b22163"/>
<line x1="260.50" y1="168.55" x2="260.50" y2="174.80" stroke="#b22163" stroke-width="0.8" stroke-opacity="0.75"/>
<line x1="259.30" y1="168.55" x2="261.70" y2="168.55" stroke="#b22163" stroke-width="0.8" stroke-opacity="0.75"/>
<line x1="259.30" y1="174.80" x2="261.70" y2="174.80" stroke="#b22163" stroke-width="0.8" stroke-opacity="0.75"/>
<rect x="259.40" y="170.58" width="2.2" height="2.2" fill="#b22163"/>
<line x1="272.88" y1="168.57" x2="272.88" y2="174.82" stroke="#b22163" stroke-width="0.8" stroke-opacity="0.75"/>
<line x1="271.68" y1="168.57" x2="274.07" y2="168.57" stroke="#b22163" stroke-width="0.8" stroke-opacity="0.75"/>
<line x1="271.68" y1="174.82" x2="274.07" y2="174.82" stroke="#b22163" stroke-width="0.8" stroke-opacity="0.75"/>
<rect x="271.77" y="170.59" width="2.2" height="2.2" fill="#b22163"/>
<line x1="283.60" y1="169.47" x2="283.60" y2="174.47" stroke="#b22163" stroke-width="0.8" stroke-opacity="0.75"/>
<line x1="282.40" y1="169.47" x2="284.80" y2="169.47" stroke="#b22163" stroke-width="0.8" stroke-opacity="0.75"/>
<line x1="282.40" y1="174.47" x2="284.80" y2="174.47" stroke="#b22163" stroke-width="0.8" stroke-opacity="0.75"/>
<rect x="282.50" y="170.87" width="2.2" height="2.2" fill="#b22163"/>
<line x1="298.18" y1="181.76" x2="298.18" y2="188.01" stroke="#b22163" stroke-width="0.8" stroke-opacity="0.75"/>
<line x1="296.98" y1="181.76" x2="299.38" y2="181.76" stroke="#b22163" stroke-width="0.8" stroke-opacity="0.75"/>
<line x1="296.98" y1="188.01" x2="299.38" y2="188.01" stroke="#b22163" stroke-width="0.8" stroke-opacity="0.75"/>
<rect x="297.07" y="183.78" width="2.2" height="2.2" fill="#b22163"/>
<line x1="311.10" y1="227.48" x2="311.10" y2="229.98" stroke="#b22163" stroke-width="0.8" stroke-opacity="0.75"/>
<line x1="309.90" y1="227.48" x2="312.30" y2="227.48" stroke="#b22163" stroke-width="0.8" stroke-opacity="0.75"/>
<line x1="309.90" y1="229.98" x2="312.30" y2="229.98" stroke="#b22163" stroke-width="0.8" stroke-opacity="0.75"/>
<rect x="310.00" y="227.63" width="2.2" height="2.2" fill="#b22163"/>
<line x1="325.40" y1="234.05" x2="325.40" y2="235.30" stroke="#b22163" stroke-width="0.8" stroke-opacity="0.75"/>
<line x1="324.20" y1="234.05" x2="326.60" y2="234.05" stroke="#b22163" stroke-width="0.8" stroke-opacity="0.75"/>
<line x1="324.20" y1="235.30" x2="326.60" y2="235.30" stroke="#b22163" stroke-width="0.8" stroke-opacity="0.75"/>
<rect x="324.30" y="233.57" width="2.2" height="2.2" fill="#b22163"/>
<line x1="338.60" y1="234.17" x2="338.60" y2="235.42" stroke="#b22163" stroke-width="0.8" stroke-opacity="0.75"/>
<line x1="337.40" y1="234.17" x2="339.80" y2="234.17" stroke="#b22163" stroke-width="0.8" stroke-opacity="0.75"/>
<line x1="337.40" y1="235.42" x2="339.80" y2="235.42" stroke="#b22163" stroke-width="0.8" stroke-opacity="0.75"/>
<rect x="337.50" y="233.70" width="2.2" height="2.2" fill="#b22163"/>
<line x1="220.35" y1="166.05" x2="220.35" y2="173.55" stroke="#321449" stroke-width="0.8" stroke-opacity="0.75"/>
<line x1="219.15" y1="166.05" x2="221.55" y2="166.05" stroke="#321449" stroke-width="0.8" stroke-opacity="0.75"/>
<line x1="219.15" y1="173.55" x2="221.55" y2="173.55" stroke="#321449" stroke-width="0.8" stroke-opacity="0.75"/>
<rect x="219.25" y="168.70" width="2.2" height="2.2" fill="#321449"/>
<line x1="233.55" y1="164.83" x2="233.55" y2="174.83" stroke="#321449" stroke-width="0.8" stroke-opacity="0.75"/>
<line x1="232.35" y1="164.83" x2="234.75" y2="164.83" stroke="#321449" stroke-width="0.8" stroke-opacity="0.75"/>
<line x1="232.35" y1="174.83" x2="234.75" y2="174.83" stroke="#321449" stroke-width="0.8" stroke-opacity="0.75"/>
<rect x="232.45" y="168.73" width="2.2" height="2.2" fill="#321449"/>
<line x1="246.47" y1="165.00" x2="246.47" y2="175.00" stroke="#321449" stroke-width="0.8" stroke-opacity="0.75"/>
<line x1="245.28" y1="165.00" x2="247.67" y2="165.00" stroke="#321449" stroke-width="0.8" stroke-opacity="0.75"/>
<line x1="245.28" y1="175.00" x2="247.67" y2="175.00" stroke="#321449" stroke-width="0.8" stroke-opacity="0.75"/>
<rect x="245.38" y="168.90" width="2.2" height="2.2" fill="#321449"/>
<line x1="260.50" y1="168.36" x2="260.50" y2="174.61" stroke="#321449" stroke-width="0.8" stroke-opacity="0.75"/>
<line x1="259.30" y1="168.36" x2="261.70" y2="168.36" stroke="#321449" stroke-width="0.8" stroke-opacity="0.75"/>
<line x1="259.30" y1="174.61" x2="261.70" y2="174.61" stroke="#321449" stroke-width="0.8" stroke-opacity="0.75"/>
<rect x="259.40" y="170.39" width="2.2" height="2.2" fill="#321449"/>
<line x1="272.88" y1="176.57" x2="272.88" y2="182.82" stroke="#321449" stroke-width="0.8" stroke-opacity="0.75"/>
<line x1="271.68" y1="176.57" x2="274.07" y2="176.57" stroke="#321449" stroke-width="0.8" stroke-opacity="0.75"/>
<line x1="271.68" y1="182.82" x2="274.07" y2="182.82" stroke="#321449" stroke-width="0.8" stroke-opacity="0.75"/>
<rect x="271.77" y="178.59" width="2.2" height="2.2" fill="#321449"/>
<line x1="283.60" y1="198.74" x2="283.60" y2="203.74" stroke="#321449" stroke-width="0.8" stroke-opacity="0.75"/>
<line x1="282.40" y1="198.74" x2="284.80" y2="198.74" stroke="#321449" stroke-width="0.8" stroke-opacity="0.75"/>
<line x1="282.40" y1="203.74" x2="284.80" y2="203.74" stroke="#321449" stroke-width="0.8" stroke-opacity="0.75"/>
<rect x="282.50" y="200.14" width="2.2" height="2.2" fill="#321449"/>
<line x1="298.18" y1="226.33" x2="298.18" y2="230.08" stroke="#321449" stroke-width="0.8" stroke-opacity="0.75"/>
<line x1="296.98" y1="226.33" x2="299.38" y2="226.33" stroke="#321449" stroke-width="0.8" stroke-opacity="0.75"/>
<line x1="296.98" y1="230.08" x2="299.38" y2="230.08" stroke="#321449" stroke-width="0.8" stroke-opacity="0.75"/>
<rect x="297.07" y="227.10" width="2.2" height="2.2" fill="#321449"/>
<line x1="311.10" y1="233.19" x2="311.10" y2="234.44" stroke="#321449" stroke-width="0.8" stroke-opacity="0.75"/>
<line x1="309.90" y1="233.19" x2="312.30" y2="233.19" stroke="#321449" stroke-width="0.8" stroke-opacity="0.75"/>
<line x1="309.90" y1="234.44" x2="312.30" y2="234.44" stroke="#321449" stroke-width="0.8" stroke-opacity="0.75"/>
<rect x="310.00" y="232.71" width="2.2" height="2.2" fill="#321449"/>
<line x1="325.40" y1="234.06" x2="325.40" y2="235.31" stroke="#321449" stroke-width="0.8" stroke-opacity="0.75"/>
<line x1="324.20" y1="234.06" x2="326.60" y2="234.06" stroke="#321449" stroke-width="0.8" stroke-opacity="0.75"/>
<line x1="324.20" y1="235.31" x2="326.60" y2="235.31" stroke="#321449" stroke-width="0.8" stroke-opacity="0.75"/>
<rect x="324.30" y="233.59" width="2.2" height="2.2" fill="#321449"/>
<line x1="338.60" y1="234.16" x2="338.60" y2="235.41" stroke="#321449" stroke-width="0.8" stroke-opacity="0.75"/>
<line x1="337.40" y1="234.16" x2="339.80" y2="234.16" stroke="#321449" stroke-width="0.8" stroke-opacity="0.75"/>
<line x1="337.40" y1="235.41" x2="339.80" y2="235.41" stroke="#321449" stroke-width="0.8" stroke-opacity="0.75"/>
<rect x="337.50" y="233.69" width="2.2" height="2.2" fill="#321449"/>
<line x1="221.00" y1="156.60" x2="221.00" y2="235.40" stroke="#3a3a3a" stroke-width="1.3" />
<line x1="220.40" y1="234.80" x2="341.00" y2="234.80" stroke="#3a3a3a" stroke-width="1.3" />
<line x1="218.60" y1="234.80" x2="221.00" y2="234.80" stroke="#3a3a3a" stroke-width="1" />
<text x="215.50" y="237.60" font-size="7.9" text-anchor="end" font-weight="normal" fill="#231f20" stroke="#231f20" stroke-width="0.22" >0</text>
<line x1="218.60" y1="219.18" x2="221.00" y2="219.18" stroke="#3a3a3a" stroke-width="1" />
<text x="215.50" y="221.98" font-size="7.9" text-anchor="end" font-weight="normal" fill="#231f20" stroke="#231f20" stroke-width="0.22" >25</text>
<line x1="218.60" y1="203.55" x2="221.00" y2="203.55" stroke="#3a3a3a" stroke-width="1" />
<text x="215.50" y="206.35" font-size="7.9" text-anchor="end" font-weight="normal" fill="#231f20" stroke="#231f20" stroke-width="0.22" >50</text>
<line x1="218.60" y1="187.93" x2="221.00" y2="187.93" stroke="#3a3a3a" stroke-width="1" />
<text x="215.50" y="190.73" font-size="7.9" text-anchor="end" font-weight="normal" fill="#231f20" stroke="#231f20" stroke-width="0.22" >75</text>
<line x1="218.60" y1="172.30" x2="221.00" y2="172.30" stroke="#3a3a3a" stroke-width="1" />
<text x="215.50" y="175.10" font-size="7.9" text-anchor="end" font-weight="normal" fill="#231f20" stroke="#231f20" stroke-width="0.22" >100</text>
<line x1="228.60" y1="234.80" x2="228.60" y2="237.20" stroke="#3a3a3a" stroke-width="1" />
<text x="228.60" y="247.00" font-size="7.7" text-anchor="middle" font-weight="normal" fill="#231f20" stroke="#231f20" stroke-width="0.22" >0.001</text>
<line x1="256.10" y1="234.80" x2="256.10" y2="237.20" stroke="#3a3a3a" stroke-width="1" />
<text x="256.10" y="247.00" font-size="7.7" text-anchor="middle" font-weight="normal" fill="#231f20" stroke="#231f20" stroke-width="0.22" >0.01</text>
<line x1="283.60" y1="234.80" x2="283.60" y2="237.20" stroke="#3a3a3a" stroke-width="1" />
<text x="283.60" y="247.00" font-size="7.7" text-anchor="middle" font-weight="normal" fill="#231f20" stroke="#231f20" stroke-width="0.22" >0.1</text>
<line x1="311.10" y1="234.80" x2="311.10" y2="237.20" stroke="#3a3a3a" stroke-width="1" />
<text x="311.10" y="247.00" font-size="7.7" text-anchor="middle" font-weight="normal" fill="#231f20" stroke="#231f20" stroke-width="0.22" >1</text>
<line x1="338.60" y1="234.80" x2="338.60" y2="237.20" stroke="#3a3a3a" stroke-width="1" />
<text x="338.60" y="247.00" font-size="7.7" text-anchor="middle" font-weight="normal" fill="#231f20" stroke="#231f20" stroke-width="0.22" >10</text>
<g transform="translate(280.80,261.30) rotate(0) scale(0.655,1)"><text x="0.25" y="0" font-size="9.2" text-anchor="middle" fill="#231f20" stroke="#231f20" stroke-width="0.3" letter-spacing="0.5">Navitoclax (μM)</text></g>
<path d="M377.41,175.39 L378.39,175.42 L379.37,175.44 L380.34,175.47 L381.32,175.51 L382.30,175.54 L383.28,175.57 L384.26,175.61 L385.24,175.64 L386.21,175.68 L387.19,175.72 L388.17,175.77 L389.15,175.81 L390.13,175.86 L391.11,175.90 L392.08,175.95 L393.06,176.01 L394.04,176.06 L395.02,176.12 L396.00,176.18 L396.98,176.24 L397.95,176.31 L398.93,176.37 L399.91,176.44 L400.89,176.52 L401.87,176.60 L402.84,176.68 L403.82,176.76 L404.80,176.85 L405.78,176.94 L406.76,177.04 L407.74,177.14 L408.71,177.24 L409.69,177.35 L410.67,177.46 L411.65,177.58 L412.63,177.70 L413.61,177.83 L414.58,177.96 L415.56,178.10 L416.54,178.25 L417.52,178.40 L418.50,178.55 L419.47,178.72 L420.45,178.89 L421.43,179.06 L422.41,179.25 L423.39,179.44 L424.37,179.63 L425.34,179.84 L426.32,180.05 L427.30,180.28 L428.28,180.51 L429.26,180.74 L430.24,180.99 L431.21,181.25 L432.19,181.51 L433.17,181.79 L434.15,182.07 L435.13,182.37 L436.11,182.67 L437.08,182.99 L438.06,183.32 L439.04,183.65 L440.02,184.00 L441.00,184.36 L441.97,184.73 L442.95,185.11 L443.93,185.51 L444.91,185.91 L445.89,186.33 L446.87,186.76 L447.84,187.20 L448.82,187.65 L449.80,188.11 L450.78,188.59 L451.76,189.08 L452.74,189.58 L453.71,190.09 L454.69,190.61 L455.67,191.14 L456.65,191.69 L457.63,192.25 L458.60,192.81 L459.58,193.39 L460.56,193.98 L461.54,194.57 L462.52,195.18 L463.50,195.80 L464.47,196.42 L465.45,197.05 L466.43,197.69 L467.41,198.33 L468.39,198.99 L469.37,199.64 L470.34,200.31 L471.32,200.98 L472.30,201.65 L473.28,202.32 L474.26,203.00 L475.24,203.68 L476.21,204.36 L477.19,205.04 L478.17,205.72 L479.15,206.40 L480.13,207.08 L481.10,207.75 L482.08,208.42 L483.06,209.09 L484.04,209.76 L485.02,210.42 L486.00,211.07 L486.97,211.72 L487.95,212.36 L488.93,212.99 L489.91,213.62 L490.89,214.24 L491.87,214.85 L492.84,215.45 L493.82,216.04 L494.80,216.62" stroke="#c4c4a0" stroke-width="1.15" fill="none" />
<path d="M377.41,174.18 L378.39,174.18 L379.37,174.18 L380.34,174.18 L381.32,174.18 L382.30,174.18 L383.28,174.18 L384.26,174.18 L385.24,174.18 L386.21,174.18 L387.19,174.18 L388.17,174.18 L389.15,174.18 L390.13,174.18 L391.11,174.18 L392.08,174.18 L393.06,174.18 L394.04,174.18 L395.02,174.18 L396.00,174.18 L396.98,174.18 L397.95,174.18 L398.93,174.18 L399.91,174.18 L400.89,174.18 L401.87,174.18 L402.84,174.18 L403.82,174.18 L404.80,174.18 L405.78,174.18 L406.76,174.18 L407.74,174.18 L408.71,174.18 L409.69,174.18 L410.67,174.18 L411.65,174.18 L412.63,174.18 L413.61,174.18 L414.58,174.18 L415.56,174.18 L416.54,174.19 L417.52,174.19 L418.50,174.19 L419.47,174.19 L420.45,174.19 L421.43,174.19 L422.41,174.19 L423.39,174.20 L424.37,174.20 L425.34,174.20 L426.32,174.20 L427.30,174.20 L428.28,174.21 L429.26,174.21 L430.24,174.21 L431.21,174.22 L432.19,174.22 L433.17,174.23 L434.15,174.23 L435.13,174.24 L436.11,174.24 L437.08,174.25 L438.06,174.25 L439.04,174.26 L440.02,174.27 L441.00,174.28 L441.97,174.29 L442.95,174.30 L443.93,174.31 L444.91,174.32 L445.89,174.34 L446.87,174.35 L447.84,174.37 L448.82,174.39 L449.80,174.41 L450.78,174.43 L451.76,174.46 L452.74,174.48 L453.71,174.51 L454.69,174.54 L455.67,174.58 L456.65,174.62 L457.63,174.66 L458.60,174.70 L459.58,174.75 L460.56,174.81 L461.54,174.87 L462.52,174.93 L463.50,175.00 L464.47,175.08 L465.45,175.16 L466.43,175.25 L467.41,175.36 L468.39,175.46 L469.37,175.58 L470.34,175.72 L471.32,175.86 L472.30,176.01 L473.28,176.18 L474.26,176.37 L475.24,176.56 L476.21,176.78 L477.19,177.02 L478.17,177.27 L479.15,177.55 L480.13,177.85 L481.10,178.18 L482.08,178.53 L483.06,178.92 L484.04,179.33 L485.02,179.77 L486.00,180.25 L486.97,180.76 L487.95,181.32 L488.93,181.91 L489.91,182.54 L490.89,183.22 L491.87,183.94 L492.84,184.71 L493.82,185.52 L494.80,186.38" stroke="#58acdc" stroke-width="1.15" fill="none" />
<path d="M377.41,174.81 L378.39,174.81 L379.37,174.81 L380.34,174.81 L381.32,174.81 L382.30,174.81 L383.28,174.81 L384.26,174.81 L385.24,174.81 L386.21,174.81 L387.19,174.81 L388.17,174.81 L389.15,174.81 L390.13,174.82 L391.11,174.82 L392.08,174.82 L393.06,174.82 L394.04,174.82 L395.02,174.82 L396.00,174.82 L396.98,174.82 L397.95,174.82 L398.93,174.83 L399.91,174.83 L400.89,174.83 L401.87,174.83 L402.84,174.83 L403.82,174.83 L404.80,174.84 L405.78,174.84 L406.76,174.84 L407.74,174.84 L408.71,174.85 L409.69,174.85 L410.67,174.85 L411.65,174.85 L412.63,174.86 L413.61,174.86 L414.58,174.86 L415.56,174.87 L416.54,174.87 L417.52,174.88 L418.50,174.88 L419.47,174.89 L420.45,174.89 L421.43,174.90 L422.41,174.90 L423.39,174.91 L424.37,174.91 L425.34,174.92 L426.32,174.93 L427.30,174.94 L428.28,174.94 L429.26,174.95 L430.24,174.96 L431.21,174.97 L432.19,174.98 L433.17,174.99 L434.15,175.00 L435.13,175.02 L436.11,175.03 L437.08,175.04 L438.06,175.06 L439.04,175.07 L440.02,175.09 L441.00,175.11 L441.97,175.12 L442.95,175.14 L443.93,175.16 L444.91,175.18 L445.89,175.21 L446.87,175.23 L447.84,175.26 L448.82,175.28 L449.80,175.31 L450.78,175.34 L451.76,175.37 L452.74,175.41 L453.71,175.44 L454.69,175.48 L455.67,175.52 L456.65,175.56 L457.63,175.61 L458.60,175.66 L459.58,175.71 L460.56,175.76 L461.54,175.82 L462.52,175.88 L463.50,175.94 L464.47,176.01 L465.45,176.08 L466.43,176.15 L467.41,176.23 L468.39,176.31 L469.37,176.40 L470.34,176.49 L471.32,176.59 L472.30,176.69 L473.28,176.80 L474.26,176.91 L475.24,177.03 L476.21,177.16 L477.19,177.30 L478.17,177.44 L479.15,177.59 L480.13,177.75 L481.10,177.91 L482.08,178.09 L483.06,178.27 L484.04,178.47 L485.02,178.67 L486.00,178.88 L486.97,179.11 L487.95,179.35 L488.93,179.59 L489.91,179.86 L490.89,180.13 L491.87,180.42 L492.84,180.72 L493.82,181.03 L494.80,181.36" stroke="#1d3a62" stroke-width="1.15" fill="none" />
<path d="M377.41,174.82 L378.39,174.82 L379.37,174.82 L380.34,174.82 L381.32,174.83 L382.30,174.83 L383.28,174.83 L384.26,174.83 L385.24,174.84 L386.21,174.84 L387.19,174.85 L388.17,174.85 L389.15,174.86 L390.13,174.87 L391.11,174.87 L392.08,174.88 L393.06,174.89 L394.04,174.90 L395.02,174.91 L396.00,174.92 L396.98,174.94 L397.95,174.95 L398.93,174.97 L399.91,174.99 L400.89,175.01 L401.87,175.04 L402.84,175.06 L403.82,175.09 L404.80,175.13 L405.78,175.16 L406.76,175.20 L407.74,175.25 L408.71,175.30 L409.69,175.36 L410.67,175.42 L411.65,175.49 L412.63,175.56 L413.61,175.65 L414.58,175.74 L415.56,175.85 L416.54,175.97 L417.52,176.10 L418.50,176.24 L419.47,176.40 L420.45,176.57 L421.43,176.77 L422.41,176.98 L423.39,177.22 L424.37,177.48 L425.34,177.77 L426.32,178.09 L427.30,178.44 L428.28,178.82 L429.26,179.24 L430.24,179.70 L431.21,180.21 L432.19,180.76 L433.17,181.36 L434.15,182.01 L435.13,182.72 L436.11,183.49 L437.08,184.32 L438.06,185.21 L439.04,186.16 L440.02,187.18 L441.00,188.27 L441.97,189.42 L442.95,190.64 L443.93,191.92 L444.91,193.27 L445.89,194.67 L446.87,196.12 L447.84,197.61 L448.82,199.15 L449.80,200.71 L450.78,202.30 L451.76,203.91 L452.74,205.51 L453.71,207.12 L454.69,208.71 L455.67,210.28 L456.65,211.82 L457.63,213.32 L458.60,214.77 L459.58,216.18 L460.56,217.53 L461.54,218.82 L462.52,220.04 L463.50,221.20 L464.47,222.30 L465.45,223.33 L466.43,224.29 L467.41,225.19 L468.39,226.02 L469.37,226.79 L470.34,227.51 L471.32,228.17 L472.30,228.78 L473.28,229.33 L474.26,229.84 L475.24,230.31 L476.21,230.74 L477.19,231.12 L478.17,231.48 L479.15,231.80 L480.13,232.09 L481.10,232.35 L482.08,232.59 L483.06,232.81 L484.04,233.01 L485.02,233.18 L486.00,233.34 L486.97,233.49 L487.95,233.62 L488.93,233.74 L489.91,233.84 L490.89,233.94 L491.87,234.03 L492.84,234.10 L493.82,234.17 L494.80,234.24" stroke="#3d9a48" stroke-width="1.15" fill="none" />
<path d="M377.41,174.89 L378.39,174.90 L379.37,174.91 L380.34,174.92 L381.32,174.93 L382.30,174.95 L383.28,174.96 L384.26,174.98 L385.24,175.00 L386.21,175.02 L387.19,175.04 L388.17,175.06 L389.15,175.09 L390.13,175.12 L391.11,175.16 L392.08,175.19 L393.06,175.23 L394.04,175.28 L395.02,175.33 L396.00,175.38 L396.98,175.44 L397.95,175.51 L398.93,175.58 L399.91,175.66 L400.89,175.75 L401.87,175.84 L402.84,175.95 L403.82,176.07 L404.80,176.20 L405.78,176.34 L406.76,176.50 L407.74,176.67 L408.71,176.85 L409.69,177.06 L410.67,177.29 L411.65,177.53 L412.63,177.80 L413.61,178.10 L414.58,178.42 L415.56,178.77 L416.54,179.15 L417.52,179.57 L418.50,180.03 L419.47,180.52 L420.45,181.05 L421.43,181.63 L422.41,182.25 L423.39,182.92 L424.37,183.64 L425.34,184.41 L426.32,185.24 L427.30,186.12 L428.28,187.06 L429.26,188.05 L430.24,189.10 L431.21,190.21 L432.19,191.37 L433.17,192.58 L434.15,193.85 L435.13,195.16 L436.11,196.51 L437.08,197.90 L438.06,199.32 L439.04,200.77 L440.02,202.23 L441.00,203.71 L441.97,205.20 L442.95,206.68 L443.93,208.16 L444.91,209.61 L445.89,211.05 L446.87,212.45 L447.84,213.82 L448.82,215.15 L449.80,216.44 L450.78,217.67 L451.76,218.86 L452.74,219.99 L453.71,221.07 L454.69,222.09 L455.67,223.05 L456.65,223.96 L457.63,224.81 L458.60,225.61 L459.58,226.35 L460.56,227.05 L461.54,227.69 L462.52,228.29 L463.50,228.84 L464.47,229.35 L465.45,229.82 L466.43,230.26 L467.41,230.66 L468.39,231.02 L469.37,231.36 L470.34,231.66 L471.32,231.95 L472.30,232.20 L473.28,232.44 L474.26,232.65 L475.24,232.85 L476.21,233.03 L477.19,233.19 L478.17,233.34 L479.15,233.47 L480.13,233.60 L481.10,233.71 L482.08,233.81 L483.06,233.90 L484.04,233.98 L485.02,234.06 L486.00,234.13 L486.97,234.19 L487.95,234.25 L488.93,234.30 L489.91,234.35 L490.89,234.39 L491.87,234.43 L492.84,234.46 L493.82,234.49 L494.80,234.52" stroke="#1c5a48" stroke-width="1.15" fill="none" />
<line x1="377.41" y1="172.89" x2="377.41" y2="177.89" stroke="#9c9c80" stroke-width="0.8" stroke-opacity="0.75"/>
<line x1="376.21" y1="172.89" x2="378.61" y2="172.89" stroke="#9c9c80" stroke-width="0.8" stroke-opacity="0.75"/>
<line x1="376.21" y1="177.89" x2="378.61" y2="177.89" stroke="#9c9c80" stroke-width="0.8" stroke-opacity="0.75"/>
<rect x="376.31" y="174.29" width="2.2" height="2.2" fill="#9c9c80"/>
<line x1="390.51" y1="173.37" x2="390.51" y2="178.37" stroke="#9c9c80" stroke-width="0.8" stroke-opacity="0.75"/>
<line x1="389.31" y1="173.37" x2="391.71" y2="173.37" stroke="#9c9c80" stroke-width="0.8" stroke-opacity="0.75"/>
<line x1="389.31" y1="178.37" x2="391.71" y2="178.37" stroke="#9c9c80" stroke-width="0.8" stroke-opacity="0.75"/>
<rect x="389.41" y="174.77" width="2.2" height="2.2" fill="#9c9c80"/>
<line x1="403.35" y1="173.59" x2="403.35" y2="179.84" stroke="#9c9c80" stroke-width="0.8" stroke-opacity="0.75"/>
<line x1="402.15" y1="173.59" x2="404.55" y2="173.59" stroke="#9c9c80" stroke-width="0.8" stroke-opacity="0.75"/>
<line x1="402.15" y1="179.84" x2="404.55" y2="179.84" stroke="#9c9c80" stroke-width="0.8" stroke-opacity="0.75"/>
<rect x="402.25" y="175.62" width="2.2" height="2.2" fill="#9c9c80"/>
<line x1="417.27" y1="173.36" x2="417.27" y2="183.36" stroke="#9c9c80" stroke-width="0.8" stroke-opacity="0.75"/>
<line x1="416.07" y1="173.36" x2="418.47" y2="173.36" stroke="#9c9c80" stroke-width="0.8" stroke-opacity="0.75"/>
<line x1="416.07" y1="183.36" x2="418.47" y2="183.36" stroke="#9c9c80" stroke-width="0.8" stroke-opacity="0.75"/>
<rect x="416.17" y="177.26" width="2.2" height="2.2" fill="#9c9c80"/>
<line x1="429.55" y1="177.69" x2="429.55" y2="183.94" stroke="#9c9c80" stroke-width="0.8" stroke-opacity="0.75"/>
<line x1="428.35" y1="177.69" x2="430.75" y2="177.69" stroke="#9c9c80" stroke-width="0.8" stroke-opacity="0.75"/>
<line x1="428.35" y1="183.94" x2="430.75" y2="183.94" stroke="#9c9c80" stroke-width="0.8" stroke-opacity="0.75"/>
<rect x="428.45" y="179.72" width="2.2" height="2.2" fill="#9c9c80"/>
<line x1="440.20" y1="180.94" x2="440.20" y2="187.19" stroke="#9c9c80" stroke-width="0.8" stroke-opacity="0.75"/>
<line x1="439.00" y1="180.94" x2="441.40" y2="180.94" stroke="#9c9c80" stroke-width="0.8" stroke-opacity="0.75"/>
<line x1="439.00" y1="187.19" x2="441.40" y2="187.19" stroke="#9c9c80" stroke-width="0.8" stroke-opacity="0.75"/>
<rect x="439.10" y="182.97" width="2.2" height="2.2" fill="#9c9c80"/>
<line x1="454.67" y1="188.10" x2="454.67" y2="193.10" stroke="#9c9c80" stroke-width="0.8" stroke-opacity="0.75"/>
<line x1="453.47" y1="188.10" x2="455.87" y2="188.10" stroke="#9c9c80" stroke-width="0.8" stroke-opacity="0.75"/>
<line x1="453.47" y1="193.10" x2="455.87" y2="193.10" stroke="#9c9c80" stroke-width="0.8" stroke-opacity="0.75"/>
<rect x="453.57" y="189.50" width="2.2" height="2.2" fill="#9c9c80"/>
<line x1="467.50" y1="195.90" x2="467.50" y2="200.90" stroke="#9c9c80" stroke-width="0.8" stroke-opacity="0.75"/>
<line x1="466.30" y1="195.90" x2="468.70" y2="195.90" stroke="#9c9c80" stroke-width="0.8" stroke-opacity="0.75"/>
<line x1="466.30" y1="200.90" x2="468.70" y2="200.90" stroke="#9c9c80" stroke-width="0.8" stroke-opacity="0.75"/>
<rect x="466.40" y="197.30" width="2.2" height="2.2" fill="#9c9c80"/>
<line x1="481.70" y1="204.41" x2="481.70" y2="211.91" stroke="#9c9c80" stroke-width="0.8" stroke-opacity="0.75"/>
<line x1="480.50" y1="204.41" x2="482.90" y2="204.41" stroke="#9c9c80" stroke-width="0.8" stroke-opacity="0.75"/>
<line x1="480.50" y1="211.91" x2="482.90" y2="211.91" stroke="#9c9c80" stroke-width="0.8" stroke-opacity="0.75"/>
<rect x="480.60" y="207.06" width="2.2" height="2.2" fill="#9c9c80"/>
<line x1="494.80" y1="214.12" x2="494.80" y2="219.12" stroke="#9c9c80" stroke-width="0.8" stroke-opacity="0.75"/>
<line x1="493.60" y1="214.12" x2="496.00" y2="214.12" stroke="#9c9c80" stroke-width="0.8" stroke-opacity="0.75"/>
<line x1="493.60" y1="219.12" x2="496.00" y2="219.12" stroke="#9c9c80" stroke-width="0.8" stroke-opacity="0.75"/>
<rect x="493.70" y="215.52" width="2.2" height="2.2" fill="#9c9c80"/>
<line x1="377.41" y1="171.68" x2="377.41" y2="176.68" stroke="#4689b0" stroke-width="0.8" stroke-opacity="0.75"/>
<line x1="376.21" y1="171.68" x2="378.61" y2="171.68" stroke="#4689b0" stroke-width="0.8" stroke-opacity="0.75"/>
<line x1="376.21" y1="176.68" x2="378.61" y2="176.68" stroke="#4689b0" stroke-width="0.8" stroke-opacity="0.75"/>
<rect x="376.31" y="173.08" width="2.2" height="2.2" fill="#4689b0"/>
<line x1="390.51" y1="171.68" x2="390.51" y2="176.68" stroke="#4689b0" stroke-width="0.8" stroke-opacity="0.75"/>
<line x1="389.31" y1="171.68" x2="391.71" y2="171.68" stroke="#4689b0" stroke-width="0.8" stroke-opacity="0.75"/>
<line x1="389.31" y1="176.68" x2="391.71" y2="176.68" stroke="#4689b0" stroke-width="0.8" stroke-opacity="0.75"/>
<rect x="389.41" y="173.08" width="2.2" height="2.2" fill="#4689b0"/>
<line x1="403.35" y1="171.05" x2="403.35" y2="177.30" stroke="#4689b0" stroke-width="0.8" stroke-opacity="0.75"/>
<line x1="402.15" y1="171.05" x2="404.55" y2="171.05" stroke="#4689b0" stroke-width="0.8" stroke-opacity="0.75"/>
<line x1="402.15" y1="177.30" x2="404.55" y2="177.30" stroke="#4689b0" stroke-width="0.8" stroke-opacity="0.75"/>
<rect x="402.25" y="173.08" width="2.2" height="2.2" fill="#4689b0"/>
<line x1="417.27" y1="171.06" x2="417.27" y2="177.31" stroke="#4689b0" stroke-width="0.8" stroke-opacity="0.75"/>
<line x1="416.07" y1="171.06" x2="418.47" y2="171.06" stroke="#4689b0" stroke-width="0.8" stroke-opacity="0.75"/>
<line x1="416.07" y1="177.31" x2="418.47" y2="177.31" stroke="#4689b0" stroke-width="0.8" stroke-opacity="0.75"/>
<rect x="416.17" y="173.09" width="2.2" height="2.2" fill="#4689b0"/>
<line x1="429.55" y1="171.71" x2="429.55" y2="176.71" stroke="#4689b0" stroke-width="0.8" stroke-opacity="0.75"/>
<line x1="428.35" y1="171.71" x2="430.75" y2="171.71" stroke="#4689b0" stroke-width="0.8" stroke-opacity="0.75"/>
<line x1="428.35" y1="176.71" x2="430.75" y2="176.71" stroke="#4689b0" stroke-width="0.8" stroke-opacity="0.75"/>
<rect x="428.45" y="173.11" width="2.2" height="2.2" fill="#4689b0"/>
<line x1="440.20" y1="171.77" x2="440.20" y2="176.77" stroke="#4689b0" stroke-width="0.8" stroke-opacity="0.75"/>
<line x1="439.00" y1="171.77" x2="441.40" y2="171.77" stroke="#4689b0" stroke-width="0.8" stroke-opacity="0.75"/>
<line x1="439.00" y1="176.77" x2="441.40" y2="176.77" stroke="#4689b0" stroke-width="0.8" stroke-opacity="0.75"/>
<rect x="439.10" y="173.17" width="2.2" height="2.2" fill="#4689b0"/>
<line x1="454.67" y1="172.04" x2="454.67" y2="177.04" stroke="#4689b0" stroke-width="0.8" stroke-opacity="0.75"/>
<line x1="453.47" y1="172.04" x2="455.87" y2="172.04" stroke="#4689b0" stroke-width="0.8" stroke-opacity="0.75"/>
<line x1="453.47" y1="177.04" x2="455.87" y2="177.04" stroke="#4689b0" stroke-width="0.8" stroke-opacity="0.75"/>
<rect x="453.57" y="173.44" width="2.2" height="2.2" fill="#4689b0"/>
<line x1="467.50" y1="173.49" x2="467.50" y2="177.24" stroke="#4689b0" stroke-width="0.8" stroke-opacity="0.75"/>
<line x1="466.30" y1="173.49" x2="468.70" y2="173.49" stroke="#4689b0" stroke-width="0.8" stroke-opacity="0.75"/>
<line x1="466.30" y1="177.24" x2="468.70" y2="177.24" stroke="#4689b0" stroke-width="0.8" stroke-opacity="0.75"/>
<rect x="466.40" y="174.27" width="2.2" height="2.2" fill="#4689b0"/>
<line x1="481.70" y1="176.52" x2="481.70" y2="180.27" stroke="#4689b0" stroke-width="0.8" stroke-opacity="0.75"/>
<line x1="480.50" y1="176.52" x2="482.90" y2="176.52" stroke="#4689b0" stroke-width="0.8" stroke-opacity="0.75"/>
<line x1="480.50" y1="180.27" x2="482.90" y2="180.27" stroke="#4689b0" stroke-width="0.8" stroke-opacity="0.75"/>
<rect x="480.60" y="177.29" width="2.2" height="2.2" fill="#4689b0"/>
<line x1="494.80" y1="183.88" x2="494.80" y2="188.88" stroke="#4689b0" stroke-width="0.8" stroke-opacity="0.75"/>
<line x1="493.60" y1="183.88" x2="496.00" y2="183.88" stroke="#4689b0" stroke-width="0.8" stroke-opacity="0.75"/>
<line x1="493.60" y1="188.88" x2="496.00" y2="188.88" stroke="#4689b0" stroke-width="0.8" stroke-opacity="0.75"/>
<rect x="493.70" y="185.28" width="2.2" height="2.2" fill="#4689b0"/>
<line x1="377.41" y1="172.31" x2="377.41" y2="177.31" stroke="#172e4e" stroke-width="0.8" stroke-opacity="0.75"/>
<line x1="376.21" y1="172.31" x2="378.61" y2="172.31" stroke="#172e4e" stroke-width="0.8" stroke-opacity="0.75"/>
<line x1="376.21" y1="177.31" x2="378.61" y2="177.31" stroke="#172e4e" stroke-width="0.8" stroke-opacity="0.75"/>
<rect x="376.31" y="173.71" width="2.2" height="2.2" fill="#172e4e"/>
<line x1="390.51" y1="172.32" x2="390.51" y2="177.32" stroke="#172e4e" stroke-width="0.8" stroke-opacity="0.75"/>
<line x1="389.31" y1="172.32" x2="391.71" y2="172.32" stroke="#172e4e" stroke-width="0.8" stroke-opacity="0.75"/>
<line x1="389.31" y1="177.32" x2="391.71" y2="177.32" stroke="#172e4e" stroke-width="0.8" stroke-opacity="0.75"/>
<rect x="389.41" y="173.72" width="2.2" height="2.2" fill="#172e4e"/>
<line x1="403.35" y1="171.71" x2="403.35" y2="177.96" stroke="#172e4e" stroke-width="0.8" stroke-opacity="0.75"/>
<line x1="402.15" y1="171.71" x2="404.55" y2="171.71" stroke="#172e4e" stroke-width="0.8" stroke-opacity="0.75"/>
<line x1="402.15" y1="177.96" x2="404.55" y2="177.96" stroke="#172e4e" stroke-width="0.8" stroke-opacity="0.75"/>
<rect x="402.25" y="173.73" width="2.2" height="2.2" fill="#172e4e"/>
<line x1="417.27" y1="171.75" x2="417.27" y2="178.00" stroke="#172e4e" stroke-width="0.8" stroke-opacity="0.75"/>
<line x1="416.07" y1="171.75" x2="418.47" y2="171.75" stroke="#172e4e" stroke-width="0.8" stroke-opacity="0.75"/>
<line x1="416.07" y1="178.00" x2="418.47" y2="178.00" stroke="#172e4e" stroke-width="0.8" stroke-opacity="0.75"/>
<rect x="416.17" y="173.78" width="2.2" height="2.2" fill="#172e4e"/>
<line x1="429.55" y1="172.46" x2="429.55" y2="177.46" stroke="#172e4e" stroke-width="0.8" stroke-opacity="0.75"/>
<line x1="428.35" y1="172.46" x2="430.75" y2="172.46" stroke="#172e4e" stroke-width="0.8" stroke-opacity="0.75"/>
<line x1="428.35" y1="177.46" x2="430.75" y2="177.46" stroke="#172e4e" stroke-width="0.8" stroke-opacity="0.75"/>
<rect x="428.45" y="173.86" width="2.2" height="2.2" fill="#172e4e"/>
<line x1="440.20" y1="172.59" x2="440.20" y2="177.59" stroke="#172e4e" stroke-width="0.8" stroke-opacity="0.75"/>
<line x1="439.00" y1="172.59" x2="441.40" y2="172.59" stroke="#172e4e" stroke-width="0.8" stroke-opacity="0.75"/>
<line x1="439.00" y1="177.59" x2="441.40" y2="177.59" stroke="#172e4e" stroke-width="0.8" stroke-opacity="0.75"/>
<rect x="439.10" y="173.99" width="2.2" height="2.2" fill="#172e4e"/>
<line x1="454.67" y1="169.86" x2="454.67" y2="174.86" stroke="#172e4e" stroke-width="0.8" stroke-opacity="0.75"/>
<line x1="453.47" y1="169.86" x2="455.87" y2="169.86" stroke="#172e4e" stroke-width="0.8" stroke-opacity="0.75"/>
<line x1="453.47" y1="174.86" x2="455.87" y2="174.86" stroke="#172e4e" stroke-width="0.8" stroke-opacity="0.75"/>
<rect x="453.57" y="171.26" width="2.2" height="2.2" fill="#172e4e"/>
<line x1="467.50" y1="174.36" x2="467.50" y2="178.11" stroke="#172e4e" stroke-width="0.8" stroke-opacity="0.75"/>
<line x1="466.30" y1="174.36" x2="468.70" y2="174.36" stroke="#172e4e" stroke-width="0.8" stroke-opacity="0.75"/>
<line x1="466.30" y1="178.11" x2="468.70" y2="178.11" stroke="#172e4e" stroke-width="0.8" stroke-opacity="0.75"/>
<rect x="466.40" y="175.14" width="2.2" height="2.2" fill="#172e4e"/>
<line x1="481.70" y1="176.14" x2="481.70" y2="179.89" stroke="#172e4e" stroke-width="0.8" stroke-opacity="0.75"/>
<line x1="480.50" y1="176.14" x2="482.90" y2="176.14" stroke="#172e4e" stroke-width="0.8" stroke-opacity="0.75"/>
<line x1="480.50" y1="179.89" x2="482.90" y2="179.89" stroke="#172e4e" stroke-width="0.8" stroke-opacity="0.75"/>
<rect x="480.60" y="176.92" width="2.2" height="2.2" fill="#172e4e"/>
<line x1="494.80" y1="178.86" x2="494.80" y2="183.86" stroke="#172e4e" stroke-width="0.8" stroke-opacity="0.75"/>
<line x1="493.60" y1="178.86" x2="496.00" y2="178.86" stroke="#172e4e" stroke-width="0.8" stroke-opacity="0.75"/>
<line x1="493.60" y1="183.86" x2="496.00" y2="183.86" stroke="#172e4e" stroke-width="0.8" stroke-opacity="0.75"/>
<rect x="493.70" y="180.26" width="2.2" height="2.2" fill="#172e4e"/>
<line x1="377.41" y1="172.32" x2="377.41" y2="177.32" stroke="#307b39" stroke-width="0.8" stroke-opacity="0.75"/>
<line x1="376.21" y1="172.32" x2="378.61" y2="172.32" stroke="#307b39" stroke-width="0.8" stroke-opacity="0.75"/>
<line x1="376.21" y1="177.32" x2="378.61" y2="177.32" stroke="#307b39" stroke-width="0.8" stroke-opacity="0.75"/>
<rect x="376.31" y="173.72" width="2.2" height="2.2" fill="#307b39"/>
<line x1="390.51" y1="172.37" x2="390.51" y2="177.37" stroke="#307b39" stroke-width="0.8" stroke-opacity="0.75"/>
<line x1="389.31" y1="172.37" x2="391.71" y2="172.37" stroke="#307b39" stroke-width="0.8" stroke-opacity="0.75"/>
<line x1="389.31" y1="177.37" x2="391.71" y2="177.37" stroke="#307b39" stroke-width="0.8" stroke-opacity="0.75"/>
<rect x="389.41" y="173.77" width="2.2" height="2.2" fill="#307b39"/>
<line x1="403.35" y1="171.95" x2="403.35" y2="178.20" stroke="#307b39" stroke-width="0.8" stroke-opacity="0.75"/>
<line x1="402.15" y1="171.95" x2="404.55" y2="171.95" stroke="#307b39" stroke-width="0.8" stroke-opacity="0.75"/>
<line x1="402.15" y1="178.20" x2="404.55" y2="178.20" stroke="#307b39" stroke-width="0.8" stroke-opacity="0.75"/>
<rect x="402.25" y="173.98" width="2.2" height="2.2" fill="#307b39"/>
<line x1="417.27" y1="172.94" x2="417.27" y2="179.19" stroke="#307b39" stroke-width="0.8" stroke-opacity="0.75"/>
<line x1="416.07" y1="172.94" x2="418.47" y2="172.94" stroke="#307b39" stroke-width="0.8" stroke-opacity="0.75"/>
<line x1="416.07" y1="179.19" x2="418.47" y2="179.19" stroke="#307b39" stroke-width="0.8" stroke-opacity="0.75"/>
<rect x="416.17" y="174.96" width="2.2" height="2.2" fill="#307b39"/>
<line x1="429.55" y1="176.88" x2="429.55" y2="181.88" stroke="#307b39" stroke-width="0.8" stroke-opacity="0.75"/>
<line x1="428.35" y1="176.88" x2="430.75" y2="176.88" stroke="#307b39" stroke-width="0.8" stroke-opacity="0.75"/>
<line x1="428.35" y1="181.88" x2="430.75" y2="181.88" stroke="#307b39" stroke-width="0.8" stroke-opacity="0.75"/>
<rect x="428.45" y="178.28" width="2.2" height="2.2" fill="#307b39"/>
<line x1="440.20" y1="184.88" x2="440.20" y2="189.88" stroke="#307b39" stroke-width="0.8" stroke-opacity="0.75"/>
<line x1="439.00" y1="184.88" x2="441.40" y2="184.88" stroke="#307b39" stroke-width="0.8" stroke-opacity="0.75"/>
<line x1="439.00" y1="189.88" x2="441.40" y2="189.88" stroke="#307b39" stroke-width="0.8" stroke-opacity="0.75"/>
<rect x="439.10" y="186.28" width="2.2" height="2.2" fill="#307b39"/>
<line x1="454.67" y1="206.80" x2="454.67" y2="210.55" stroke="#307b39" stroke-width="0.8" stroke-opacity="0.75"/>
<line x1="453.47" y1="206.80" x2="455.87" y2="206.80" stroke="#307b39" stroke-width="0.8" stroke-opacity="0.75"/>
<line x1="453.47" y1="210.55" x2="455.87" y2="210.55" stroke="#307b39" stroke-width="0.8" stroke-opacity="0.75"/>
<rect x="453.57" y="207.57" width="2.2" height="2.2" fill="#307b39"/>
<line x1="467.50" y1="224.02" x2="467.50" y2="226.52" stroke="#307b39" stroke-width="0.8" stroke-opacity="0.75"/>
<line x1="466.30" y1="224.02" x2="468.70" y2="224.02" stroke="#307b39" stroke-width="0.8" stroke-opacity="0.75"/>
<line x1="466.30" y1="226.52" x2="468.70" y2="226.52" stroke="#307b39" stroke-width="0.8" stroke-opacity="0.75"/>
<rect x="466.40" y="224.17" width="2.2" height="2.2" fill="#307b39"/>
<line x1="481.70" y1="231.25" x2="481.70" y2="233.75" stroke="#307b39" stroke-width="0.8" stroke-opacity="0.75"/>
<line x1="480.50" y1="231.25" x2="482.90" y2="231.25" stroke="#307b39" stroke-width="0.8" stroke-opacity="0.75"/>
<line x1="480.50" y1="233.75" x2="482.90" y2="233.75" stroke="#307b39" stroke-width="0.8" stroke-opacity="0.75"/>
<rect x="480.60" y="231.40" width="2.2" height="2.2" fill="#307b39"/>
<line x1="494.80" y1="232.99" x2="494.80" y2="235.49" stroke="#307b39" stroke-width="0.8" stroke-opacity="0.75"/>
<line x1="493.60" y1="232.99" x2="496.00" y2="232.99" stroke="#307b39" stroke-width="0.8" stroke-opacity="0.75"/>
<line x1="493.60" y1="235.49" x2="496.00" y2="235.49" stroke="#307b39" stroke-width="0.8" stroke-opacity="0.75"/>
<rect x="493.70" y="233.14" width="2.2" height="2.2" fill="#307b39"/>
<line x1="377.41" y1="172.39" x2="377.41" y2="177.39" stroke="#164839" stroke-width="0.8" stroke-opacity="0.75"/>
<line x1="376.21" y1="172.39" x2="378.61" y2="172.39" stroke="#164839" stroke-width="0.8" stroke-opacity="0.75"/>
<line x1="376.21" y1="177.39" x2="378.61" y2="177.39" stroke="#164839" stroke-width="0.8" stroke-opacity="0.75"/>
<rect x="376.31" y="173.79" width="2.2" height="2.2" fill="#164839"/>
<line x1="390.51" y1="172.64" x2="390.51" y2="177.64" stroke="#164839" stroke-width="0.8" stroke-opacity="0.75"/>
<line x1="389.31" y1="172.64" x2="391.71" y2="172.64" stroke="#164839" stroke-width="0.8" stroke-opacity="0.75"/>
<line x1="389.31" y1="177.64" x2="391.71" y2="177.64" stroke="#164839" stroke-width="0.8" stroke-opacity="0.75"/>
<rect x="389.41" y="174.04" width="2.2" height="2.2" fill="#164839"/>
<line x1="403.35" y1="172.89" x2="403.35" y2="179.14" stroke="#164839" stroke-width="0.8" stroke-opacity="0.75"/>
<line x1="402.15" y1="172.89" x2="404.55" y2="172.89" stroke="#164839" stroke-width="0.8" stroke-opacity="0.75"/>
<line x1="402.15" y1="179.14" x2="404.55" y2="179.14" stroke="#164839" stroke-width="0.8" stroke-opacity="0.75"/>
<rect x="402.25" y="174.91" width="2.2" height="2.2" fill="#164839"/>
<line x1="417.27" y1="176.34" x2="417.27" y2="182.59" stroke="#164839" stroke-width="0.8" stroke-opacity="0.75"/>
<line x1="416.07" y1="176.34" x2="418.47" y2="176.34" stroke="#164839" stroke-width="0.8" stroke-opacity="0.75"/>
<line x1="416.07" y1="182.59" x2="418.47" y2="182.59" stroke="#164839" stroke-width="0.8" stroke-opacity="0.75"/>
<rect x="416.17" y="178.36" width="2.2" height="2.2" fill="#164839"/>
<line x1="429.55" y1="185.86" x2="429.55" y2="190.86" stroke="#164839" stroke-width="0.8" stroke-opacity="0.75"/>
<line x1="428.35" y1="185.86" x2="430.75" y2="185.86" stroke="#164839" stroke-width="0.8" stroke-opacity="0.75"/>
<line x1="428.35" y1="190.86" x2="430.75" y2="190.86" stroke="#164839" stroke-width="0.8" stroke-opacity="0.75"/>
<rect x="428.45" y="187.26" width="2.2" height="2.2" fill="#164839"/>
<line x1="440.20" y1="200.01" x2="440.20" y2="205.01" stroke="#164839" stroke-width="0.8" stroke-opacity="0.75"/>
<line x1="439.00" y1="200.01" x2="441.40" y2="200.01" stroke="#164839" stroke-width="0.8" stroke-opacity="0.75"/>
<line x1="439.00" y1="205.01" x2="441.40" y2="205.01" stroke="#164839" stroke-width="0.8" stroke-opacity="0.75"/>
<rect x="439.10" y="201.41" width="2.2" height="2.2" fill="#164839"/>
<line x1="454.67" y1="220.19" x2="454.67" y2="223.94" stroke="#164839" stroke-width="0.8" stroke-opacity="0.75"/>
<line x1="453.47" y1="220.19" x2="455.87" y2="220.19" stroke="#164839" stroke-width="0.8" stroke-opacity="0.75"/>
<line x1="453.47" y1="223.94" x2="455.87" y2="223.94" stroke="#164839" stroke-width="0.8" stroke-opacity="0.75"/>
<rect x="453.57" y="220.97" width="2.2" height="2.2" fill="#164839"/>
<line x1="467.50" y1="229.44" x2="467.50" y2="231.94" stroke="#164839" stroke-width="0.8" stroke-opacity="0.75"/>
<line x1="466.30" y1="229.44" x2="468.70" y2="229.44" stroke="#164839" stroke-width="0.8" stroke-opacity="0.75"/>
<line x1="466.30" y1="231.94" x2="468.70" y2="231.94" stroke="#164839" stroke-width="0.8" stroke-opacity="0.75"/>
<rect x="466.40" y="229.59" width="2.2" height="2.2" fill="#164839"/>
<line x1="481.70" y1="232.52" x2="481.70" y2="235.02" stroke="#164839" stroke-width="0.8" stroke-opacity="0.75"/>
<line x1="480.50" y1="232.52" x2="482.90" y2="232.52" stroke="#164839" stroke-width="0.8" stroke-opacity="0.75"/>
<line x1="480.50" y1="235.02" x2="482.90" y2="235.02" stroke="#164839" stroke-width="0.8" stroke-opacity="0.75"/>
<rect x="480.60" y="232.67" width="2.2" height="2.2" fill="#164839"/>
<line x1="494.80" y1="233.27" x2="494.80" y2="235.77" stroke="#164839" stroke-width="0.8" stroke-opacity="0.75"/>
<line x1="493.60" y1="233.27" x2="496.00" y2="233.27" stroke="#164839" stroke-width="0.8" stroke-opacity="0.75"/>
<line x1="493.60" y1="235.77" x2="496.00" y2="235.77" stroke="#164839" stroke-width="0.8" stroke-opacity="0.75"/>
<rect x="493.70" y="233.42" width="2.2" height="2.2" fill="#164839"/>
<line x1="377.50" y1="156.60" x2="377.50" y2="235.40" stroke="#3a3a3a" stroke-width="1.3" />
<line x1="376.90" y1="234.80" x2="497.50" y2="234.80" stroke="#3a3a3a" stroke-width="1.3" />
<line x1="375.10" y1="234.80" x2="377.50" y2="234.80" stroke="#3a3a3a" stroke-width="1" />
<text x="372.00" y="237.60" font-size="7.9" text-anchor="end" font-weight="normal" fill="#231f20" stroke="#231f20" stroke-width="0.22" >0</text>
<line x1="375.10" y1="219.18" x2="377.50" y2="219.18" stroke="#3a3a3a" stroke-width="1" />
<text x="372.00" y="221.98" font-size="7.9" text-anchor="end" font-weight="normal" fill="#231f20" stroke="#231f20" stroke-width="0.22" >25</text>
<line x1="375.10" y1="203.55" x2="377.50" y2="203.55" stroke="#3a3a3a" stroke-width="1" />
<text x="372.00" y="206.35" font-size="7.9" text-anchor="end" font-weight="normal" fill="#231f20" stroke="#231f20" stroke-width="0.22" >50</text>
<line x1="375.10" y1="187.93" x2="377.50" y2="187.93" stroke="#3a3a3a" stroke-width="1" />
<text x="372.00" y="190.73" font-size="7.9" text-anchor="end" font-weight="normal" fill="#231f20" stroke="#231f20" stroke-width="0.22" >75</text>
<line x1="375.10" y1="172.30" x2="377.50" y2="172.30" stroke="#3a3a3a" stroke-width="1" />
<text x="372.00" y="175.10" font-size="7.9" text-anchor="end" font-weight="normal" fill="#231f20" stroke="#231f20" stroke-width="0.22" >100</text>
<line x1="385.60" y1="234.80" x2="385.60" y2="237.20" stroke="#3a3a3a" stroke-width="1" />
<text x="385.60" y="247.00" font-size="7.7" text-anchor="middle" font-weight="normal" fill="#231f20" stroke="#231f20" stroke-width="0.22" >0.001</text>
<line x1="412.90" y1="234.80" x2="412.90" y2="237.20" stroke="#3a3a3a" stroke-width="1" />
<text x="412.90" y="247.00" font-size="7.7" text-anchor="middle" font-weight="normal" fill="#231f20" stroke="#231f20" stroke-width="0.22" >0.01</text>
<line x1="440.20" y1="234.80" x2="440.20" y2="237.20" stroke="#3a3a3a" stroke-width="1" />
<text x="440.20" y="247.00" font-size="7.7" text-anchor="middle" font-weight="normal" fill="#231f20" stroke="#231f20" stroke-width="0.22" >0.1</text>
<line x1="467.50" y1="234.80" x2="467.50" y2="237.20" stroke="#3a3a3a" stroke-width="1" />
<text x="467.50" y="247.00" font-size="7.7" text-anchor="middle" font-weight="normal" fill="#231f20" stroke="#231f20" stroke-width="0.22" >1</text>
<line x1="494.80" y1="234.80" x2="494.80" y2="237.20" stroke="#3a3a3a" stroke-width="1" />
<text x="494.80" y="247.00" font-size="7.7" text-anchor="middle" font-weight="normal" fill="#231f20" stroke="#231f20" stroke-width="0.22" >10</text>
<g transform="translate(437.30,261.30) rotate(0) scale(0.655,1)"><text x="0.25" y="0" font-size="9.2" text-anchor="middle" fill="#231f20" stroke="#231f20" stroke-width="0.3" letter-spacing="0.5">Navitoclax (μM)</text></g>
<line x1="79.50" y1="273.20" x2="89.50" y2="273.20" stroke="#c8701e" stroke-width="1.0" />
<circle cx="84.50" cy="273.20" r="1.5" fill="#6e3d10"/>
<text x="93.00" y="275.70" font-size="7.0" text-anchor="start" font-weight="normal" fill="#231f20" stroke="#231f20" stroke-width="0.18" >mCG2-1</text>
<line x1="79.50" y1="284.00" x2="89.50" y2="284.00" stroke="#dc9050" stroke-width="1.0" />
<circle cx="84.50" cy="284.00" r="1.5" fill="#794f2c"/>
<text x="93.00" y="286.50" font-size="7.0" text-anchor="start" font-weight="normal" fill="#231f20" stroke="#231f20" stroke-width="0.18" >mCG2-2</text>
<line x1="79.50" y1="294.90" x2="89.50" y2="294.90" stroke="#e4b48c" stroke-width="1.0" />
<circle cx="84.50" cy="294.90" r="1.5" fill="#7d634d"/>
<text x="93.00" y="297.40" font-size="7.0" text-anchor="start" font-weight="normal" fill="#231f20" stroke="#231f20" stroke-width="0.18" >mCG2-3</text>
<line x1="129.50" y1="273.20" x2="139.50" y2="273.20" stroke="#f0902a" stroke-width="1.0" />
<circle cx="134.50" cy="273.20" r="1.5" fill="#844f17"/>
<text x="143.00" y="275.70" font-size="7.0" text-anchor="start" font-weight="normal" fill="#231f20" stroke="#231f20" stroke-width="0.18" >mCG2-4</text>
<line x1="129.50" y1="284.00" x2="139.50" y2="284.00" stroke="#f4ac5c" stroke-width="1.0" />
<circle cx="134.50" cy="284.00" r="1.5" fill="#865e32"/>
<text x="143.00" y="286.50" font-size="7.0" text-anchor="start" font-weight="normal" fill="#231f20" stroke="#231f20" stroke-width="0.18" >mCG2-5</text>
<line x1="129.50" y1="294.90" x2="139.50" y2="294.90" stroke="#f2d092" stroke-width="1.0" />
<circle cx="134.50" cy="294.90" r="1.5" fill="#857250"/>
<text x="143.00" y="297.40" font-size="7.0" text-anchor="start" font-weight="normal" fill="#231f20" stroke="#231f20" stroke-width="0.18" >mCG2-6</text>
<line x1="251.80" y1="273.20" x2="261.80" y2="273.20" stroke="#3f1a5c" stroke-width="1.0" />
<circle cx="256.80" cy="273.20" r="1.5" fill="#220e32"/>
<text x="265.30" y="275.70" font-size="7.2" text-anchor="start" font-weight="normal" fill="#231f20" stroke="#231f20" stroke-width="0.18" >pdXNTF</text>
<line x1="251.80" y1="284.00" x2="261.80" y2="284.00" stroke="#9a8ec6" stroke-width="1.0" />
<circle cx="256.80" cy="284.00" r="1.5" fill="#544e6c"/>
<text x="265.30" y="286.50" font-size="7.2" text-anchor="start" font-weight="normal" fill="#231f20" stroke="#231f20" stroke-width="0.18" >mN5A-3</text>
<line x1="251.80" y1="294.90" x2="261.80" y2="294.90" stroke="#df2a7c" stroke-width="1.0" />
<circle cx="256.80" cy="294.90" r="1.5" fill="#7a1744"/>
<text x="265.30" y="297.40" font-size="7.2" text-anchor="start" font-weight="normal" fill="#231f20" stroke="#231f20" stroke-width="0.18" >CHRF-288-11</text>
<line x1="387.80" y1="273.20" x2="397.80" y2="273.20" stroke="#1c5a48" stroke-width="1.0" />
<circle cx="392.80" cy="273.20" r="1.5" fill="#0f3127"/>
<text x="401.30" y="275.70" font-size="7.2" text-anchor="start" font-weight="normal" fill="#231f20" stroke="#231f20" stroke-width="0.18" >ML2</text>
<line x1="387.80" y1="284.00" x2="397.80" y2="284.00" stroke="#3d9a48" stroke-width="1.0" />
<circle cx="392.80" cy="284.00" r="1.5" fill="#215427"/>
<text x="401.30" y="286.50" font-size="7.2" text-anchor="start" font-weight="normal" fill="#231f20" stroke="#231f20" stroke-width="0.18" >pdxNNSD1</text>
<line x1="387.80" y1="294.90" x2="397.80" y2="294.90" stroke="#c4c4a0" stroke-width="1.0" />
<circle cx="392.80" cy="294.90" r="1.5" fill="#6b6b58"/>
<text x="401.30" y="297.40" font-size="7.2" text-anchor="start" font-weight="normal" fill="#231f20" stroke="#231f20" stroke-width="0.18" >pdxMLLr</text>
<line x1="447.80" y1="273.20" x2="457.80" y2="273.20" stroke="#58acdc" stroke-width="1.0" />
<circle cx="452.80" cy="273.20" r="1.5" fill="#305e79"/>
<text x="461.30" y="275.70" font-size="7.2" text-anchor="start" font-weight="normal" fill="#231f20" stroke="#231f20" stroke-width="0.18" >mN5A-6</text>
<line x1="447.80" y1="284.00" x2="457.80" y2="284.00" stroke="#1d3a62" stroke-width="1.0" />
<circle cx="452.80" cy="284.00" r="1.5" fill="#0f1f35"/>
<text x="461.30" y="286.50" font-size="7.2" text-anchor="start" font-weight="normal" fill="#231f20" stroke="#231f20" stroke-width="0.18" >mN5A-7</text>
<line x1="59.80" y1="319.30" x2="162.50" y2="319.30" stroke="#2a2a2a" stroke-width="1.1" />
<line x1="225.20" y1="319.30" x2="327.80" y2="319.30" stroke="#2a2a2a" stroke-width="1.1" />
<text x="194.00" y="322.40" font-size="8.9" text-anchor="middle" font-weight="normal" fill="#231f20" stroke="#231f20" stroke-width="0.18" >Navitoclax</text>
<line x1="59.80" y1="516.10" x2="162.50" y2="516.10" stroke="#2a2a2a" stroke-width="1.1" />
<line x1="225.20" y1="516.10" x2="327.80" y2="516.10" stroke="#2a2a2a" stroke-width="1.1" />
<text x="194.00" y="519.20" font-size="8.9" text-anchor="middle" font-weight="normal" fill="#231f20" stroke="#231f20" stroke-width="0.18" >Venetoclax</text>
<text x="85.20" y="340.20" font-size="7.5" text-anchor="middle" font-weight="normal" fill="#231f20" stroke="#231f20" stroke-width="0.18" >123.5nM</text>
<text x="193.60" y="340.20" font-size="7.5" text-anchor="middle" font-weight="normal" fill="#231f20" stroke="#231f20" stroke-width="0.18" >370.5nM</text>
<text x="302.90" y="340.20" font-size="7.5" text-anchor="middle" font-weight="normal" fill="#231f20" stroke="#231f20" stroke-width="0.18" >10μM</text>
<text x="85.60" y="537.50" font-size="7.5" text-anchor="middle" font-weight="normal" fill="#231f20" stroke="#231f20" stroke-width="0.18" >123.5nM</text>
<text x="194.40" y="537.50" font-size="7.5" text-anchor="middle" font-weight="normal" fill="#231f20" stroke="#231f20" stroke-width="0.18" >370.5nM</text>
<text x="302.90" y="534.80" font-size="7.5" text-anchor="middle" font-weight="normal" fill="#231f20" stroke="#231f20" stroke-width="0.18" >10μM</text>
<line x1="57.90" y1="448.61" x2="57.90" y2="453.05" stroke="#3a3a3a" stroke-width="1.0" />
<line x1="56.00" y1="448.61" x2="59.80" y2="448.61" stroke="#3a3a3a" stroke-width="1.0" />
<rect x="54.55" y="452.55" width="6.7" height="6.45" fill="#4b5668"/>
<line x1="68.65" y1="441.35" x2="68.65" y2="445.97" stroke="#3a3a3a" stroke-width="1.0" />
<line x1="66.75" y1="441.35" x2="70.55" y2="441.35" stroke="#3a3a3a" stroke-width="1.0" />
<rect x="65.30" y="445.47" width="6.7" height="13.53" fill="#c46f1f"/>
<line x1="79.40" y1="451.47" x2="79.40" y2="454.30" stroke="#3a3a3a" stroke-width="1.0" />
<line x1="77.50" y1="451.47" x2="81.30" y2="451.47" stroke="#3a3a3a" stroke-width="1.0" />
<rect x="76.05" y="453.80" width="6.7" height="5.20" fill="#dd9a55"/>
<line x1="90.15" y1="439.11" x2="90.15" y2="444.63" stroke="#3a3a3a" stroke-width="1.0" />
<line x1="88.25" y1="439.11" x2="92.05" y2="439.11" stroke="#3a3a3a" stroke-width="1.0" />
<rect x="86.80" y="444.13" width="6.7" height="14.87" fill="#4c1a62"/>
<line x1="100.90" y1="431.58" x2="100.90" y2="436.11" stroke="#3a3a3a" stroke-width="1.0" />
<line x1="99.00" y1="431.58" x2="102.80" y2="431.58" stroke="#3a3a3a" stroke-width="1.0" />
<rect x="97.55" y="435.61" width="6.7" height="23.39" fill="#9b8fc9"/>
<line x1="111.65" y1="431.58" x2="111.65" y2="442.30" stroke="#3a3a3a" stroke-width="1.0" />
<line x1="109.75" y1="431.58" x2="113.55" y2="431.58" stroke="#3a3a3a" stroke-width="1.0" />
<rect x="108.30" y="441.80" width="6.7" height="17.20" fill="#1d6b51"/>
<path d="M57.90,432.50 L57.90,429.30 L68.65,429.30 L68.65,435.40" stroke="#333" stroke-width="1.0" fill="none" />
<text x="63.28" y="428.50" font-size="6.6" text-anchor="middle" font-weight="normal" fill="#231f20" stroke="#231f20" stroke-width="0.3" letter-spacing="0.3">*</text>
<path d="M57.90,423.30 L57.90,419.90 L90.15,419.90 L90.15,434.00" stroke="#333" stroke-width="1.0" fill="none" />
<text x="74.03" y="419.10" font-size="6.6" text-anchor="middle" font-weight="normal" fill="#231f20" stroke="#231f20" stroke-width="0.3" letter-spacing="0.3">**</text>
<path d="M57.90,413.80 L57.90,410.70 L100.90,410.70 L100.90,426.60" stroke="#333" stroke-width="1.0" fill="none" />
<text x="79.40" y="409.90" font-size="6.6" text-anchor="middle" font-weight="normal" fill="#231f20" stroke="#231f20" stroke-width="0.3" letter-spacing="0.3">****</text>
<path d="M57.90,404.80 L57.90,401.00 L111.65,401.00 L111.65,427.30" stroke="#333" stroke-width="1.0" fill="none" />
<text x="84.78" y="400.20" font-size="6.6" text-anchor="middle" font-weight="normal" fill="#231f20" stroke="#231f20" stroke-width="0.3" letter-spacing="0.3">**</text>
<line x1="50.70" y1="366.80" x2="50.70" y2="459.60" stroke="#3a3a3a" stroke-width="1.3" />
<line x1="50.10" y1="459.00" x2="118.40" y2="459.00" stroke="#3a3a3a" stroke-width="1.3" />
<line x1="47.70" y1="459.00" x2="50.70" y2="459.00" stroke="#3a3a3a" stroke-width="1" />
<text x="43.90" y="461.50" font-size="7.2" text-anchor="end" font-weight="normal" fill="#231f20" stroke="#231f20" stroke-width="0.18" >0</text>
<line x1="47.70" y1="441.08" x2="50.70" y2="441.08" stroke="#3a3a3a" stroke-width="1" />
<text x="43.90" y="443.58" font-size="7.2" text-anchor="end" font-weight="normal" fill="#231f20" stroke="#231f20" stroke-width="0.18" >20</text>
<line x1="47.70" y1="423.16" x2="50.70" y2="423.16" stroke="#3a3a3a" stroke-width="1" />
<text x="43.90" y="425.66" font-size="7.2" text-anchor="end" font-weight="normal" fill="#231f20" stroke="#231f20" stroke-width="0.18" >40</text>
<line x1="47.70" y1="405.24" x2="50.70" y2="405.24" stroke="#3a3a3a" stroke-width="1" />
<text x="43.90" y="407.74" font-size="7.2" text-anchor="end" font-weight="normal" fill="#231f20" stroke="#231f20" stroke-width="0.18" >60</text>
<line x1="47.70" y1="387.32" x2="50.70" y2="387.32" stroke="#3a3a3a" stroke-width="1" />
<text x="43.90" y="389.82" font-size="7.2" text-anchor="end" font-weight="normal" fill="#231f20" stroke="#231f20" stroke-width="0.18" >80</text>
<line x1="47.70" y1="369.40" x2="50.70" y2="369.40" stroke="#3a3a3a" stroke-width="1" />
<text x="43.90" y="371.90" font-size="7.2" text-anchor="end" font-weight="normal" fill="#231f20" stroke="#231f20" stroke-width="0.18" >100</text>
<line x1="57.90" y1="459.00" x2="57.90" y2="461.60" stroke="#3a3a3a" stroke-width="1" />
<text transform="translate(59.70,466.90) rotate(-45)" font-size="7.2" letter-spacing="0.42" text-anchor="end" fill="#231f20" stroke="#231f20" stroke-width="0.12">CB-CD34+</text>
<line x1="68.65" y1="459.00" x2="68.65" y2="461.60" stroke="#3a3a3a" stroke-width="1" />
<text transform="translate(70.45,466.90) rotate(-45)" font-size="7.2" letter-spacing="0.42" text-anchor="end" fill="#231f20" stroke="#231f20" stroke-width="0.12">mCG2-1</text>
<line x1="79.40" y1="459.00" x2="79.40" y2="461.60" stroke="#3a3a3a" stroke-width="1" />
<text transform="translate(81.20,466.90) rotate(-45)" font-size="7.2" letter-spacing="0.42" text-anchor="end" fill="#231f20" stroke="#231f20" stroke-width="0.12">mCG2-2</text>
<line x1="90.15" y1="459.00" x2="90.15" y2="461.60" stroke="#3a3a3a" stroke-width="1" />
<text transform="translate(91.95,466.90) rotate(-45)" font-size="7.2" letter-spacing="0.42" text-anchor="end" fill="#231f20" stroke="#231f20" stroke-width="0.12">pdxNTF</text>
<line x1="100.90" y1="459.00" x2="100.90" y2="461.60" stroke="#3a3a3a" stroke-width="1" />
<text transform="translate(102.70,466.90) rotate(-45)" font-size="7.2" letter-spacing="0.42" text-anchor="end" fill="#231f20" stroke="#231f20" stroke-width="0.12">mN5A</text>
<line x1="111.65" y1="459.00" x2="111.65" y2="461.60" stroke="#3a3a3a" stroke-width="1" />
<text transform="translate(113.45,466.90) rotate(-45)" font-size="7.2" letter-spacing="0.42" text-anchor="end" fill="#231f20" stroke="#231f20" stroke-width="0.12">ML2</text>
<line x1="166.40" y1="443.77" x2="166.40" y2="449.64" stroke="#3a3a3a" stroke-width="1.0" />
<line x1="164.50" y1="443.77" x2="168.30" y2="443.77" stroke="#3a3a3a" stroke-width="1.0" />
<rect x="163.05" y="449.14" width="6.7" height="9.86" fill="#4b5668"/>
<line x1="177.15" y1="415.99" x2="177.15" y2="421.87" stroke="#3a3a3a" stroke-width="1.0" />
<line x1="175.25" y1="415.99" x2="179.05" y2="415.99" stroke="#3a3a3a" stroke-width="1.0" />
<rect x="173.80" y="421.37" width="6.7" height="37.63" fill="#c46f1f"/>
<line x1="187.90" y1="432.12" x2="187.90" y2="438.89" stroke="#3a3a3a" stroke-width="1.0" />
<line x1="186.00" y1="432.12" x2="189.80" y2="432.12" stroke="#3a3a3a" stroke-width="1.0" />
<rect x="184.55" y="438.39" width="6.7" height="20.61" fill="#dd9a55"/>
<line x1="198.65" y1="428.54" x2="198.65" y2="432.62" stroke="#3a3a3a" stroke-width="1.0" />
<line x1="196.75" y1="428.54" x2="200.55" y2="428.54" stroke="#3a3a3a" stroke-width="1.0" />
<rect x="195.30" y="432.12" width="6.7" height="26.88" fill="#4c1a62"/>
<line x1="209.40" y1="415.99" x2="209.40" y2="420.97" stroke="#3a3a3a" stroke-width="1.0" />
<line x1="207.50" y1="415.99" x2="211.30" y2="415.99" stroke="#3a3a3a" stroke-width="1.0" />
<rect x="206.05" y="420.47" width="6.7" height="38.53" fill="#9b8fc9"/>
<line x1="220.15" y1="397.18" x2="220.15" y2="419.63" stroke="#3a3a3a" stroke-width="1.0" />
<line x1="218.25" y1="397.18" x2="222.05" y2="397.18" stroke="#3a3a3a" stroke-width="1.0" />
<rect x="216.80" y="419.13" width="6.7" height="39.87" fill="#1d6b51"/>
<path d="M166.40,410.00 L166.40,406.00 L177.15,406.00 L177.15,410.40" stroke="#333" stroke-width="1.0" fill="none" />
<text x="171.77" y="405.20" font-size="6.6" text-anchor="middle" font-weight="normal" fill="#231f20" stroke="#231f20" stroke-width="0.3" letter-spacing="0.3">****</text>
<path d="M166.40,398.00 L166.40,394.50 L187.90,394.50 L187.90,423.40" stroke="#333" stroke-width="1.0" fill="none" />
<text x="177.15" y="393.70" font-size="6.6" text-anchor="middle" font-weight="normal" fill="#231f20" stroke="#231f20" stroke-width="0.3" letter-spacing="0.3">*</text>
<path d="M166.40,389.00 L166.40,385.60 L198.65,385.60 L198.65,420.80" stroke="#333" stroke-width="1.0" fill="none" />
<text x="182.52" y="384.80" font-size="6.6" text-anchor="middle" font-weight="normal" fill="#231f20" stroke="#231f20" stroke-width="0.3" letter-spacing="0.3">**</text>
<path d="M166.40,380.00 L166.40,376.60 L209.40,376.60 L209.40,407.80" stroke="#333" stroke-width="1.0" fill="none" />
<text x="187.90" y="375.80" font-size="6.6" text-anchor="middle" font-weight="normal" fill="#231f20" stroke="#231f20" stroke-width="0.3" letter-spacing="0.3">****</text>
<path d="M166.40,370.00 L166.40,366.60 L220.15,366.60 L220.15,388.70" stroke="#333" stroke-width="1.0" fill="none" />
<text x="193.27" y="365.80" font-size="6.6" text-anchor="middle" font-weight="normal" fill="#231f20" stroke="#231f20" stroke-width="0.3" letter-spacing="0.3">****</text>
<line x1="159.20" y1="366.80" x2="159.20" y2="459.60" stroke="#3a3a3a" stroke-width="1.3" />
<line x1="158.60" y1="459.00" x2="226.90" y2="459.00" stroke="#3a3a3a" stroke-width="1.3" />
<line x1="156.20" y1="459.00" x2="159.20" y2="459.00" stroke="#3a3a3a" stroke-width="1" />
<text x="152.40" y="461.50" font-size="7.2" text-anchor="end" font-weight="normal" fill="#231f20" stroke="#231f20" stroke-width="0.18" >0</text>
<line x1="156.20" y1="441.08" x2="159.20" y2="441.08" stroke="#3a3a3a" stroke-width="1" />
<text x="152.40" y="443.58" font-size="7.2" text-anchor="end" font-weight="normal" fill="#231f20" stroke="#231f20" stroke-width="0.18" >20</text>
<line x1="156.20" y1="423.16" x2="159.20" y2="423.16" stroke="#3a3a3a" stroke-width="1" />
<text x="152.40" y="425.66" font-size="7.2" text-anchor="end" font-weight="normal" fill="#231f20" stroke="#231f20" stroke-width="0.18" >40</text>
<line x1="156.20" y1="405.24" x2="159.20" y2="405.24" stroke="#3a3a3a" stroke-width="1" />
<text x="152.40" y="407.74" font-size="7.2" text-anchor="end" font-weight="normal" fill="#231f20" stroke="#231f20" stroke-width="0.18" >60</text>
<line x1="156.20" y1="387.32" x2="159.20" y2="387.32" stroke="#3a3a3a" stroke-width="1" />
<text x="152.40" y="389.82" font-size="7.2" text-anchor="end" font-weight="normal" fill="#231f20" stroke="#231f20" stroke-width="0.18" >80</text>
<line x1="156.20" y1="369.40" x2="159.20" y2="369.40" stroke="#3a3a3a" stroke-width="1" />
<text x="152.40" y="371.90" font-size="7.2" text-anchor="end" font-weight="normal" fill="#231f20" stroke="#231f20" stroke-width="0.18" >100</text>
<line x1="166.40" y1="459.00" x2="166.40" y2="461.60" stroke="#3a3a3a" stroke-width="1" />
<text transform="translate(168.20,466.90) rotate(-45)" font-size="7.2" letter-spacing="0.42" text-anchor="end" fill="#231f20" stroke="#231f20" stroke-width="0.12">CB-CD34+</text>
<line x1="177.15" y1="459.00" x2="177.15" y2="461.60" stroke="#3a3a3a" stroke-width="1" />
<text transform="translate(178.95,466.90) rotate(-45)" font-size="7.2" letter-spacing="0.42" text-anchor="end" fill="#231f20" stroke="#231f20" stroke-width="0.12">mCG2-1</text>
<line x1="187.90" y1="459.00" x2="187.90" y2="461.60" stroke="#3a3a3a" stroke-width="1" />
<text transform="translate(189.70,466.90) rotate(-45)" font-size="7.2" letter-spacing="0.42" text-anchor="end" fill="#231f20" stroke="#231f20" stroke-width="0.12">mCG2-2</text>
<line x1="198.65" y1="459.00" x2="198.65" y2="461.60" stroke="#3a3a3a" stroke-width="1" />
<text transform="translate(200.45,466.90) rotate(-45)" font-size="7.2" letter-spacing="0.42" text-anchor="end" fill="#231f20" stroke="#231f20" stroke-width="0.12">pdxNTF</text>
<line x1="209.40" y1="459.00" x2="209.40" y2="461.60" stroke="#3a3a3a" stroke-width="1" />
<text transform="translate(211.20,466.90) rotate(-45)" font-size="7.2" letter-spacing="0.42" text-anchor="end" fill="#231f20" stroke="#231f20" stroke-width="0.12">mN5A</text>
<line x1="220.15" y1="459.00" x2="220.15" y2="461.60" stroke="#3a3a3a" stroke-width="1" />
<text transform="translate(221.95,466.90) rotate(-45)" font-size="7.2" letter-spacing="0.42" text-anchor="end" fill="#231f20" stroke="#231f20" stroke-width="0.12">ML2</text>
<line x1="275.00" y1="379.70" x2="275.00" y2="384.68" stroke="#3a3a3a" stroke-width="1.0" />
<line x1="273.10" y1="379.70" x2="276.90" y2="379.70" stroke="#3a3a3a" stroke-width="1.0" />
<rect x="271.65" y="384.18" width="6.7" height="74.82" fill="#4b5668"/>
<line x1="285.75" y1="369.40" x2="285.75" y2="370.80" stroke="#3a3a3a" stroke-width="1.0" />
<line x1="283.85" y1="369.40" x2="287.65" y2="369.40" stroke="#3a3a3a" stroke-width="1.0" />
<rect x="282.40" y="370.30" width="6.7" height="88.70" fill="#c46f1f"/>
<line x1="296.50" y1="372.98" x2="296.50" y2="381.55" stroke="#3a3a3a" stroke-width="1.0" />
<line x1="294.60" y1="372.98" x2="298.40" y2="372.98" stroke="#3a3a3a" stroke-width="1.0" />
<rect x="293.15" y="381.05" width="6.7" height="77.95" fill="#dd9a55"/>
<line x1="307.25" y1="388.66" x2="307.25" y2="393.20" stroke="#3a3a3a" stroke-width="1.0" />
<line x1="305.35" y1="388.66" x2="309.15" y2="388.66" stroke="#3a3a3a" stroke-width="1.0" />
<rect x="303.90" y="392.70" width="6.7" height="66.30" fill="#4c1a62"/>
<line x1="318.00" y1="385.98" x2="318.00" y2="390.51" stroke="#3a3a3a" stroke-width="1.0" />
<line x1="316.10" y1="385.98" x2="319.90" y2="385.98" stroke="#3a3a3a" stroke-width="1.0" />
<rect x="314.65" y="390.01" width="6.7" height="68.99" fill="#9b8fc9"/>
<line x1="328.75" y1="370.30" x2="328.75" y2="372.59" stroke="#3a3a3a" stroke-width="1.0" />
<line x1="326.85" y1="370.30" x2="330.65" y2="370.30" stroke="#3a3a3a" stroke-width="1.0" />
<rect x="325.40" y="372.09" width="6.7" height="86.91" fill="#1d6b51"/>
<path d="M275.00,373.50 L275.00,363.70 L285.75,363.70 L285.75,366.40" stroke="#333" stroke-width="1.0" fill="none" />
<text x="280.38" y="362.90" font-size="6.6" text-anchor="middle" font-weight="normal" fill="#231f20" stroke="#231f20" stroke-width="0.3" letter-spacing="0.3">****</text>
<path d="M275.00,356.00 L275.00,351.80 L328.75,351.80 L328.75,358.20" stroke="#333" stroke-width="1.0" fill="none" />
<text x="301.88" y="351.00" font-size="6.6" text-anchor="middle" font-weight="normal" fill="#231f20" stroke="#231f20" stroke-width="0.3" letter-spacing="0.3">****</text>
<line x1="267.80" y1="366.80" x2="267.80" y2="459.60" stroke="#3a3a3a" stroke-width="1.3" />
<line x1="267.20" y1="459.00" x2="335.50" y2="459.00" stroke="#3a3a3a" stroke-width="1.3" />
<line x1="264.80" y1="459.00" x2="267.80" y2="459.00" stroke="#3a3a3a" stroke-width="1" />
<text x="261.00" y="461.50" font-size="7.2" text-anchor="end" font-weight="normal" fill="#231f20" stroke="#231f20" stroke-width="0.18" >0</text>
<line x1="264.80" y1="441.08" x2="267.80" y2="441.08" stroke="#3a3a3a" stroke-width="1" />
<text x="261.00" y="443.58" font-size="7.2" text-anchor="end" font-weight="normal" fill="#231f20" stroke="#231f20" stroke-width="0.18" >20</text>
<line x1="264.80" y1="423.16" x2="267.80" y2="423.16" stroke="#3a3a3a" stroke-width="1" />
<text x="261.00" y="425.66" font-size="7.2" text-anchor="end" font-weight="normal" fill="#231f20" stroke="#231f20" stroke-width="0.18" >40</text>
<line x1="264.80" y1="405.24" x2="267.80" y2="405.24" stroke="#3a3a3a" stroke-width="1" />
<text x="261.00" y="407.74" font-size="7.2" text-anchor="end" font-weight="normal" fill="#231f20" stroke="#231f20" stroke-width="0.18" >60</text>
<line x1="264.80" y1="387.32" x2="267.80" y2="387.32" stroke="#3a3a3a" stroke-width="1" />
<text x="261.00" y="389.82" font-size="7.2" text-anchor="end" font-weight="normal" fill="#231f20" stroke="#231f20" stroke-width="0.18" >80</text>
<line x1="264.80" y1="369.40" x2="267.80" y2="369.40" stroke="#3a3a3a" stroke-width="1" />
<text x="261.00" y="371.90" font-size="7.2" text-anchor="end" font-weight="normal" fill="#231f20" stroke="#231f20" stroke-width="0.18" >100</text>
<line x1="275.00" y1="459.00" x2="275.00" y2="461.60" stroke="#3a3a3a" stroke-width="1" />
<text transform="translate(276.80,466.90) rotate(-45)" font-size="7.2" letter-spacing="0.42" text-anchor="end" fill="#231f20" stroke="#231f20" stroke-width="0.12">CB-CD34+</text>
<line x1="285.75" y1="459.00" x2="285.75" y2="461.60" stroke="#3a3a3a" stroke-width="1" />
<text transform="translate(287.55,466.90) rotate(-45)" font-size="7.2" letter-spacing="0.42" text-anchor="end" fill="#231f20" stroke="#231f20" stroke-width="0.12">mCG2-1</text>
<line x1="296.50" y1="459.00" x2="296.50" y2="461.60" stroke="#3a3a3a" stroke-width="1" />
<text transform="translate(298.30,466.90) rotate(-45)" font-size="7.2" letter-spacing="0.42" text-anchor="end" fill="#231f20" stroke="#231f20" stroke-width="0.12">mCG2-2</text>
<line x1="307.25" y1="459.00" x2="307.25" y2="461.60" stroke="#3a3a3a" stroke-width="1" />
<text transform="translate(309.05,466.90) rotate(-45)" font-size="7.2" letter-spacing="0.42" text-anchor="end" fill="#231f20" stroke="#231f20" stroke-width="0.12">pdxNTF</text>
<line x1="318.00" y1="459.00" x2="318.00" y2="461.60" stroke="#3a3a3a" stroke-width="1" />
<text transform="translate(319.80,466.90) rotate(-45)" font-size="7.2" letter-spacing="0.42" text-anchor="end" fill="#231f20" stroke="#231f20" stroke-width="0.12">mN5A</text>
<line x1="328.75" y1="459.00" x2="328.75" y2="461.60" stroke="#3a3a3a" stroke-width="1" />
<text transform="translate(330.55,466.90) rotate(-45)" font-size="7.2" letter-spacing="0.42" text-anchor="end" fill="#231f20" stroke="#231f20" stroke-width="0.12">ML2</text>
<line x1="57.90" y1="638.37" x2="57.90" y2="639.76" stroke="#3a3a3a" stroke-width="1.0" />
<line x1="56.00" y1="638.37" x2="59.80" y2="638.37" stroke="#3a3a3a" stroke-width="1.0" />
<rect x="54.55" y="639.26" width="6.7" height="1.34" fill="#4b5668"/>
<line x1="68.65" y1="637.74" x2="68.65" y2="639.76" stroke="#3a3a3a" stroke-width="1.0" />
<line x1="66.75" y1="637.74" x2="70.55" y2="637.74" stroke="#3a3a3a" stroke-width="1.0" />
<rect x="65.30" y="639.26" width="6.7" height="1.34" fill="#c46f1f"/>
<line x1="79.40" y1="638.99" x2="79.40" y2="640.21" stroke="#3a3a3a" stroke-width="1.0" />
<line x1="77.50" y1="638.99" x2="81.30" y2="638.99" stroke="#3a3a3a" stroke-width="1.0" />
<rect x="76.05" y="639.71" width="6.7" height="0.89" fill="#dd9a55"/>
<line x1="90.15" y1="636.13" x2="90.15" y2="640.56" stroke="#3a3a3a" stroke-width="1.0" />
<line x1="88.25" y1="636.13" x2="92.05" y2="636.13" stroke="#3a3a3a" stroke-width="1.0" />
<rect x="86.80" y="640.06" width="6.7" height="0.54" fill="#4c1a62"/>
<line x1="100.90" y1="637.92" x2="100.90" y2="639.76" stroke="#3a3a3a" stroke-width="1.0" />
<line x1="99.00" y1="637.92" x2="102.80" y2="637.92" stroke="#3a3a3a" stroke-width="1.0" />
<rect x="97.55" y="639.26" width="6.7" height="1.34" fill="#9b8fc9"/>
<line x1="111.65" y1="598.22" x2="111.65" y2="613.74" stroke="#3a3a3a" stroke-width="1.0" />
<line x1="109.75" y1="598.22" x2="113.55" y2="598.22" stroke="#3a3a3a" stroke-width="1.0" />
<rect x="108.30" y="613.24" width="6.7" height="27.36" fill="#1d6b51"/>
<path d="M57.90,632.80 L57.90,587.70 L111.65,587.70 L111.65,593.60" stroke="#333" stroke-width="1.0" fill="none" />
<text x="84.78" y="586.90" font-size="6.6" text-anchor="middle" font-weight="normal" fill="#231f20" stroke="#231f20" stroke-width="0.3" letter-spacing="0.3">****</text>
<line x1="50.70" y1="548.60" x2="50.70" y2="641.20" stroke="#3a3a3a" stroke-width="1.3" />
<line x1="50.10" y1="640.60" x2="118.40" y2="640.60" stroke="#3a3a3a" stroke-width="1.3" />
<line x1="47.70" y1="640.60" x2="50.70" y2="640.60" stroke="#3a3a3a" stroke-width="1" />
<text x="43.90" y="643.10" font-size="7.2" text-anchor="end" font-weight="normal" fill="#231f20" stroke="#231f20" stroke-width="0.18" >0</text>
<line x1="47.70" y1="622.72" x2="50.70" y2="622.72" stroke="#3a3a3a" stroke-width="1" />
<text x="43.90" y="625.22" font-size="7.2" text-anchor="end" font-weight="normal" fill="#231f20" stroke="#231f20" stroke-width="0.18" >20</text>
<line x1="47.70" y1="604.84" x2="50.70" y2="604.84" stroke="#3a3a3a" stroke-width="1" />
<text x="43.90" y="607.34" font-size="7.2" text-anchor="end" font-weight="normal" fill="#231f20" stroke="#231f20" stroke-width="0.18" >40</text>
<line x1="47.70" y1="586.96" x2="50.70" y2="586.96" stroke="#3a3a3a" stroke-width="1" />
<text x="43.90" y="589.46" font-size="7.2" text-anchor="end" font-weight="normal" fill="#231f20" stroke="#231f20" stroke-width="0.18" >60</text>
<line x1="47.70" y1="569.08" x2="50.70" y2="569.08" stroke="#3a3a3a" stroke-width="1" />
<text x="43.90" y="571.58" font-size="7.2" text-anchor="end" font-weight="normal" fill="#231f20" stroke="#231f20" stroke-width="0.18" >80</text>
<line x1="47.70" y1="551.20" x2="50.70" y2="551.20" stroke="#3a3a3a" stroke-width="1" />
<text x="43.90" y="553.70" font-size="7.2" text-anchor="end" font-weight="normal" fill="#231f20" stroke="#231f20" stroke-width="0.18" >100</text>
<line x1="57.90" y1="640.60" x2="57.90" y2="643.20" stroke="#3a3a3a" stroke-width="1" />
<text transform="translate(59.70,648.50) rotate(-45)" font-size="7.2" letter-spacing="0.42" text-anchor="end" fill="#231f20" stroke="#231f20" stroke-width="0.12">CB-CD34+</text>
<line x1="68.65" y1="640.60" x2="68.65" y2="643.20" stroke="#3a3a3a" stroke-width="1" />
<text transform="translate(70.45,648.50) rotate(-45)" font-size="7.2" letter-spacing="0.42" text-anchor="end" fill="#231f20" stroke="#231f20" stroke-width="0.12">mCG2-1</text>
<line x1="79.40" y1="640.60" x2="79.40" y2="643.20" stroke="#3a3a3a" stroke-width="1" />
<text transform="translate(81.20,648.50) rotate(-45)" font-size="7.2" letter-spacing="0.42" text-anchor="end" fill="#231f20" stroke="#231f20" stroke-width="0.12">mCG2-2</text>
<line x1="90.15" y1="640.60" x2="90.15" y2="643.20" stroke="#3a3a3a" stroke-width="1" />
<text transform="translate(91.95,648.50) rotate(-45)" font-size="7.2" letter-spacing="0.42" text-anchor="end" fill="#231f20" stroke="#231f20" stroke-width="0.12">pdxNTF</text>
<line x1="100.90" y1="640.60" x2="100.90" y2="643.20" stroke="#3a3a3a" stroke-width="1" />
<text transform="translate(102.70,648.50) rotate(-45)" font-size="7.2" letter-spacing="0.42" text-anchor="end" fill="#231f20" stroke="#231f20" stroke-width="0.12">mN5A</text>
<line x1="111.65" y1="640.60" x2="111.65" y2="643.20" stroke="#3a3a3a" stroke-width="1" />
<text transform="translate(113.45,648.50) rotate(-45)" font-size="7.2" letter-spacing="0.42" text-anchor="end" fill="#231f20" stroke="#231f20" stroke-width="0.12">ML2</text>
<line x1="166.40" y1="638.81" x2="166.40" y2="640.21" stroke="#3a3a3a" stroke-width="1.0" />
<line x1="164.50" y1="638.81" x2="168.30" y2="638.81" stroke="#3a3a3a" stroke-width="1.0" />
<rect x="163.05" y="639.71" width="6.7" height="0.89" fill="#4b5668"/>
<line x1="177.15" y1="636.13" x2="177.15" y2="637.97" stroke="#3a3a3a" stroke-width="1.0" />
<line x1="175.25" y1="636.13" x2="179.05" y2="636.13" stroke="#3a3a3a" stroke-width="1.0" />
<rect x="173.80" y="637.47" width="6.7" height="3.13" fill="#c46f1f"/>
<line x1="187.90" y1="638.81" x2="187.90" y2="640.21" stroke="#3a3a3a" stroke-width="1.0" />
<line x1="186.00" y1="638.81" x2="189.80" y2="638.81" stroke="#3a3a3a" stroke-width="1.0" />
<rect x="184.55" y="639.71" width="6.7" height="0.89" fill="#dd9a55"/>
<line x1="198.65" y1="636.85" x2="198.65" y2="640.65" stroke="#3a3a3a" stroke-width="1.0" />
<line x1="196.75" y1="636.85" x2="200.55" y2="636.85" stroke="#3a3a3a" stroke-width="1.0" />
<rect x="195.30" y="640.15" width="6.7" height="0.45" fill="#4c1a62"/>
<line x1="209.40" y1="638.37" x2="209.40" y2="640.21" stroke="#3a3a3a" stroke-width="1.0" />
<line x1="207.50" y1="638.37" x2="211.30" y2="638.37" stroke="#3a3a3a" stroke-width="1.0" />
<rect x="206.05" y="639.71" width="6.7" height="0.89" fill="#9b8fc9"/>
<line x1="220.15" y1="574.89" x2="220.15" y2="595.51" stroke="#3a3a3a" stroke-width="1.0" />
<line x1="218.25" y1="574.89" x2="222.05" y2="574.89" stroke="#3a3a3a" stroke-width="1.0" />
<rect x="216.80" y="595.01" width="6.7" height="45.59" fill="#1d6b51"/>
<path d="M166.40,633.50 L166.40,564.20 L220.15,564.20 L220.15,569.40" stroke="#333" stroke-width="1.0" fill="none" />
<text x="193.27" y="563.40" font-size="6.6" text-anchor="middle" font-weight="normal" fill="#231f20" stroke="#231f20" stroke-width="0.3" letter-spacing="0.3">****</text>
<line x1="159.20" y1="548.60" x2="159.20" y2="641.20" stroke="#3a3a3a" stroke-width="1.3" />
<line x1="158.60" y1="640.60" x2="226.90" y2="640.60" stroke="#3a3a3a" stroke-width="1.3" />
<line x1="156.20" y1="640.60" x2="159.20" y2="640.60" stroke="#3a3a3a" stroke-width="1" />
<text x="152.40" y="643.10" font-size="7.2" text-anchor="end" font-weight="normal" fill="#231f20" stroke="#231f20" stroke-width="0.18" >0</text>
<line x1="156.20" y1="622.72" x2="159.20" y2="622.72" stroke="#3a3a3a" stroke-width="1" />
<text x="152.40" y="625.22" font-size="7.2" text-anchor="end" font-weight="normal" fill="#231f20" stroke="#231f20" stroke-width="0.18" >20</text>
<line x1="156.20" y1="604.84" x2="159.20" y2="604.84" stroke="#3a3a3a" stroke-width="1" />
<text x="152.40" y="607.34" font-size="7.2" text-anchor="end" font-weight="normal" fill="#231f20" stroke="#231f20" stroke-width="0.18" >40</text>
<line x1="156.20" y1="586.96" x2="159.20" y2="586.96" stroke="#3a3a3a" stroke-width="1" />
<text x="152.40" y="589.46" font-size="7.2" text-anchor="end" font-weight="normal" fill="#231f20" stroke="#231f20" stroke-width="0.18" >60</text>
<line x1="156.20" y1="569.08" x2="159.20" y2="569.08" stroke="#3a3a3a" stroke-width="1" />
<text x="152.40" y="571.58" font-size="7.2" text-anchor="end" font-weight="normal" fill="#231f20" stroke="#231f20" stroke-width="0.18" >80</text>
<line x1="156.20" y1="551.20" x2="159.20" y2="551.20" stroke="#3a3a3a" stroke-width="1" />
<text x="152.40" y="553.70" font-size="7.2" text-anchor="end" font-weight="normal" fill="#231f20" stroke="#231f20" stroke-width="0.18" >100</text>
<line x1="166.40" y1="640.60" x2="166.40" y2="643.20" stroke="#3a3a3a" stroke-width="1" />
<text transform="translate(168.20,648.50) rotate(-45)" font-size="7.2" letter-spacing="0.42" text-anchor="end" fill="#231f20" stroke="#231f20" stroke-width="0.12">CB-CD34+</text>
<line x1="177.15" y1="640.60" x2="177.15" y2="643.20" stroke="#3a3a3a" stroke-width="1" />
<text transform="translate(178.95,648.50) rotate(-45)" font-size="7.2" letter-spacing="0.42" text-anchor="end" fill="#231f20" stroke="#231f20" stroke-width="0.12">mCG2-1</text>
<line x1="187.90" y1="640.60" x2="187.90" y2="643.20" stroke="#3a3a3a" stroke-width="1" />
<text transform="translate(189.70,648.50) rotate(-45)" font-size="7.2" letter-spacing="0.42" text-anchor="end" fill="#231f20" stroke="#231f20" stroke-width="0.12">mCG2-2</text>
<line x1="198.65" y1="640.60" x2="198.65" y2="643.20" stroke="#3a3a3a" stroke-width="1" />
<text transform="translate(200.45,648.50) rotate(-45)" font-size="7.2" letter-spacing="0.42" text-anchor="end" fill="#231f20" stroke="#231f20" stroke-width="0.12">pdxNTF</text>
<line x1="209.40" y1="640.60" x2="209.40" y2="643.20" stroke="#3a3a3a" stroke-width="1" />
<text transform="translate(211.20,648.50) rotate(-45)" font-size="7.2" letter-spacing="0.42" text-anchor="end" fill="#231f20" stroke="#231f20" stroke-width="0.12">mN5A</text>
<line x1="220.15" y1="640.60" x2="220.15" y2="643.20" stroke="#3a3a3a" stroke-width="1" />
<text transform="translate(221.95,648.50) rotate(-45)" font-size="7.2" letter-spacing="0.42" text-anchor="end" fill="#231f20" stroke="#231f20" stroke-width="0.12">ML2</text>
<line x1="275.00" y1="590.09" x2="275.00" y2="608.20" stroke="#3a3a3a" stroke-width="1.0" />
<line x1="273.10" y1="590.09" x2="276.90" y2="590.09" stroke="#3a3a3a" stroke-width="1.0" />
<rect x="271.65" y="607.70" width="6.7" height="32.90" fill="#4b5668"/>
<line x1="285.75" y1="622.09" x2="285.75" y2="625.46" stroke="#3a3a3a" stroke-width="1.0" />
<line x1="283.85" y1="622.09" x2="287.65" y2="622.09" stroke="#3a3a3a" stroke-width="1.0" />
<rect x="282.40" y="624.96" width="6.7" height="15.64" fill="#c46f1f"/>
<line x1="296.50" y1="632.55" x2="296.50" y2="635.20" stroke="#3a3a3a" stroke-width="1.0" />
<line x1="294.60" y1="632.55" x2="298.40" y2="632.55" stroke="#3a3a3a" stroke-width="1.0" />
<rect x="293.15" y="634.70" width="6.7" height="5.90" fill="#dd9a55"/>
<line x1="307.25" y1="634.34" x2="307.25" y2="638.42" stroke="#3a3a3a" stroke-width="1.0" />
<line x1="305.35" y1="634.34" x2="309.15" y2="634.34" stroke="#3a3a3a" stroke-width="1.0" />
<rect x="303.90" y="637.92" width="6.7" height="2.68" fill="#4c1a62"/>
<line x1="318.00" y1="634.70" x2="318.00" y2="636.63" stroke="#3a3a3a" stroke-width="1.0" />
<line x1="316.10" y1="634.70" x2="319.90" y2="634.70" stroke="#3a3a3a" stroke-width="1.0" />
<rect x="314.65" y="636.13" width="6.7" height="4.47" fill="#9b8fc9"/>
<line x1="328.75" y1="553.26" x2="328.75" y2="555.28" stroke="#3a3a3a" stroke-width="1.0" />
<line x1="326.85" y1="553.26" x2="330.65" y2="553.26" stroke="#3a3a3a" stroke-width="1.0" />
<rect x="325.40" y="554.78" width="6.7" height="85.82" fill="#1d6b51"/>
<path d="M275.00,586.30 L275.00,546.90 L328.75,546.90 L328.75,550.30" stroke="#333" stroke-width="1.0" fill="none" />
<text x="301.88" y="546.10" font-size="6.6" text-anchor="middle" font-weight="normal" fill="#231f20" stroke="#231f20" stroke-width="0.3" letter-spacing="0.3">****</text>
<line x1="267.80" y1="548.60" x2="267.80" y2="641.20" stroke="#3a3a3a" stroke-width="1.3" />
<line x1="267.20" y1="640.60" x2="335.50" y2="640.60" stroke="#3a3a3a" stroke-width="1.3" />
<line x1="264.80" y1="640.60" x2="267.80" y2="640.60" stroke="#3a3a3a" stroke-width="1" />
<text x="261.00" y="643.10" font-size="7.2" text-anchor="end" font-weight="normal" fill="#231f20" stroke="#231f20" stroke-width="0.18" >0</text>
<line x1="264.80" y1="622.72" x2="267.80" y2="622.72" stroke="#3a3a3a" stroke-width="1" />
<text x="261.00" y="625.22" font-size="7.2" text-anchor="end" font-weight="normal" fill="#231f20" stroke="#231f20" stroke-width="0.18" >20</text>
<line x1="264.80" y1="604.84" x2="267.80" y2="604.84" stroke="#3a3a3a" stroke-width="1" />
<text x="261.00" y="607.34" font-size="7.2" text-anchor="end" font-weight="normal" fill="#231f20" stroke="#231f20" stroke-width="0.18" >40</text>
<line x1="264.80" y1="586.96" x2="267.80" y2="586.96" stroke="#3a3a3a" stroke-width="1" />
<text x="261.00" y="589.46" font-size="7.2" text-anchor="end" font-weight="normal" fill="#231f20" stroke="#231f20" stroke-width="0.18" >60</text>
<line x1="264.80" y1="569.08" x2="267.80" y2="569.08" stroke="#3a3a3a" stroke-width="1" />
<text x="261.00" y="571.58" font-size="7.2" text-anchor="end" font-weight="normal" fill="#231f20" stroke="#231f20" stroke-width="0.18" >80</text>
<line x1="264.80" y1="551.20" x2="267.80" y2="551.20" stroke="#3a3a3a" stroke-width="1" />
<text x="261.00" y="553.70" font-size="7.2" text-anchor="end" font-weight="normal" fill="#231f20" stroke="#231f20" stroke-width="0.18" >100</text>
<line x1="275.00" y1="640.60" x2="275.00" y2="643.20" stroke="#3a3a3a" stroke-width="1" />
<text transform="translate(276.80,648.50) rotate(-45)" font-size="7.2" letter-spacing="0.42" text-anchor="end" fill="#231f20" stroke="#231f20" stroke-width="0.12">CB-CD34+</text>
<line x1="285.75" y1="640.60" x2="285.75" y2="643.20" stroke="#3a3a3a" stroke-width="1" />
<text transform="translate(287.55,648.50) rotate(-45)" font-size="7.2" letter-spacing="0.42" text-anchor="end" fill="#231f20" stroke="#231f20" stroke-width="0.12">mCG2-1</text>
<line x1="296.50" y1="640.60" x2="296.50" y2="643.20" stroke="#3a3a3a" stroke-width="1" />
<text transform="translate(298.30,648.50) rotate(-45)" font-size="7.2" letter-spacing="0.42" text-anchor="end" fill="#231f20" stroke="#231f20" stroke-width="0.12">mCG2-2</text>
<line x1="307.25" y1="640.60" x2="307.25" y2="643.20" stroke="#3a3a3a" stroke-width="1" />
<text transform="translate(309.05,648.50) rotate(-45)" font-size="7.2" letter-spacing="0.42" text-anchor="end" fill="#231f20" stroke="#231f20" stroke-width="0.12">pdxNTF</text>
<line x1="318.00" y1="640.60" x2="318.00" y2="643.20" stroke="#3a3a3a" stroke-width="1" />
<text transform="translate(319.80,648.50) rotate(-45)" font-size="7.2" letter-spacing="0.42" text-anchor="end" fill="#231f20" stroke="#231f20" stroke-width="0.12">mN5A</text>
<line x1="328.75" y1="640.60" x2="328.75" y2="643.20" stroke="#3a3a3a" stroke-width="1" />
<text transform="translate(330.55,648.50) rotate(-45)" font-size="7.2" letter-spacing="0.42" text-anchor="end" fill="#231f20" stroke="#231f20" stroke-width="0.12">ML2</text>
<g transform="translate(13.60,412.90) rotate(-90) scale(0.73,1)"><text x="0.23" y="0" font-size="8.0" text-anchor="middle" fill="#231f20" stroke="#231f20" stroke-width="0.3" letter-spacing="0.45">% AnnexinV+ cells</text></g>
<g transform="translate(24.80,412.90) rotate(-90) scale(0.72,1)"><text x="0.23" y="0" font-size="8.0" text-anchor="middle" fill="#231f20" stroke="#231f20" stroke-width="0.3" letter-spacing="0.45">(normalised to DMSO)</text></g>
<g transform="translate(13.60,594.60) rotate(-90) scale(0.73,1)"><text x="0.23" y="0" font-size="8.0" text-anchor="middle" fill="#231f20" stroke="#231f20" stroke-width="0.3" letter-spacing="0.45">% AnnexinV+ cells</text></g>
<g transform="translate(24.80,594.60) rotate(-90) scale(0.72,1)"><text x="0.23" y="0" font-size="8.0" text-anchor="middle" fill="#231f20" stroke="#231f20" stroke-width="0.3" letter-spacing="0.45">(normalised to DMSO)</text></g>
<line x1="367.50" y1="335.00" x2="378.50" y2="335.00" stroke="#c8701e" stroke-width="1.0" stroke-dasharray="2.2,1.2"/>
<circle cx="373.00" cy="335.00" r="1.6" fill="#905015"/>
<text x="382.10" y="337.55" font-size="7.25" text-anchor="start" font-weight="normal" fill="#231f20" stroke="#231f20" stroke-width="0.18" >mCG2-1</text>
<line x1="367.50" y1="346.00" x2="378.50" y2="346.00" stroke="#e8943e" stroke-width="1.0" stroke-dasharray="2.2,1.2"/>
<circle cx="373.00" cy="346.00" r="1.6" fill="#a76a2c"/>
<text x="382.10" y="348.55" font-size="7.25" text-anchor="start" font-weight="normal" fill="#231f20" stroke="#231f20" stroke-width="0.18" >mCG2-2</text>
<line x1="413.20" y1="335.00" x2="424.20" y2="335.00" stroke="#3f1a5c" stroke-width="1.0" stroke-dasharray="2.2,1.2"/>
<circle cx="418.70" cy="335.00" r="1.6" fill="#2d1242"/>
<text x="427.80" y="337.55" font-size="7.25" text-anchor="start" font-weight="normal" fill="#231f20" stroke="#231f20" stroke-width="0.18" >pdxNTF</text>
<line x1="413.20" y1="346.00" x2="424.20" y2="346.00" stroke="#9a8ec6" stroke-width="1.0" stroke-dasharray="2.2,1.2"/>
<circle cx="418.70" cy="346.00" r="1.6" fill="#6e668e"/>
<text x="427.80" y="348.55" font-size="7.25" text-anchor="start" font-weight="normal" fill="#231f20" stroke="#231f20" stroke-width="0.18" >mN5A</text>
<line x1="455.50" y1="335.00" x2="466.50" y2="335.00" stroke="#2a2a2a" stroke-width="1.0" stroke-dasharray="2.2,1.2"/>
<circle cx="461.00" cy="335.00" r="1.6" fill="#1e1e1e"/>
<text x="470.10" y="337.55" font-size="7.25" text-anchor="start" font-weight="normal" fill="#231f20" stroke="#231f20" stroke-width="0.18" >CB-CD34+-1</text>
<line x1="455.50" y1="346.00" x2="466.50" y2="346.00" stroke="#c8c8c8" stroke-width="1.0" stroke-dasharray="2.2,1.2"/>
<circle cx="461.00" cy="346.00" r="1.6" fill="#909090"/>
<text x="470.10" y="348.55" font-size="7.25" text-anchor="start" font-weight="normal" fill="#231f20" stroke="#231f20" stroke-width="0.18" >CB-CD34+-2</text>
<line x1="367.50" y1="514.20" x2="378.50" y2="514.20" stroke="#c8701e" stroke-width="1.0" stroke-dasharray="2.2,1.2"/>
<circle cx="373.00" cy="514.20" r="1.6" fill="#905015"/>
<text x="382.10" y="516.75" font-size="7.25" text-anchor="start" font-weight="normal" fill="#231f20" stroke="#231f20" stroke-width="0.18" >mCG2-1</text>
<line x1="367.50" y1="525.60" x2="378.50" y2="525.60" stroke="#e8943e" stroke-width="1.0" stroke-dasharray="2.2,1.2"/>
<circle cx="373.00" cy="525.60" r="1.6" fill="#a76a2c"/>
<text x="382.10" y="528.15" font-size="7.25" text-anchor="start" font-weight="normal" fill="#231f20" stroke="#231f20" stroke-width="0.18" >mCG2-2</text>
<line x1="413.20" y1="514.20" x2="424.20" y2="514.20" stroke="#3f1a5c" stroke-width="1.0" stroke-dasharray="2.2,1.2"/>
<circle cx="418.70" cy="514.20" r="1.6" fill="#2d1242"/>
<text x="427.80" y="516.75" font-size="7.25" text-anchor="start" font-weight="normal" fill="#231f20" stroke="#231f20" stroke-width="0.18" >pdxNTF</text>
<line x1="413.20" y1="525.60" x2="424.20" y2="525.60" stroke="#9a8ec6" stroke-width="1.0" stroke-dasharray="2.2,1.2"/>
<circle cx="418.70" cy="525.60" r="1.6" fill="#6e668e"/>
<text x="427.80" y="528.15" font-size="7.25" text-anchor="start" font-weight="normal" fill="#231f20" stroke="#231f20" stroke-width="0.18" >mN5A</text>
<line x1="455.50" y1="514.20" x2="466.50" y2="514.20" stroke="#2a2a2a" stroke-width="1.0" stroke-dasharray="2.2,1.2"/>
<circle cx="461.00" cy="514.20" r="1.6" fill="#1e1e1e"/>
<text x="470.10" y="516.75" font-size="7.25" text-anchor="start" font-weight="normal" fill="#231f20" stroke="#231f20" stroke-width="0.18" >CB-CD34+-1</text>
<line x1="455.50" y1="525.60" x2="466.50" y2="525.60" stroke="#c8c8c8" stroke-width="1.0" stroke-dasharray="2.2,1.2"/>
<circle cx="461.00" cy="525.60" r="1.6" fill="#909090"/>
<text x="470.10" y="528.15" font-size="7.25" text-anchor="start" font-weight="normal" fill="#231f20" stroke="#231f20" stroke-width="0.18" >CB-CD34+-2</text>
<text x="441.00" y="360.60" font-size="8.6" text-anchor="middle" font-weight="normal" fill="#231f20" stroke="#231f20" stroke-width="0.18" >Navitoclax</text>
<text x="441.00" y="540.20" font-size="8.6" text-anchor="middle" font-weight="normal" fill="#231f20" stroke="#231f20" stroke-width="0.18" >Venetoclax</text>
<path d="M409.30,455.40 L417.60,429.03 L425.70,385.49" stroke="#eb9a48" stroke-width="0.9" fill="none" stroke-dasharray="1.8,1.2"/>
<circle cx="409.30" cy="455.40" r="1.35" fill="#eb9a48"/>
<circle cx="417.60" cy="429.03" r="1.35" fill="#eb9a48"/>
<circle cx="425.70" cy="385.49" r="1.35" fill="#eb9a48"/>
<circle cx="433.90" cy="383.97" r="1.4" fill="#eb9a48"/>
<path d="M409.30,447.18 L417.60,410.97 L425.70,381.92" stroke="#c8701e" stroke-width="0.9" fill="none" stroke-dasharray="1.8,1.2"/>
<circle cx="409.30" cy="447.18" r="1.35" fill="#c8701e"/>
<circle cx="417.60" cy="410.97" r="1.35" fill="#c8701e"/>
<circle cx="425.70" cy="381.92" r="1.35" fill="#c8701e"/>
<circle cx="433.90" cy="383.26" r="1.4" fill="#c8701e"/>
<path d="M409.30,441.28 L417.60,414.37 L425.70,391.57" stroke="#9a8ec6" stroke-width="0.9" fill="none" stroke-dasharray="1.8,1.2"/>
<circle cx="409.30" cy="441.28" r="1.35" fill="#9a8ec6"/>
<circle cx="417.60" cy="414.37" r="1.35" fill="#9a8ec6"/>
<circle cx="425.70" cy="391.57" r="1.35" fill="#9a8ec6"/>
<circle cx="433.90" cy="389.78" r="1.4" fill="#9a8ec6"/>
<path d="M409.30,448.97 L417.60,424.83 L425.70,407.48" stroke="#3f1a5c" stroke-width="0.9" fill="none" stroke-dasharray="1.8,1.2"/>
<circle cx="409.30" cy="448.97" r="1.35" fill="#3f1a5c"/>
<circle cx="417.60" cy="424.83" r="1.35" fill="#3f1a5c"/>
<circle cx="425.70" cy="407.48" r="1.35" fill="#3f1a5c"/>
<circle cx="433.90" cy="410.08" r="1.4" fill="#3f1a5c"/>
<path d="M447.80,445.57 L456.00,425.72 L464.20,385.49" stroke="#c8c8c8" stroke-width="0.9" fill="none" stroke-dasharray="1.8,1.2"/>
<circle cx="447.80" cy="445.57" r="1.35" fill="#c8c8c8"/>
<circle cx="456.00" cy="425.72" r="1.35" fill="#c8c8c8"/>
<circle cx="464.20" cy="385.49" r="1.35" fill="#c8c8c8"/>
<line x1="464.20" y1="383.70" x2="464.20" y2="390.86" stroke="#3a3a3a" stroke-width="0.7" />
<line x1="462.80" y1="383.70" x2="465.60" y2="383.70" stroke="#3a3a3a" stroke-width="0.7" />
<line x1="462.80" y1="390.86" x2="465.60" y2="390.86" stroke="#3a3a3a" stroke-width="0.7" />
<path d="M447.80,454.51 L456.00,446.91 L464.20,387.28" stroke="#3a3a3a" stroke-width="0.9" fill="none" stroke-dasharray="1.8,1.2"/>
<circle cx="447.80" cy="454.51" r="1.35" fill="#3a3a3a"/>
<circle cx="456.00" cy="446.91" r="1.35" fill="#3a3a3a"/>
<circle cx="464.20" cy="387.28" r="1.35" fill="#3a3a3a"/>
<line x1="472.40" y1="383.26" x2="472.40" y2="399.35" stroke="#9a9a9a" stroke-width="0.8" />
<line x1="470.80" y1="383.26" x2="474.00" y2="383.26" stroke="#9a9a9a" stroke-width="0.8" />
<line x1="470.80" y1="399.35" x2="474.00" y2="399.35" stroke="#9a9a9a" stroke-width="0.8" />
<circle cx="472.40" cy="390.86" r="1.2" fill="#c8c8c8"/>
<line x1="403.90" y1="366.60" x2="403.90" y2="459.40" stroke="#3a3a3a" stroke-width="1.3" />
<line x1="403.30" y1="458.80" x2="477.70" y2="458.80" stroke="#3a3a3a" stroke-width="1.3" />
<line x1="400.90" y1="458.80" x2="403.90" y2="458.80" stroke="#3a3a3a" stroke-width="1" />
<text x="397.50" y="461.40" font-size="7.5" text-anchor="end" font-weight="normal" fill="#231f20" stroke="#231f20" stroke-width="0.18" >0</text>
<line x1="400.90" y1="440.92" x2="403.90" y2="440.92" stroke="#3a3a3a" stroke-width="1" />
<text x="397.50" y="443.52" font-size="7.5" text-anchor="end" font-weight="normal" fill="#231f20" stroke="#231f20" stroke-width="0.18" >20</text>
<line x1="400.90" y1="423.04" x2="403.90" y2="423.04" stroke="#3a3a3a" stroke-width="1" />
<text x="397.50" y="425.64" font-size="7.5" text-anchor="end" font-weight="normal" fill="#231f20" stroke="#231f20" stroke-width="0.18" >40</text>
<line x1="400.90" y1="405.16" x2="403.90" y2="405.16" stroke="#3a3a3a" stroke-width="1" />
<text x="397.50" y="407.76" font-size="7.5" text-anchor="end" font-weight="normal" fill="#231f20" stroke="#231f20" stroke-width="0.18" >60</text>
<line x1="400.90" y1="387.28" x2="403.90" y2="387.28" stroke="#3a3a3a" stroke-width="1" />
<text x="397.50" y="389.88" font-size="7.5" text-anchor="end" font-weight="normal" fill="#231f20" stroke="#231f20" stroke-width="0.18" >80</text>
<line x1="400.90" y1="369.40" x2="403.90" y2="369.40" stroke="#3a3a3a" stroke-width="1" />
<text x="397.50" y="372.00" font-size="7.5" text-anchor="end" font-weight="normal" fill="#231f20" stroke="#231f20" stroke-width="0.18" >100</text>
<line x1="409.30" y1="458.80" x2="409.30" y2="461.40" stroke="#3a3a3a" stroke-width="1" />
<text transform="translate(410.90,467.60) rotate(-45)" font-size="7.0" letter-spacing="0.42" text-anchor="end" fill="#231f20" stroke="#231f20" stroke-width="0.1">100nM</text>
<line x1="417.60" y1="458.80" x2="417.60" y2="461.40" stroke="#3a3a3a" stroke-width="1" />
<text transform="translate(419.20,467.60) rotate(-45)" font-size="7.0" letter-spacing="0.42" text-anchor="end" fill="#231f20" stroke="#231f20" stroke-width="0.1">500nM</text>
<line x1="425.70" y1="458.80" x2="425.70" y2="461.40" stroke="#3a3a3a" stroke-width="1" />
<text transform="translate(427.30,467.60) rotate(-45)" font-size="7.0" letter-spacing="0.42" text-anchor="end" fill="#231f20" stroke="#231f20" stroke-width="0.1">10μM</text>
<line x1="433.90" y1="458.80" x2="433.90" y2="461.40" stroke="#3a3a3a" stroke-width="1" />
<text transform="translate(435.50,467.60) rotate(-45)" font-size="7.0" letter-spacing="0.42" text-anchor="end" fill="#231f20" stroke="#231f20" stroke-width="0.1">STS (+ctrl)</text>
<line x1="447.80" y1="458.80" x2="447.80" y2="461.40" stroke="#3a3a3a" stroke-width="1" />
<text transform="translate(449.40,467.60) rotate(-45)" font-size="7.0" letter-spacing="0.42" text-anchor="end" fill="#231f20" stroke="#231f20" stroke-width="0.1">100nM</text>
<line x1="456.00" y1="458.80" x2="456.00" y2="461.40" stroke="#3a3a3a" stroke-width="1" />
<text transform="translate(457.60,467.60) rotate(-45)" font-size="7.0" letter-spacing="0.42" text-anchor="end" fill="#231f20" stroke="#231f20" stroke-width="0.1">500nM</text>
<line x1="464.20" y1="458.80" x2="464.20" y2="461.40" stroke="#3a3a3a" stroke-width="1" />
<text transform="translate(465.80,467.60) rotate(-45)" font-size="7.0" letter-spacing="0.42" text-anchor="end" fill="#231f20" stroke="#231f20" stroke-width="0.1">10μM</text>
<line x1="472.40" y1="458.80" x2="472.40" y2="461.40" stroke="#3a3a3a" stroke-width="1" />
<text transform="translate(474.00,467.60) rotate(-45)" font-size="7.0" letter-spacing="0.42" text-anchor="end" fill="#231f20" stroke="#231f20" stroke-width="0.1">STS (+ctrl)</text>
<path d="M409.30,635.33 L417.30,635.76 L425.50,631.56" stroke="#eb9a48" stroke-width="0.9" fill="none" stroke-dasharray="1.8,1.2"/>
<circle cx="409.30" cy="635.33" r="1.35" fill="#eb9a48"/>
<circle cx="417.30" cy="635.76" r="1.35" fill="#eb9a48"/>
<circle cx="425.50" cy="631.56" r="1.35" fill="#eb9a48"/>
<circle cx="433.60" cy="562.96" r="1.4" fill="#eb9a48"/>
<path d="M409.30,635.50 L417.30,635.76 L425.50,625.96" stroke="#c8701e" stroke-width="0.9" fill="none" stroke-dasharray="1.8,1.2"/>
<circle cx="409.30" cy="635.50" r="1.35" fill="#c8701e"/>
<circle cx="417.30" cy="635.76" r="1.35" fill="#c8701e"/>
<circle cx="425.50" cy="625.96" r="1.35" fill="#c8701e"/>
<circle cx="433.60" cy="562.26" r="1.4" fill="#c8701e"/>
<path d="M409.30,635.76 L417.30,635.76 L425.50,635.76" stroke="#9a8ec6" stroke-width="0.9" fill="none" stroke-dasharray="1.8,1.2"/>
<circle cx="409.30" cy="635.76" r="1.35" fill="#9a8ec6"/>
<circle cx="417.30" cy="635.76" r="1.35" fill="#9a8ec6"/>
<circle cx="425.50" cy="635.76" r="1.35" fill="#9a8ec6"/>
<circle cx="433.60" cy="568.83" r="1.4" fill="#9a8ec6"/>
<path d="M409.30,635.94 L417.30,635.94 L425.50,635.94" stroke="#3f1a5c" stroke-width="0.9" fill="none" stroke-dasharray="1.8,1.2"/>
<circle cx="409.30" cy="635.94" r="1.35" fill="#3f1a5c"/>
<circle cx="417.30" cy="635.94" r="1.35" fill="#3f1a5c"/>
<circle cx="425.50" cy="635.94" r="1.35" fill="#3f1a5c"/>
<circle cx="433.60" cy="588.08" r="1.4" fill="#3f1a5c"/>
<line x1="447.20" y1="629.20" x2="447.20" y2="634.45" stroke="#c8c8c8" stroke-width="0.7" />
<line x1="445.80" y1="629.20" x2="448.60" y2="629.20" stroke="#c8c8c8" stroke-width="0.7" />
<line x1="445.80" y1="634.45" x2="448.60" y2="634.45" stroke="#c8c8c8" stroke-width="0.7" />
<line x1="463.40" y1="588.95" x2="463.40" y2="607.33" stroke="#c8c8c8" stroke-width="0.7" />
<line x1="462.00" y1="588.95" x2="464.80" y2="588.95" stroke="#c8c8c8" stroke-width="0.7" />
<line x1="462.00" y1="607.33" x2="464.80" y2="607.33" stroke="#c8c8c8" stroke-width="0.7" />
<path d="M447.20,631.83 L455.30,630.95 L463.40,598.58" stroke="#c8c8c8" stroke-width="0.9" fill="none" stroke-dasharray="1.8,1.2"/>
<circle cx="447.20" cy="631.83" r="1.35" fill="#c8c8c8"/>
<circle cx="455.30" cy="630.95" r="1.35" fill="#c8c8c8"/>
<circle cx="463.40" cy="598.58" r="1.35" fill="#c8c8c8"/>
<path d="M447.20,635.33 L455.30,635.76 L463.40,619.14" stroke="#3a3a3a" stroke-width="0.9" fill="none" stroke-dasharray="1.8,1.2"/>
<circle cx="447.20" cy="635.33" r="1.35" fill="#3a3a3a"/>
<circle cx="455.30" cy="635.76" r="1.35" fill="#3a3a3a"/>
<circle cx="463.40" cy="619.14" r="1.35" fill="#3a3a3a"/>
<line x1="471.40" y1="561.83" x2="471.40" y2="577.58" stroke="#9a9a9a" stroke-width="0.8" />
<line x1="469.80" y1="561.83" x2="473.00" y2="561.83" stroke="#9a9a9a" stroke-width="0.8" />
<line x1="469.80" y1="577.58" x2="473.00" y2="577.58" stroke="#9a9a9a" stroke-width="0.8" />
<circle cx="471.40" cy="569.70" r="1.2" fill="#c8c8c8"/>
<line x1="403.70" y1="545.90" x2="403.70" y2="641.20" stroke="#3a3a3a" stroke-width="1.3" />
<line x1="403.10" y1="640.60" x2="476.50" y2="640.60" stroke="#3a3a3a" stroke-width="1.3" />
<line x1="400.70" y1="636.20" x2="403.70" y2="636.20" stroke="#3a3a3a" stroke-width="1" />
<text x="397.30" y="638.80" font-size="7.5" text-anchor="end" font-weight="normal" fill="#231f20" stroke="#231f20" stroke-width="0.18" >0</text>
<line x1="400.70" y1="618.70" x2="403.70" y2="618.70" stroke="#3a3a3a" stroke-width="1" />
<text x="397.30" y="621.30" font-size="7.5" text-anchor="end" font-weight="normal" fill="#231f20" stroke="#231f20" stroke-width="0.18" >20</text>
<line x1="400.70" y1="601.20" x2="403.70" y2="601.20" stroke="#3a3a3a" stroke-width="1" />
<text x="397.30" y="603.80" font-size="7.5" text-anchor="end" font-weight="normal" fill="#231f20" stroke="#231f20" stroke-width="0.18" >40</text>
<line x1="400.70" y1="583.70" x2="403.70" y2="583.70" stroke="#3a3a3a" stroke-width="1" />
<text x="397.30" y="586.30" font-size="7.5" text-anchor="end" font-weight="normal" fill="#231f20" stroke="#231f20" stroke-width="0.18" >60</text>
<line x1="400.70" y1="566.20" x2="403.70" y2="566.20" stroke="#3a3a3a" stroke-width="1" />
<text x="397.30" y="568.80" font-size="7.5" text-anchor="end" font-weight="normal" fill="#231f20" stroke="#231f20" stroke-width="0.18" >80</text>
<line x1="400.70" y1="548.70" x2="403.70" y2="548.70" stroke="#3a3a3a" stroke-width="1" />
<text x="397.30" y="551.30" font-size="7.5" text-anchor="end" font-weight="normal" fill="#231f20" stroke="#231f20" stroke-width="0.18" >100</text>
<line x1="409.30" y1="640.60" x2="409.30" y2="643.20" stroke="#3a3a3a" stroke-width="1" />
<text transform="translate(410.90,649.40) rotate(-45)" font-size="7.0" letter-spacing="0.42" text-anchor="end" fill="#231f20" stroke="#231f20" stroke-width="0.1">100nM</text>
<line x1="417.30" y1="640.60" x2="417.30" y2="643.20" stroke="#3a3a3a" stroke-width="1" />
<text transform="translate(418.90,649.40) rotate(-45)" font-size="7.0" letter-spacing="0.42" text-anchor="end" fill="#231f20" stroke="#231f20" stroke-width="0.1">500nM</text>
<line x1="425.50" y1="640.60" x2="425.50" y2="643.20" stroke="#3a3a3a" stroke-width="1" />
<text transform="translate(427.10,649.40) rotate(-45)" font-size="7.0" letter-spacing="0.42" text-anchor="end" fill="#231f20" stroke="#231f20" stroke-width="0.1">10μM</text>
<line x1="433.60" y1="640.60" x2="433.60" y2="643.20" stroke="#3a3a3a" stroke-width="1" />
<text transform="translate(435.20,649.40) rotate(-45)" font-size="7.0" letter-spacing="0.42" text-anchor="end" fill="#231f20" stroke="#231f20" stroke-width="0.1">STS (+ctrl)</text>
<line x1="447.20" y1="640.60" x2="447.20" y2="643.20" stroke="#3a3a3a" stroke-width="1" />
<text transform="translate(448.80,649.40) rotate(-45)" font-size="7.0" letter-spacing="0.42" text-anchor="end" fill="#231f20" stroke="#231f20" stroke-width="0.1">100nM</text>
<line x1="455.30" y1="640.60" x2="455.30" y2="643.20" stroke="#3a3a3a" stroke-width="1" />
<text transform="translate(456.90,649.40) rotate(-45)" font-size="7.0" letter-spacing="0.42" text-anchor="end" fill="#231f20" stroke="#231f20" stroke-width="0.1">500nM</text>
<line x1="463.40" y1="640.60" x2="463.40" y2="643.20" stroke="#3a3a3a" stroke-width="1" />
<text transform="translate(465.00,649.40) rotate(-45)" font-size="7.0" letter-spacing="0.42" text-anchor="end" fill="#231f20" stroke="#231f20" stroke-width="0.1">10μM</text>
<line x1="471.40" y1="640.60" x2="471.40" y2="643.20" stroke="#3a3a3a" stroke-width="1" />
<text transform="translate(473.00,649.40) rotate(-45)" font-size="7.0" letter-spacing="0.42" text-anchor="end" fill="#231f20" stroke="#231f20" stroke-width="0.1">STS (+ctrl)</text>
<g transform="translate(366.50,412.30) rotate(-90) scale(0.75,1)"><text x="0.23" y="0" font-size="8.0" text-anchor="middle" fill="#231f20" stroke="#231f20" stroke-width="0.3" letter-spacing="0.45">MitoSox+ cells (%)</text></g>
<g transform="translate(378.30,412.30) rotate(-90) scale(0.72,1)"><text x="0.23" y="0" font-size="8.0" text-anchor="middle" fill="#231f20" stroke="#231f20" stroke-width="0.3" letter-spacing="0.45">(normalised against DMSO)</text></g>
<g transform="translate(366.50,593.50) rotate(-90) scale(0.75,1)"><text x="0.23" y="0" font-size="8.0" text-anchor="middle" fill="#231f20" stroke="#231f20" stroke-width="0.3" letter-spacing="0.45">MitoSox+ cells (%)</text></g>
<g transform="translate(378.30,593.50) rotate(-90) scale(0.72,1)"><text x="0.23" y="0" font-size="8.0" text-anchor="middle" fill="#231f20" stroke="#231f20" stroke-width="0.3" letter-spacing="0.45">(normalised against DMSO)</text></g>
</svg></body></html>
